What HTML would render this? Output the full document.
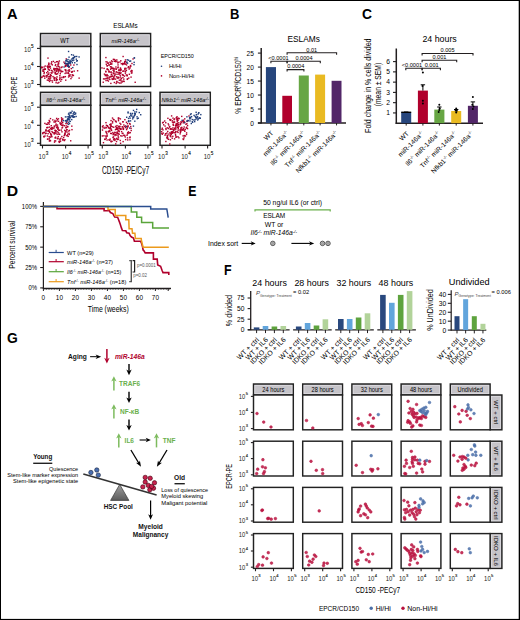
<!DOCTYPE html>
<html><head><meta charset="utf-8"><style>
html,body{margin:0;padding:0;background:#fff;width:520px;height:620px;overflow:hidden;}
svg{display:block;font-family:"Liberation Sans",sans-serif;}
</style></head><body>
<svg width="520" height="620" viewBox="0 0 520 620">
<rect x="0" y="0" width="520" height="620" fill="#fff"/>
<text x="7.00" y="18.80" font-size="14.5" font-weight="bold" fill="#000" textLength="10.60" lengthAdjust="spacingAndGlyphs" >A</text>
<text x="125.45" y="28.10" font-size="7.1" text-anchor="middle" textLength="24.50" lengthAdjust="spacingAndGlyphs" >ESLAMs</text>
<rect x="40.50" y="33.50" width="50.30" height="13.00" fill="#c6c4c9" stroke="#222" stroke-width="1.45"/>
<rect x="41.85" y="34.85" width="47.60" height="10.30" fill="none" stroke="#e0dfe3" stroke-width="0.7"/>
<rect x="40.50" y="46.50" width="50.30" height="40.00" fill="#fff" stroke="#222" stroke-width="1.45"/>
<text x="64.85" y="43.00" font-size="6.4" text-anchor="middle" textLength="9.10" lengthAdjust="spacingAndGlyphs" >WT</text>
<rect x="100.30" y="33.50" width="50.30" height="13.00" fill="#c6c4c9" stroke="#222" stroke-width="1.45"/>
<rect x="101.65" y="34.85" width="47.60" height="10.30" fill="none" stroke="#e0dfe3" stroke-width="0.7"/>
<rect x="100.30" y="46.50" width="50.30" height="40.00" fill="#fff" stroke="#222" stroke-width="1.45"/>
<text x="125.45" y="43.00" font-size="5.6" text-anchor="middle" font-style="italic">miR-146a<tspan font-size="3.7" dy="-2.1">-/-</tspan></text>
<rect x="40.50" y="92.30" width="50.30" height="13.00" fill="#c6c4c9" stroke="#222" stroke-width="1.45"/>
<rect x="41.85" y="93.65" width="47.60" height="10.30" fill="none" stroke="#e0dfe3" stroke-width="0.7"/>
<rect x="40.50" y="105.30" width="50.30" height="40.00" fill="#fff" stroke="#222" stroke-width="1.45"/>
<text x="65.65" y="101.80" font-size="5.6" text-anchor="middle" font-style="italic">Il6<tspan font-size="3.7" dy="-2.1">-/-</tspan><tspan dy="2.1"> miR-146a</tspan><tspan font-size="3.7" dy="-2.1">-/-</tspan></text>
<rect x="100.30" y="92.30" width="50.30" height="13.00" fill="#c6c4c9" stroke="#222" stroke-width="1.45"/>
<rect x="101.65" y="93.65" width="47.60" height="10.30" fill="none" stroke="#e0dfe3" stroke-width="0.7"/>
<rect x="100.30" y="105.30" width="50.30" height="40.00" fill="#fff" stroke="#222" stroke-width="1.45"/>
<text x="125.45" y="101.80" font-size="5.6" text-anchor="middle" font-style="italic">Tnf<tspan font-size="3.7" dy="-2.1">-/-</tspan><tspan dy="2.1"> miR-146a</tspan><tspan font-size="3.7" dy="-2.1">-/-</tspan></text>
<rect x="160.00" y="92.30" width="50.30" height="13.00" fill="#c6c4c9" stroke="#222" stroke-width="1.45"/>
<rect x="161.35" y="93.65" width="47.60" height="10.30" fill="none" stroke="#e0dfe3" stroke-width="0.7"/>
<rect x="160.00" y="105.30" width="50.30" height="40.00" fill="#fff" stroke="#222" stroke-width="1.45"/>
<text x="185.15" y="101.80" font-size="5.6" text-anchor="middle" font-style="italic">Nfkb1<tspan font-size="3.7" dy="-2.1">-/-</tspan><tspan dy="2.1"> miR-146a</tspan><tspan font-size="3.7" dy="-2.1">-/-</tspan></text>
<line x1="37.00" y1="48.40" x2="40.50" y2="48.40" stroke="#231f20" stroke-width="1.1" />
<text x="24.07" y="51.70" font-size="6.9" textLength="6.69" lengthAdjust="spacingAndGlyphs" fill="#231f20">10</text>
<text x="31.07" y="47.56" font-size="4.55" fill="#231f20" stroke="#231f20" stroke-width="0.15">5</text>
<line x1="37.00" y1="66.50" x2="40.50" y2="66.50" stroke="#231f20" stroke-width="1.1" />
<text x="24.07" y="69.80" font-size="6.9" textLength="6.69" lengthAdjust="spacingAndGlyphs" fill="#231f20">10</text>
<text x="31.07" y="65.66" font-size="4.55" fill="#231f20" stroke="#231f20" stroke-width="0.15">4</text>
<line x1="37.00" y1="84.50" x2="40.50" y2="84.50" stroke="#231f20" stroke-width="1.1" />
<text x="24.07" y="87.80" font-size="6.9" textLength="6.69" lengthAdjust="spacingAndGlyphs" fill="#231f20">10</text>
<text x="31.07" y="83.66" font-size="4.55" fill="#231f20" stroke="#231f20" stroke-width="0.15">3</text>
<line x1="37.00" y1="107.20" x2="40.50" y2="107.20" stroke="#231f20" stroke-width="1.1" />
<text x="24.07" y="110.50" font-size="6.9" textLength="6.69" lengthAdjust="spacingAndGlyphs" fill="#231f20">10</text>
<text x="31.07" y="106.36" font-size="4.55" fill="#231f20" stroke="#231f20" stroke-width="0.15">5</text>
<line x1="37.00" y1="125.30" x2="40.50" y2="125.30" stroke="#231f20" stroke-width="1.1" />
<text x="24.07" y="128.60" font-size="6.9" textLength="6.69" lengthAdjust="spacingAndGlyphs" fill="#231f20">10</text>
<text x="31.07" y="124.46" font-size="4.55" fill="#231f20" stroke="#231f20" stroke-width="0.15">4</text>
<line x1="37.00" y1="143.30" x2="40.50" y2="143.30" stroke="#231f20" stroke-width="1.1" />
<text x="24.07" y="146.60" font-size="6.9" textLength="6.69" lengthAdjust="spacingAndGlyphs" fill="#231f20">10</text>
<text x="31.07" y="142.46" font-size="4.55" fill="#231f20" stroke="#231f20" stroke-width="0.15">3</text>
<line x1="42.50" y1="145.30" x2="42.50" y2="148.50" stroke="#231f20" stroke-width="1.1" />
<text x="38.57" y="158.90" font-size="7.0" textLength="6.79" lengthAdjust="spacingAndGlyphs" fill="#231f20">10</text>
<text x="45.66" y="154.70" font-size="4.62" fill="#231f20" stroke="#231f20" stroke-width="0.15">3</text>
<line x1="65.60" y1="145.30" x2="65.60" y2="148.50" stroke="#231f20" stroke-width="1.1" />
<text x="61.67" y="158.90" font-size="7.0" textLength="6.79" lengthAdjust="spacingAndGlyphs" fill="#231f20">10</text>
<text x="68.76" y="154.70" font-size="4.62" fill="#231f20" stroke="#231f20" stroke-width="0.15">4</text>
<line x1="88.10" y1="145.30" x2="88.10" y2="148.50" stroke="#231f20" stroke-width="1.1" />
<text x="84.17" y="158.90" font-size="7.0" textLength="6.79" lengthAdjust="spacingAndGlyphs" fill="#231f20">10</text>
<text x="91.26" y="154.70" font-size="4.62" fill="#231f20" stroke="#231f20" stroke-width="0.15">5</text>
<line x1="102.30" y1="145.30" x2="102.30" y2="148.50" stroke="#231f20" stroke-width="1.1" />
<text x="98.37" y="158.90" font-size="7.0" textLength="6.79" lengthAdjust="spacingAndGlyphs" fill="#231f20">10</text>
<text x="105.46" y="154.70" font-size="4.62" fill="#231f20" stroke="#231f20" stroke-width="0.15">3</text>
<line x1="125.40" y1="145.30" x2="125.40" y2="148.50" stroke="#231f20" stroke-width="1.1" />
<text x="121.47" y="158.90" font-size="7.0" textLength="6.79" lengthAdjust="spacingAndGlyphs" fill="#231f20">10</text>
<text x="128.56" y="154.70" font-size="4.62" fill="#231f20" stroke="#231f20" stroke-width="0.15">4</text>
<line x1="147.90" y1="145.30" x2="147.90" y2="148.50" stroke="#231f20" stroke-width="1.1" />
<text x="143.97" y="158.90" font-size="7.0" textLength="6.79" lengthAdjust="spacingAndGlyphs" fill="#231f20">10</text>
<text x="151.06" y="154.70" font-size="4.62" fill="#231f20" stroke="#231f20" stroke-width="0.15">5</text>
<line x1="162.00" y1="145.30" x2="162.00" y2="148.50" stroke="#231f20" stroke-width="1.1" />
<text x="158.07" y="158.90" font-size="7.0" textLength="6.79" lengthAdjust="spacingAndGlyphs" fill="#231f20">10</text>
<text x="165.16" y="154.70" font-size="4.62" fill="#231f20" stroke="#231f20" stroke-width="0.15">3</text>
<line x1="185.10" y1="145.30" x2="185.10" y2="148.50" stroke="#231f20" stroke-width="1.1" />
<text x="181.17" y="158.90" font-size="7.0" textLength="6.79" lengthAdjust="spacingAndGlyphs" fill="#231f20">10</text>
<text x="188.26" y="154.70" font-size="4.62" fill="#231f20" stroke="#231f20" stroke-width="0.15">4</text>
<line x1="207.60" y1="145.30" x2="207.60" y2="148.50" stroke="#231f20" stroke-width="1.1" />
<text x="203.67" y="158.90" font-size="7.0" textLength="6.79" lengthAdjust="spacingAndGlyphs" fill="#231f20">10</text>
<text x="210.76" y="154.70" font-size="4.62" fill="#231f20" stroke="#231f20" stroke-width="0.15">5</text>
<text x="125.55" y="173.50" font-size="10.0" text-anchor="middle" textLength="47.30" lengthAdjust="spacingAndGlyphs" >CD150 -PE/Cy7</text>
<text x="16.70" y="89.40" font-size="9.2" text-anchor="middle" textLength="25.40" lengthAdjust="spacingAndGlyphs" transform="rotate(-90 16.70 89.40)" >EPCR-PE</text>
<text x="160.70" y="57.80" font-size="5.8" textLength="33.10" lengthAdjust="spacingAndGlyphs" >EPCR/CD150</text>
<circle cx="161.5" cy="66.3" r="0.8" fill="#203f7c"/>
<circle cx="161.5" cy="75.9" r="0.8" fill="#b0002c"/>
<text x="168.90" y="68.00" font-size="5.8" textLength="12.60" lengthAdjust="spacingAndGlyphs" >Hi/Hi</text>
<text x="168.90" y="77.60" font-size="5.8" textLength="25.30" lengthAdjust="spacingAndGlyphs" >Non-Hi/Hi</text>
<g>
<rect x="44.13" y="75.76" width="1.4" height="1.4" fill="#b0002c"/>
<rect x="57.55" y="68.60" width="1.4" height="1.4" fill="#b0002c"/>
<rect x="56.56" y="60.93" width="1.4" height="1.4" fill="#b0002c"/>
<rect x="53.67" y="79.57" width="1.4" height="1.4" fill="#b0002c"/>
<rect x="46.65" y="75.12" width="1.4" height="1.4" fill="#b0002c"/>
<rect x="48.92" y="69.43" width="1.4" height="1.4" fill="#b0002c"/>
<rect x="72.02" y="74.46" width="1.4" height="1.4" fill="#b0002c"/>
<rect x="49.62" y="79.45" width="1.4" height="1.4" fill="#b0002c"/>
<rect x="59.14" y="74.97" width="1.4" height="1.4" fill="#b0002c"/>
<rect x="57.96" y="61.47" width="1.4" height="1.4" fill="#b0002c"/>
<rect x="46.05" y="76.38" width="1.4" height="1.4" fill="#b0002c"/>
<rect x="49.82" y="74.03" width="1.4" height="1.4" fill="#b0002c"/>
<rect x="51.76" y="81.42" width="1.4" height="1.4" fill="#b0002c"/>
<rect x="56.70" y="79.09" width="1.4" height="1.4" fill="#b0002c"/>
<rect x="65.80" y="65.09" width="1.4" height="1.4" fill="#b0002c"/>
<rect x="53.45" y="77.94" width="1.4" height="1.4" fill="#b0002c"/>
<rect x="55.92" y="60.99" width="1.4" height="1.4" fill="#b0002c"/>
<rect x="57.29" y="64.50" width="1.4" height="1.4" fill="#b0002c"/>
<rect x="51.31" y="79.91" width="1.4" height="1.4" fill="#b0002c"/>
<rect x="48.27" y="69.10" width="1.4" height="1.4" fill="#b0002c"/>
<rect x="65.15" y="69.34" width="1.4" height="1.4" fill="#b0002c"/>
<rect x="68.28" y="74.63" width="1.4" height="1.4" fill="#b0002c"/>
<rect x="71.70" y="70.83" width="1.4" height="1.4" fill="#b0002c"/>
<rect x="52.32" y="75.90" width="1.4" height="1.4" fill="#b0002c"/>
<rect x="54.96" y="64.05" width="1.4" height="1.4" fill="#b0002c"/>
<rect x="43.38" y="66.31" width="1.4" height="1.4" fill="#b0002c"/>
<rect x="54.53" y="73.02" width="1.4" height="1.4" fill="#b0002c"/>
<rect x="63.29" y="61.43" width="1.4" height="1.4" fill="#b0002c"/>
<rect x="53.35" y="68.58" width="1.4" height="1.4" fill="#b0002c"/>
<rect x="60.88" y="70.81" width="1.4" height="1.4" fill="#b0002c"/>
<rect x="46.96" y="65.85" width="1.4" height="1.4" fill="#b0002c"/>
<rect x="50.81" y="69.67" width="1.4" height="1.4" fill="#b0002c"/>
<rect x="53.47" y="68.82" width="1.4" height="1.4" fill="#b0002c"/>
<rect x="68.46" y="68.90" width="1.4" height="1.4" fill="#b0002c"/>
<rect x="47.09" y="66.45" width="1.4" height="1.4" fill="#b0002c"/>
<rect x="70.23" y="77.91" width="1.4" height="1.4" fill="#b0002c"/>
<rect x="58.75" y="66.38" width="1.4" height="1.4" fill="#b0002c"/>
<rect x="42.48" y="75.42" width="1.4" height="1.4" fill="#b0002c"/>
<rect x="44.53" y="68.44" width="1.4" height="1.4" fill="#b0002c"/>
<rect x="42.41" y="69.06" width="1.4" height="1.4" fill="#b0002c"/>
<rect x="69.35" y="74.04" width="1.4" height="1.4" fill="#b0002c"/>
<rect x="47.66" y="68.51" width="1.4" height="1.4" fill="#b0002c"/>
<rect x="73.49" y="70.42" width="1.4" height="1.4" fill="#b0002c"/>
<rect x="59.61" y="73.02" width="1.4" height="1.4" fill="#b0002c"/>
<rect x="48.10" y="79.80" width="1.4" height="1.4" fill="#b0002c"/>
<rect x="57.29" y="63.47" width="1.4" height="1.4" fill="#b0002c"/>
<rect x="66.33" y="72.62" width="1.4" height="1.4" fill="#b0002c"/>
<rect x="64.67" y="64.98" width="1.4" height="1.4" fill="#b0002c"/>
<rect x="51.65" y="64.14" width="1.4" height="1.4" fill="#b0002c"/>
<rect x="42.18" y="70.30" width="1.4" height="1.4" fill="#b0002c"/>
<rect x="46.65" y="79.44" width="1.4" height="1.4" fill="#b0002c"/>
<rect x="65.34" y="63.40" width="1.4" height="1.4" fill="#b0002c"/>
<rect x="55.92" y="67.81" width="1.4" height="1.4" fill="#b0002c"/>
<rect x="55.06" y="72.91" width="1.4" height="1.4" fill="#b0002c"/>
<rect x="48.61" y="66.40" width="1.4" height="1.4" fill="#b0002c"/>
<rect x="65.00" y="69.86" width="1.4" height="1.4" fill="#b0002c"/>
<rect x="76.91" y="70.06" width="1.4" height="1.4" fill="#b0002c"/>
<rect x="46.56" y="65.71" width="1.4" height="1.4" fill="#b0002c"/>
<rect x="45.99" y="75.06" width="1.4" height="1.4" fill="#b0002c"/>
<rect x="61.40" y="66.24" width="1.4" height="1.4" fill="#b0002c"/>
<rect x="57.37" y="69.52" width="1.4" height="1.4" fill="#b0002c"/>
<rect x="68.53" y="66.14" width="1.4" height="1.4" fill="#b0002c"/>
<rect x="51.14" y="72.46" width="1.4" height="1.4" fill="#b0002c"/>
<rect x="48.91" y="80.78" width="1.4" height="1.4" fill="#b0002c"/>
<rect x="49.63" y="75.47" width="1.4" height="1.4" fill="#b0002c"/>
<rect x="55.50" y="68.46" width="1.4" height="1.4" fill="#b0002c"/>
<rect x="66.98" y="63.13" width="1.4" height="1.4" fill="#b0002c"/>
<rect x="68.35" y="70.38" width="1.4" height="1.4" fill="#b0002c"/>
<rect x="58.00" y="63.07" width="1.4" height="1.4" fill="#b0002c"/>
<rect x="72.72" y="74.76" width="1.4" height="1.4" fill="#b0002c"/>
<rect x="64.39" y="69.11" width="1.4" height="1.4" fill="#b0002c"/>
<rect x="58.93" y="68.29" width="1.4" height="1.4" fill="#b0002c"/>
<rect x="49.08" y="65.95" width="1.4" height="1.4" fill="#b0002c"/>
<rect x="55.79" y="77.64" width="1.4" height="1.4" fill="#b0002c"/>
<rect x="70.59" y="67.88" width="1.4" height="1.4" fill="#b0002c"/>
<rect x="70.86" y="71.35" width="1.4" height="1.4" fill="#b0002c"/>
<rect x="54.70" y="71.69" width="1.4" height="1.4" fill="#b0002c"/>
<rect x="66.73" y="63.75" width="1.4" height="1.4" fill="#b0002c"/>
<rect x="54.66" y="64.81" width="1.4" height="1.4" fill="#b0002c"/>
<rect x="56.94" y="73.08" width="1.4" height="1.4" fill="#b0002c"/>
<rect x="64.66" y="75.95" width="1.4" height="1.4" fill="#b0002c"/>
<rect x="48.52" y="78.46" width="1.4" height="1.4" fill="#b0002c"/>
<rect x="43.32" y="68.66" width="1.4" height="1.4" fill="#b0002c"/>
<rect x="45.59" y="74.85" width="1.4" height="1.4" fill="#b0002c"/>
<rect x="43.59" y="71.57" width="1.4" height="1.4" fill="#b0002c"/>
<rect x="47.04" y="70.79" width="1.4" height="1.4" fill="#b0002c"/>
<rect x="50.97" y="61.12" width="1.4" height="1.4" fill="#b0002c"/>
<rect x="55.66" y="78.97" width="1.4" height="1.4" fill="#b0002c"/>
<rect x="58.72" y="69.15" width="1.4" height="1.4" fill="#b0002c"/>
<rect x="54.28" y="61.83" width="1.4" height="1.4" fill="#b0002c"/>
<rect x="41.42" y="76.28" width="1.4" height="1.4" fill="#b0002c"/>
<rect x="60.14" y="69.72" width="1.4" height="1.4" fill="#b0002c"/>
<rect x="53.84" y="69.26" width="1.4" height="1.4" fill="#b0002c"/>
<rect x="62.02" y="70.81" width="1.4" height="1.4" fill="#b0002c"/>
<rect x="48.60" y="75.92" width="1.4" height="1.4" fill="#b0002c"/>
<rect x="58.74" y="68.83" width="1.4" height="1.4" fill="#b0002c"/>
<rect x="56.84" y="68.00" width="1.4" height="1.4" fill="#b0002c"/>
<rect x="49.97" y="77.23" width="1.4" height="1.4" fill="#b0002c"/>
<rect x="58.18" y="70.34" width="1.4" height="1.4" fill="#b0002c"/>
<rect x="50.43" y="74.91" width="1.4" height="1.4" fill="#b0002c"/>
<rect x="78.43" y="77.43" width="1.4" height="1.4" fill="#b0002c"/>
<rect x="60.14" y="71.20" width="1.4" height="1.4" fill="#b0002c"/>
<rect x="48.30" y="63.37" width="1.4" height="1.4" fill="#b0002c"/>
<rect x="47.89" y="63.85" width="1.4" height="1.4" fill="#b0002c"/>
<rect x="44.66" y="68.47" width="1.4" height="1.4" fill="#b0002c"/>
<rect x="40.88" y="76.74" width="1.4" height="1.4" fill="#b0002c"/>
<rect x="60.99" y="78.73" width="1.4" height="1.4" fill="#b0002c"/>
<rect x="68.95" y="70.29" width="1.4" height="1.4" fill="#b0002c"/>
<rect x="58.15" y="81.76" width="1.4" height="1.4" fill="#b0002c"/>
<rect x="43.37" y="72.87" width="1.4" height="1.4" fill="#b0002c"/>
<rect x="49.75" y="67.44" width="1.4" height="1.4" fill="#b0002c"/>
<rect x="53.87" y="78.26" width="1.4" height="1.4" fill="#b0002c"/>
<rect x="64.43" y="72.73" width="1.4" height="1.4" fill="#b0002c"/>
<rect x="55.42" y="82.04" width="1.4" height="1.4" fill="#b0002c"/>
<rect x="67.42" y="69.83" width="1.4" height="1.4" fill="#b0002c"/>
<rect x="60.51" y="66.84" width="1.4" height="1.4" fill="#b0002c"/>
<rect x="47.30" y="57.40" width="1.4" height="1.4" fill="#b0002c"/>
<rect x="67.88" y="76.27" width="1.4" height="1.4" fill="#b0002c"/>
<rect x="49.96" y="74.93" width="1.4" height="1.4" fill="#b0002c"/>
<rect x="64.70" y="65.78" width="1.4" height="1.4" fill="#b0002c"/>
<rect x="69.22" y="75.37" width="1.4" height="1.4" fill="#b0002c"/>
<rect x="47.31" y="67.24" width="1.4" height="1.4" fill="#b0002c"/>
<rect x="61.25" y="76.71" width="1.4" height="1.4" fill="#b0002c"/>
<rect x="57.94" y="65.74" width="1.4" height="1.4" fill="#b0002c"/>
<rect x="53.45" y="76.79" width="1.4" height="1.4" fill="#b0002c"/>
<rect x="52.17" y="71.34" width="1.4" height="1.4" fill="#b0002c"/>
<rect x="59.28" y="78.02" width="1.4" height="1.4" fill="#b0002c"/>
<rect x="48.08" y="62.44" width="1.4" height="1.4" fill="#b0002c"/>
<rect x="49.48" y="65.75" width="1.4" height="1.4" fill="#b0002c"/>
<rect x="42.70" y="70.56" width="1.4" height="1.4" fill="#b0002c"/>
<rect x="52.68" y="60.69" width="1.4" height="1.4" fill="#b0002c"/>
<rect x="44.08" y="77.48" width="1.4" height="1.4" fill="#b0002c"/>
<rect x="71.47" y="74.17" width="1.4" height="1.4" fill="#b0002c"/>
<rect x="46.89" y="65.59" width="1.4" height="1.4" fill="#b0002c"/>
<rect x="62.78" y="76.81" width="1.4" height="1.4" fill="#b0002c"/>
<rect x="63.93" y="62.84" width="1.4" height="1.4" fill="#b0002c"/>
<rect x="41.15" y="66.35" width="1.4" height="1.4" fill="#b0002c"/>
<rect x="54.21" y="68.08" width="1.4" height="1.4" fill="#b0002c"/>
<rect x="43.51" y="68.96" width="1.4" height="1.4" fill="#b0002c"/>
<rect x="68.01" y="72.78" width="1.4" height="1.4" fill="#b0002c"/>
<rect x="47.50" y="66.08" width="1.4" height="1.4" fill="#b0002c"/>
<rect x="71.13" y="71.51" width="1.4" height="1.4" fill="#b0002c"/>
<rect x="46.03" y="72.02" width="1.4" height="1.4" fill="#b0002c"/>
<rect x="68.71" y="75.07" width="1.4" height="1.4" fill="#b0002c"/>
<rect x="41.47" y="66.79" width="1.4" height="1.4" fill="#b0002c"/>
<rect x="60.08" y="80.49" width="1.4" height="1.4" fill="#b0002c"/>
<rect x="48.16" y="72.28" width="1.4" height="1.4" fill="#b0002c"/>
<rect x="50.57" y="63.26" width="1.4" height="1.4" fill="#b0002c"/>
<rect x="54.22" y="70.11" width="1.4" height="1.4" fill="#b0002c"/>
<rect x="47.72" y="77.80" width="1.4" height="1.4" fill="#b0002c"/>
<rect x="58.66" y="60.27" width="1.4" height="1.4" fill="#b0002c"/>
<rect x="48.24" y="76.11" width="1.4" height="1.4" fill="#b0002c"/>
<rect x="53.20" y="67.76" width="1.4" height="1.4" fill="#b0002c"/>
<rect x="47.23" y="73.49" width="1.4" height="1.4" fill="#b0002c"/>
<rect x="70.02" y="64.27" width="1.4" height="1.4" fill="#b0002c"/>
<rect x="57.74" y="71.34" width="1.4" height="1.4" fill="#b0002c"/>
<rect x="65.56" y="58.20" width="1.4" height="1.4" fill="#b0002c"/>
<rect x="48.24" y="65.26" width="1.4" height="1.4" fill="#b0002c"/>
<rect x="58.98" y="78.87" width="1.4" height="1.4" fill="#b0002c"/>
<rect x="57.14" y="82.41" width="1.4" height="1.4" fill="#b0002c"/>
<rect x="67.46" y="71.63" width="1.4" height="1.4" fill="#b0002c"/>
<rect x="54.56" y="67.97" width="1.4" height="1.4" fill="#b0002c"/>
<rect x="54.45" y="71.97" width="1.4" height="1.4" fill="#b0002c"/>
<rect x="56.01" y="70.65" width="1.4" height="1.4" fill="#b0002c"/>
<rect x="43.78" y="68.56" width="1.4" height="1.4" fill="#b0002c"/>
<rect x="65.04" y="79.47" width="1.4" height="1.4" fill="#b0002c"/>
<rect x="71.16" y="76.30" width="1.4" height="1.4" fill="#b0002c"/>
<rect x="54.32" y="77.10" width="1.4" height="1.4" fill="#b0002c"/>
<rect x="51.44" y="70.27" width="1.4" height="1.4" fill="#b0002c"/>
<rect x="67.97" y="66.37" width="1.4" height="1.4" fill="#b0002c"/>
<rect x="56.33" y="76.19" width="1.4" height="1.4" fill="#b0002c"/>
<rect x="59.26" y="76.73" width="1.4" height="1.4" fill="#b0002c"/>
<rect x="67.64" y="64.62" width="1.4" height="1.4" fill="#b0002c"/>
<rect x="73.18" y="64.35" width="1.4" height="1.4" fill="#b0002c"/>
<rect x="55.80" y="70.07" width="1.4" height="1.4" fill="#b0002c"/>
<rect x="43.08" y="75.09" width="1.4" height="1.4" fill="#b0002c"/>
<rect x="55.71" y="73.55" width="1.4" height="1.4" fill="#b0002c"/>
<rect x="62.84" y="76.11" width="1.4" height="1.4" fill="#b0002c"/>
<rect x="49.25" y="77.65" width="1.4" height="1.4" fill="#b0002c"/>
<rect x="55.53" y="79.98" width="1.4" height="1.4" fill="#b0002c"/>
<rect x="58.30" y="69.25" width="1.4" height="1.4" fill="#b0002c"/>
<rect x="44.51" y="65.34" width="1.4" height="1.4" fill="#b0002c"/>
<rect x="50.45" y="72.07" width="1.4" height="1.4" fill="#b0002c"/>
<rect x="65.37" y="71.36" width="1.4" height="1.4" fill="#b0002c"/>
<rect x="50.79" y="62.38" width="1.4" height="1.4" fill="#b0002c"/>
<rect x="47.88" y="73.72" width="1.4" height="1.4" fill="#b0002c"/>
<rect x="56.28" y="66.03" width="1.4" height="1.4" fill="#b0002c"/>
<rect x="57.14" y="68.88" width="1.4" height="1.4" fill="#b0002c"/>
<rect x="41.03" y="67.09" width="1.4" height="1.4" fill="#b0002c"/>
<rect x="63.21" y="76.27" width="1.4" height="1.4" fill="#b0002c"/>
<rect x="71.03" y="58.38" width="1.4" height="1.4" fill="#203f7c"/>
<rect x="65.29" y="60.05" width="1.4" height="1.4" fill="#203f7c"/>
<rect x="75.62" y="58.48" width="1.4" height="1.4" fill="#203f7c"/>
<rect x="73.09" y="59.41" width="1.4" height="1.4" fill="#203f7c"/>
<rect x="72.72" y="54.48" width="1.4" height="1.4" fill="#203f7c"/>
<rect x="69.32" y="61.67" width="1.4" height="1.4" fill="#203f7c"/>
<rect x="69.66" y="62.40" width="1.4" height="1.4" fill="#203f7c"/>
<rect x="68.33" y="56.46" width="1.4" height="1.4" fill="#203f7c"/>
<rect x="64.66" y="62.36" width="1.4" height="1.4" fill="#203f7c"/>
<rect x="73.81" y="56.02" width="1.4" height="1.4" fill="#203f7c"/>
<rect x="67.33" y="58.84" width="1.4" height="1.4" fill="#203f7c"/>
<rect x="65.34" y="62.88" width="1.4" height="1.4" fill="#203f7c"/>
<rect x="70.41" y="60.75" width="1.4" height="1.4" fill="#203f7c"/>
<rect x="66.03" y="59.66" width="1.4" height="1.4" fill="#203f7c"/>
<rect x="70.91" y="54.03" width="1.4" height="1.4" fill="#203f7c"/>
<rect x="68.67" y="65.96" width="1.4" height="1.4" fill="#203f7c"/>
<rect x="72.52" y="57.37" width="1.4" height="1.4" fill="#203f7c"/>
<rect x="72.57" y="57.21" width="1.4" height="1.4" fill="#203f7c"/>
<rect x="69.27" y="62.40" width="1.4" height="1.4" fill="#203f7c"/>
<rect x="65.43" y="63.23" width="1.4" height="1.4" fill="#203f7c"/>
<rect x="69.45" y="61.01" width="1.4" height="1.4" fill="#203f7c"/>
<rect x="68.03" y="62.79" width="1.4" height="1.4" fill="#203f7c"/>
<rect x="74.04" y="62.05" width="1.4" height="1.4" fill="#203f7c"/>
<rect x="72.09" y="66.91" width="1.4" height="1.4" fill="#203f7c"/>
<rect x="74.41" y="55.85" width="1.4" height="1.4" fill="#203f7c"/>
<rect x="73.46" y="56.85" width="1.4" height="1.4" fill="#203f7c"/>
<rect x="66.85" y="60.93" width="1.4" height="1.4" fill="#203f7c"/>
<rect x="67.98" y="62.60" width="1.4" height="1.4" fill="#203f7c"/>
<rect x="71.60" y="62.03" width="1.4" height="1.4" fill="#203f7c"/>
<rect x="67.60" y="65.49" width="1.4" height="1.4" fill="#203f7c"/>
<rect x="67.87" y="50.78" width="1.4" height="1.4" fill="#203f7c"/>
<rect x="68.14" y="62.19" width="1.4" height="1.4" fill="#203f7c"/>
<rect x="69.28" y="59.58" width="1.4" height="1.4" fill="#203f7c"/>
<rect x="66.64" y="62.84" width="1.4" height="1.4" fill="#203f7c"/>
<rect x="65.79" y="59.35" width="1.4" height="1.4" fill="#203f7c"/>
<rect x="76.29" y="63.83" width="1.4" height="1.4" fill="#203f7c"/>
<rect x="67.01" y="64.71" width="1.4" height="1.4" fill="#203f7c"/>
<rect x="68.20" y="60.94" width="1.4" height="1.4" fill="#203f7c"/>
<rect x="63.36" y="66.32" width="1.4" height="1.4" fill="#203f7c"/>
<rect x="67.13" y="65.58" width="1.4" height="1.4" fill="#203f7c"/>
<rect x="67.88" y="64.39" width="1.4" height="1.4" fill="#203f7c"/>
<rect x="70.28" y="60.26" width="1.4" height="1.4" fill="#203f7c"/>
<rect x="76.00" y="55.79" width="1.4" height="1.4" fill="#203f7c"/>
<rect x="72.08" y="58.09" width="1.4" height="1.4" fill="#203f7c"/>
<rect x="76.60" y="59.98" width="1.4" height="1.4" fill="#203f7c"/>
<rect x="72.76" y="57.28" width="1.4" height="1.4" fill="#203f7c"/>
<rect x="75.95" y="60.34" width="1.4" height="1.4" fill="#203f7c"/>
<rect x="72.04" y="59.97" width="1.4" height="1.4" fill="#203f7c"/>
<rect x="78.38" y="56.24" width="1.4" height="1.4" fill="#203f7c"/>
<rect x="65.33" y="60.40" width="1.4" height="1.4" fill="#203f7c"/>
</g>
<g>
<rect x="120.09" y="68.97" width="1.4" height="1.4" fill="#b0002c"/>
<rect x="114.79" y="59.72" width="1.4" height="1.4" fill="#b0002c"/>
<rect x="110.58" y="67.68" width="1.4" height="1.4" fill="#b0002c"/>
<rect x="111.45" y="78.08" width="1.4" height="1.4" fill="#b0002c"/>
<rect x="106.27" y="77.55" width="1.4" height="1.4" fill="#b0002c"/>
<rect x="117.46" y="66.35" width="1.4" height="1.4" fill="#b0002c"/>
<rect x="132.36" y="58.24" width="1.4" height="1.4" fill="#b0002c"/>
<rect x="115.75" y="76.08" width="1.4" height="1.4" fill="#b0002c"/>
<rect x="107.43" y="69.04" width="1.4" height="1.4" fill="#b0002c"/>
<rect x="110.08" y="62.19" width="1.4" height="1.4" fill="#b0002c"/>
<rect x="113.85" y="68.26" width="1.4" height="1.4" fill="#b0002c"/>
<rect x="113.16" y="78.37" width="1.4" height="1.4" fill="#b0002c"/>
<rect x="123.30" y="62.93" width="1.4" height="1.4" fill="#b0002c"/>
<rect x="107.78" y="62.40" width="1.4" height="1.4" fill="#b0002c"/>
<rect x="109.92" y="68.52" width="1.4" height="1.4" fill="#b0002c"/>
<rect x="131.31" y="70.36" width="1.4" height="1.4" fill="#b0002c"/>
<rect x="125.52" y="74.27" width="1.4" height="1.4" fill="#b0002c"/>
<rect x="122.61" y="74.60" width="1.4" height="1.4" fill="#b0002c"/>
<rect x="124.76" y="59.25" width="1.4" height="1.4" fill="#b0002c"/>
<rect x="109.30" y="61.48" width="1.4" height="1.4" fill="#b0002c"/>
<rect x="130.70" y="72.30" width="1.4" height="1.4" fill="#b0002c"/>
<rect x="105.35" y="79.86" width="1.4" height="1.4" fill="#b0002c"/>
<rect x="108.24" y="78.09" width="1.4" height="1.4" fill="#b0002c"/>
<rect x="123.75" y="75.46" width="1.4" height="1.4" fill="#b0002c"/>
<rect x="117.25" y="76.37" width="1.4" height="1.4" fill="#b0002c"/>
<rect x="106.48" y="65.00" width="1.4" height="1.4" fill="#b0002c"/>
<rect x="112.87" y="67.62" width="1.4" height="1.4" fill="#b0002c"/>
<rect x="110.36" y="75.51" width="1.4" height="1.4" fill="#b0002c"/>
<rect x="109.88" y="63.57" width="1.4" height="1.4" fill="#b0002c"/>
<rect x="113.21" y="70.26" width="1.4" height="1.4" fill="#b0002c"/>
<rect x="112.50" y="72.19" width="1.4" height="1.4" fill="#b0002c"/>
<rect x="119.57" y="72.59" width="1.4" height="1.4" fill="#b0002c"/>
<rect x="110.64" y="73.63" width="1.4" height="1.4" fill="#b0002c"/>
<rect x="130.08" y="65.51" width="1.4" height="1.4" fill="#b0002c"/>
<rect x="110.95" y="75.86" width="1.4" height="1.4" fill="#b0002c"/>
<rect x="122.93" y="70.39" width="1.4" height="1.4" fill="#b0002c"/>
<rect x="122.98" y="63.05" width="1.4" height="1.4" fill="#b0002c"/>
<rect x="128.45" y="68.37" width="1.4" height="1.4" fill="#b0002c"/>
<rect x="102.89" y="78.21" width="1.4" height="1.4" fill="#b0002c"/>
<rect x="116.48" y="71.66" width="1.4" height="1.4" fill="#b0002c"/>
<rect x="105.37" y="61.05" width="1.4" height="1.4" fill="#b0002c"/>
<rect x="119.65" y="67.40" width="1.4" height="1.4" fill="#b0002c"/>
<rect x="119.52" y="74.53" width="1.4" height="1.4" fill="#b0002c"/>
<rect x="119.01" y="69.37" width="1.4" height="1.4" fill="#b0002c"/>
<rect x="122.41" y="55.81" width="1.4" height="1.4" fill="#b0002c"/>
<rect x="130.78" y="69.77" width="1.4" height="1.4" fill="#b0002c"/>
<rect x="129.22" y="67.44" width="1.4" height="1.4" fill="#b0002c"/>
<rect x="105.62" y="63.54" width="1.4" height="1.4" fill="#b0002c"/>
<rect x="124.80" y="63.44" width="1.4" height="1.4" fill="#b0002c"/>
<rect x="126.71" y="78.65" width="1.4" height="1.4" fill="#b0002c"/>
<rect x="106.92" y="68.63" width="1.4" height="1.4" fill="#b0002c"/>
<rect x="112.94" y="72.97" width="1.4" height="1.4" fill="#b0002c"/>
<rect x="122.88" y="80.52" width="1.4" height="1.4" fill="#b0002c"/>
<rect x="117.76" y="77.20" width="1.4" height="1.4" fill="#b0002c"/>
<rect x="118.93" y="71.93" width="1.4" height="1.4" fill="#b0002c"/>
<rect x="113.09" y="76.78" width="1.4" height="1.4" fill="#b0002c"/>
<rect x="105.98" y="75.15" width="1.4" height="1.4" fill="#b0002c"/>
<rect x="113.86" y="58.88" width="1.4" height="1.4" fill="#b0002c"/>
<rect x="110.32" y="71.31" width="1.4" height="1.4" fill="#b0002c"/>
<rect x="117.35" y="64.22" width="1.4" height="1.4" fill="#b0002c"/>
<rect x="114.96" y="60.94" width="1.4" height="1.4" fill="#b0002c"/>
<rect x="113.61" y="60.61" width="1.4" height="1.4" fill="#b0002c"/>
<rect x="116.12" y="59.23" width="1.4" height="1.4" fill="#b0002c"/>
<rect x="126.40" y="75.19" width="1.4" height="1.4" fill="#b0002c"/>
<rect x="113.30" y="70.76" width="1.4" height="1.4" fill="#b0002c"/>
<rect x="102.55" y="81.54" width="1.4" height="1.4" fill="#b0002c"/>
<rect x="123.11" y="78.44" width="1.4" height="1.4" fill="#b0002c"/>
<rect x="130.97" y="69.99" width="1.4" height="1.4" fill="#b0002c"/>
<rect x="119.69" y="68.83" width="1.4" height="1.4" fill="#b0002c"/>
<rect x="118.30" y="69.77" width="1.4" height="1.4" fill="#b0002c"/>
<rect x="123.87" y="61.89" width="1.4" height="1.4" fill="#b0002c"/>
<rect x="113.64" y="81.77" width="1.4" height="1.4" fill="#b0002c"/>
<rect x="115.87" y="81.37" width="1.4" height="1.4" fill="#b0002c"/>
<rect x="108.33" y="71.25" width="1.4" height="1.4" fill="#b0002c"/>
<rect x="121.46" y="80.53" width="1.4" height="1.4" fill="#b0002c"/>
<rect x="124.77" y="60.75" width="1.4" height="1.4" fill="#b0002c"/>
<rect x="111.16" y="66.71" width="1.4" height="1.4" fill="#b0002c"/>
<rect x="106.51" y="68.49" width="1.4" height="1.4" fill="#b0002c"/>
<rect x="134.49" y="81.58" width="1.4" height="1.4" fill="#b0002c"/>
<rect x="105.24" y="77.83" width="1.4" height="1.4" fill="#b0002c"/>
<rect x="131.25" y="72.13" width="1.4" height="1.4" fill="#b0002c"/>
<rect x="124.14" y="69.01" width="1.4" height="1.4" fill="#b0002c"/>
<rect x="125.87" y="64.20" width="1.4" height="1.4" fill="#b0002c"/>
<rect x="125.71" y="69.61" width="1.4" height="1.4" fill="#b0002c"/>
<rect x="115.63" y="71.14" width="1.4" height="1.4" fill="#b0002c"/>
<rect x="104.75" y="74.16" width="1.4" height="1.4" fill="#b0002c"/>
<rect x="116.20" y="80.74" width="1.4" height="1.4" fill="#b0002c"/>
<rect x="107.21" y="75.00" width="1.4" height="1.4" fill="#b0002c"/>
<rect x="103.40" y="67.70" width="1.4" height="1.4" fill="#b0002c"/>
<rect x="118.43" y="72.94" width="1.4" height="1.4" fill="#b0002c"/>
<rect x="119.70" y="70.01" width="1.4" height="1.4" fill="#b0002c"/>
<rect x="120.15" y="79.97" width="1.4" height="1.4" fill="#b0002c"/>
<rect x="111.00" y="73.70" width="1.4" height="1.4" fill="#b0002c"/>
<rect x="120.37" y="72.19" width="1.4" height="1.4" fill="#b0002c"/>
<rect x="120.39" y="69.20" width="1.4" height="1.4" fill="#b0002c"/>
<rect x="115.21" y="66.32" width="1.4" height="1.4" fill="#b0002c"/>
<rect x="124.69" y="72.46" width="1.4" height="1.4" fill="#b0002c"/>
<rect x="117.40" y="81.83" width="1.4" height="1.4" fill="#b0002c"/>
<rect x="106.33" y="73.90" width="1.4" height="1.4" fill="#b0002c"/>
<rect x="107.15" y="62.62" width="1.4" height="1.4" fill="#b0002c"/>
<rect x="109.80" y="66.01" width="1.4" height="1.4" fill="#b0002c"/>
<rect x="128.06" y="77.43" width="1.4" height="1.4" fill="#b0002c"/>
<rect x="130.26" y="70.68" width="1.4" height="1.4" fill="#b0002c"/>
<rect x="103.75" y="73.42" width="1.4" height="1.4" fill="#b0002c"/>
<rect x="116.33" y="73.57" width="1.4" height="1.4" fill="#b0002c"/>
<rect x="101.27" y="67.24" width="1.4" height="1.4" fill="#b0002c"/>
<rect x="110.90" y="60.10" width="1.4" height="1.4" fill="#b0002c"/>
<rect x="114.84" y="78.41" width="1.4" height="1.4" fill="#b0002c"/>
<rect x="124.89" y="71.02" width="1.4" height="1.4" fill="#b0002c"/>
<rect x="120.27" y="82.33" width="1.4" height="1.4" fill="#b0002c"/>
<rect x="108.25" y="64.46" width="1.4" height="1.4" fill="#b0002c"/>
<rect x="127.48" y="66.95" width="1.4" height="1.4" fill="#b0002c"/>
<rect x="127.78" y="66.01" width="1.4" height="1.4" fill="#b0002c"/>
<rect x="128.64" y="73.58" width="1.4" height="1.4" fill="#b0002c"/>
<rect x="105.21" y="56.87" width="1.4" height="1.4" fill="#b0002c"/>
<rect x="122.00" y="62.72" width="1.4" height="1.4" fill="#b0002c"/>
<rect x="104.68" y="74.94" width="1.4" height="1.4" fill="#b0002c"/>
<rect x="113.96" y="74.74" width="1.4" height="1.4" fill="#b0002c"/>
<rect x="130.36" y="76.40" width="1.4" height="1.4" fill="#b0002c"/>
<rect x="129.31" y="66.35" width="1.4" height="1.4" fill="#b0002c"/>
<rect x="121.87" y="73.93" width="1.4" height="1.4" fill="#b0002c"/>
<rect x="115.57" y="68.61" width="1.4" height="1.4" fill="#b0002c"/>
<rect x="106.76" y="79.53" width="1.4" height="1.4" fill="#b0002c"/>
<rect x="117.95" y="69.32" width="1.4" height="1.4" fill="#b0002c"/>
<rect x="131.28" y="62.80" width="1.4" height="1.4" fill="#b0002c"/>
<rect x="106.53" y="61.40" width="1.4" height="1.4" fill="#b0002c"/>
<rect x="126.75" y="78.21" width="1.4" height="1.4" fill="#b0002c"/>
<rect x="120.62" y="63.06" width="1.4" height="1.4" fill="#b0002c"/>
<rect x="123.91" y="63.05" width="1.4" height="1.4" fill="#b0002c"/>
<rect x="113.40" y="58.84" width="1.4" height="1.4" fill="#b0002c"/>
<rect x="108.95" y="76.50" width="1.4" height="1.4" fill="#b0002c"/>
<rect x="110.16" y="82.70" width="1.4" height="1.4" fill="#b0002c"/>
<rect x="121.99" y="63.87" width="1.4" height="1.4" fill="#b0002c"/>
<rect x="113.06" y="69.31" width="1.4" height="1.4" fill="#b0002c"/>
<rect x="109.11" y="78.75" width="1.4" height="1.4" fill="#b0002c"/>
<rect x="118.91" y="82.34" width="1.4" height="1.4" fill="#b0002c"/>
<rect x="125.87" y="62.10" width="1.4" height="1.4" fill="#b0002c"/>
<rect x="106.41" y="77.77" width="1.4" height="1.4" fill="#b0002c"/>
<rect x="124.51" y="70.64" width="1.4" height="1.4" fill="#b0002c"/>
<rect x="117.19" y="67.08" width="1.4" height="1.4" fill="#b0002c"/>
<rect x="107.68" y="80.40" width="1.4" height="1.4" fill="#b0002c"/>
<rect x="129.78" y="64.80" width="1.4" height="1.4" fill="#b0002c"/>
<rect x="122.08" y="70.51" width="1.4" height="1.4" fill="#b0002c"/>
<rect x="120.10" y="60.08" width="1.4" height="1.4" fill="#b0002c"/>
<rect x="111.50" y="61.01" width="1.4" height="1.4" fill="#b0002c"/>
<rect x="111.12" y="75.77" width="1.4" height="1.4" fill="#b0002c"/>
<rect x="106.54" y="65.21" width="1.4" height="1.4" fill="#b0002c"/>
<rect x="108.48" y="71.05" width="1.4" height="1.4" fill="#b0002c"/>
<rect x="116.66" y="77.39" width="1.4" height="1.4" fill="#b0002c"/>
<rect x="116.15" y="60.77" width="1.4" height="1.4" fill="#b0002c"/>
<rect x="111.93" y="75.30" width="1.4" height="1.4" fill="#b0002c"/>
<rect x="126.61" y="74.45" width="1.4" height="1.4" fill="#b0002c"/>
<rect x="119.70" y="76.28" width="1.4" height="1.4" fill="#b0002c"/>
<rect x="112.38" y="69.45" width="1.4" height="1.4" fill="#b0002c"/>
<rect x="119.95" y="67.72" width="1.4" height="1.4" fill="#b0002c"/>
<rect x="109.55" y="76.16" width="1.4" height="1.4" fill="#b0002c"/>
<rect x="118.26" y="73.58" width="1.4" height="1.4" fill="#b0002c"/>
<rect x="110.34" y="71.58" width="1.4" height="1.4" fill="#b0002c"/>
<rect x="110.38" y="63.20" width="1.4" height="1.4" fill="#b0002c"/>
<rect x="115.34" y="68.07" width="1.4" height="1.4" fill="#b0002c"/>
<rect x="121.73" y="74.08" width="1.4" height="1.4" fill="#b0002c"/>
<rect x="119.19" y="61.31" width="1.4" height="1.4" fill="#b0002c"/>
<rect x="106.23" y="74.66" width="1.4" height="1.4" fill="#b0002c"/>
<rect x="106.55" y="68.36" width="1.4" height="1.4" fill="#b0002c"/>
<rect x="112.62" y="78.25" width="1.4" height="1.4" fill="#b0002c"/>
<rect x="105.19" y="71.20" width="1.4" height="1.4" fill="#b0002c"/>
<rect x="122.21" y="76.88" width="1.4" height="1.4" fill="#b0002c"/>
<rect x="123.39" y="80.77" width="1.4" height="1.4" fill="#b0002c"/>
<rect x="118.13" y="76.98" width="1.4" height="1.4" fill="#b0002c"/>
<rect x="107.25" y="76.73" width="1.4" height="1.4" fill="#b0002c"/>
<rect x="117.55" y="61.54" width="1.4" height="1.4" fill="#b0002c"/>
<rect x="111.20" y="63.23" width="1.4" height="1.4" fill="#b0002c"/>
<rect x="111.73" y="78.74" width="1.4" height="1.4" fill="#b0002c"/>
<rect x="113.27" y="78.01" width="1.4" height="1.4" fill="#b0002c"/>
<rect x="111.90" y="67.65" width="1.4" height="1.4" fill="#b0002c"/>
<rect x="114.39" y="73.92" width="1.4" height="1.4" fill="#b0002c"/>
<rect x="121.32" y="81.41" width="1.4" height="1.4" fill="#b0002c"/>
<rect x="120.67" y="77.61" width="1.4" height="1.4" fill="#b0002c"/>
<rect x="115.48" y="82.76" width="1.4" height="1.4" fill="#b0002c"/>
<rect x="117.17" y="62.21" width="1.4" height="1.4" fill="#b0002c"/>
<rect x="124.25" y="67.82" width="1.4" height="1.4" fill="#b0002c"/>
<rect x="118.15" y="71.74" width="1.4" height="1.4" fill="#b0002c"/>
<rect x="105.12" y="70.57" width="1.4" height="1.4" fill="#b0002c"/>
<rect x="108.16" y="70.27" width="1.4" height="1.4" fill="#b0002c"/>
<rect x="118.63" y="79.50" width="1.4" height="1.4" fill="#b0002c"/>
<rect x="124.08" y="60.97" width="1.4" height="1.4" fill="#b0002c"/>
<rect x="114.22" y="72.48" width="1.4" height="1.4" fill="#b0002c"/>
<rect x="112.64" y="58.68" width="1.4" height="1.4" fill="#b0002c"/>
<rect x="113.30" y="75.89" width="1.4" height="1.4" fill="#b0002c"/>
<rect x="108.40" y="64.16" width="1.4" height="1.4" fill="#b0002c"/>
<rect x="124.33" y="67.76" width="1.4" height="1.4" fill="#b0002c"/>
<rect x="125.30" y="67.70" width="1.4" height="1.4" fill="#b0002c"/>
<rect x="104.12" y="78.23" width="1.4" height="1.4" fill="#b0002c"/>
<rect x="110.19" y="65.99" width="1.4" height="1.4" fill="#b0002c"/>
<rect x="120.17" y="78.65" width="1.4" height="1.4" fill="#b0002c"/>
<rect x="126.85" y="62.51" width="1.4" height="1.4" fill="#203f7c"/>
<rect x="133.31" y="63.93" width="1.4" height="1.4" fill="#203f7c"/>
<rect x="133.72" y="57.18" width="1.4" height="1.4" fill="#203f7c"/>
<rect x="126.19" y="61.34" width="1.4" height="1.4" fill="#203f7c"/>
<rect x="126.54" y="59.06" width="1.4" height="1.4" fill="#203f7c"/>
<rect x="129.04" y="60.52" width="1.4" height="1.4" fill="#203f7c"/>
<rect x="127.76" y="59.48" width="1.4" height="1.4" fill="#203f7c"/>
<rect x="129.93" y="60.33" width="1.4" height="1.4" fill="#203f7c"/>
<rect x="133.66" y="57.20" width="1.4" height="1.4" fill="#203f7c"/>
<rect x="133.47" y="61.65" width="1.4" height="1.4" fill="#203f7c"/>
</g>
<g>
<rect x="60.25" y="123.31" width="1.4" height="1.4" fill="#b0002c"/>
<rect x="45.60" y="123.55" width="1.4" height="1.4" fill="#b0002c"/>
<rect x="53.57" y="132.73" width="1.4" height="1.4" fill="#b0002c"/>
<rect x="56.87" y="126.24" width="1.4" height="1.4" fill="#b0002c"/>
<rect x="46.59" y="123.63" width="1.4" height="1.4" fill="#b0002c"/>
<rect x="65.21" y="122.86" width="1.4" height="1.4" fill="#b0002c"/>
<rect x="59.19" y="138.36" width="1.4" height="1.4" fill="#b0002c"/>
<rect x="55.43" y="123.39" width="1.4" height="1.4" fill="#b0002c"/>
<rect x="50.79" y="128.43" width="1.4" height="1.4" fill="#b0002c"/>
<rect x="45.50" y="130.08" width="1.4" height="1.4" fill="#b0002c"/>
<rect x="54.86" y="120.89" width="1.4" height="1.4" fill="#b0002c"/>
<rect x="47.33" y="130.26" width="1.4" height="1.4" fill="#b0002c"/>
<rect x="68.82" y="129.70" width="1.4" height="1.4" fill="#b0002c"/>
<rect x="46.51" y="126.81" width="1.4" height="1.4" fill="#b0002c"/>
<rect x="50.79" y="134.44" width="1.4" height="1.4" fill="#b0002c"/>
<rect x="64.42" y="133.31" width="1.4" height="1.4" fill="#b0002c"/>
<rect x="64.98" y="130.86" width="1.4" height="1.4" fill="#b0002c"/>
<rect x="61.34" y="127.32" width="1.4" height="1.4" fill="#b0002c"/>
<rect x="47.99" y="129.68" width="1.4" height="1.4" fill="#b0002c"/>
<rect x="66.38" y="131.35" width="1.4" height="1.4" fill="#b0002c"/>
<rect x="48.65" y="140.23" width="1.4" height="1.4" fill="#b0002c"/>
<rect x="55.07" y="130.47" width="1.4" height="1.4" fill="#b0002c"/>
<rect x="57.58" y="135.93" width="1.4" height="1.4" fill="#b0002c"/>
<rect x="57.34" y="137.96" width="1.4" height="1.4" fill="#b0002c"/>
<rect x="65.16" y="126.96" width="1.4" height="1.4" fill="#b0002c"/>
<rect x="54.70" y="136.90" width="1.4" height="1.4" fill="#b0002c"/>
<rect x="49.00" y="121.33" width="1.4" height="1.4" fill="#b0002c"/>
<rect x="50.58" y="124.98" width="1.4" height="1.4" fill="#b0002c"/>
<rect x="47.91" y="122.28" width="1.4" height="1.4" fill="#b0002c"/>
<rect x="62.16" y="139.22" width="1.4" height="1.4" fill="#b0002c"/>
<rect x="61.27" y="131.11" width="1.4" height="1.4" fill="#b0002c"/>
<rect x="58.90" y="133.64" width="1.4" height="1.4" fill="#b0002c"/>
<rect x="63.69" y="125.03" width="1.4" height="1.4" fill="#b0002c"/>
<rect x="48.46" y="123.51" width="1.4" height="1.4" fill="#b0002c"/>
<rect x="53.82" y="126.13" width="1.4" height="1.4" fill="#b0002c"/>
<rect x="44.67" y="132.95" width="1.4" height="1.4" fill="#b0002c"/>
<rect x="63.64" y="139.88" width="1.4" height="1.4" fill="#b0002c"/>
<rect x="47.21" y="138.36" width="1.4" height="1.4" fill="#b0002c"/>
<rect x="50.94" y="128.25" width="1.4" height="1.4" fill="#b0002c"/>
<rect x="53.57" y="125.33" width="1.4" height="1.4" fill="#b0002c"/>
<rect x="59.85" y="140.54" width="1.4" height="1.4" fill="#b0002c"/>
<rect x="57.73" y="118.12" width="1.4" height="1.4" fill="#b0002c"/>
<rect x="64.66" y="131.30" width="1.4" height="1.4" fill="#b0002c"/>
<rect x="54.72" y="130.18" width="1.4" height="1.4" fill="#b0002c"/>
<rect x="58.43" y="140.70" width="1.4" height="1.4" fill="#b0002c"/>
<rect x="48.87" y="131.06" width="1.4" height="1.4" fill="#b0002c"/>
<rect x="59.93" y="122.38" width="1.4" height="1.4" fill="#b0002c"/>
<rect x="61.05" y="120.05" width="1.4" height="1.4" fill="#b0002c"/>
<rect x="67.47" y="135.65" width="1.4" height="1.4" fill="#b0002c"/>
<rect x="48.44" y="136.00" width="1.4" height="1.4" fill="#b0002c"/>
<rect x="61.90" y="138.48" width="1.4" height="1.4" fill="#b0002c"/>
<rect x="64.06" y="133.70" width="1.4" height="1.4" fill="#b0002c"/>
<rect x="60.10" y="137.60" width="1.4" height="1.4" fill="#b0002c"/>
<rect x="50.40" y="135.81" width="1.4" height="1.4" fill="#b0002c"/>
<rect x="66.11" y="129.00" width="1.4" height="1.4" fill="#b0002c"/>
<rect x="52.02" y="131.85" width="1.4" height="1.4" fill="#b0002c"/>
<rect x="60.85" y="120.64" width="1.4" height="1.4" fill="#b0002c"/>
<rect x="49.41" y="136.61" width="1.4" height="1.4" fill="#b0002c"/>
<rect x="49.96" y="132.97" width="1.4" height="1.4" fill="#b0002c"/>
<rect x="67.01" y="125.74" width="1.4" height="1.4" fill="#b0002c"/>
<rect x="55.17" y="131.87" width="1.4" height="1.4" fill="#b0002c"/>
<rect x="52.11" y="119.21" width="1.4" height="1.4" fill="#b0002c"/>
<rect x="58.82" y="141.68" width="1.4" height="1.4" fill="#b0002c"/>
<rect x="51.10" y="126.95" width="1.4" height="1.4" fill="#b0002c"/>
<rect x="66.88" y="126.21" width="1.4" height="1.4" fill="#b0002c"/>
<rect x="44.19" y="122.70" width="1.4" height="1.4" fill="#b0002c"/>
<rect x="55.72" y="130.14" width="1.4" height="1.4" fill="#b0002c"/>
<rect x="53.59" y="132.08" width="1.4" height="1.4" fill="#b0002c"/>
<rect x="57.32" y="128.59" width="1.4" height="1.4" fill="#b0002c"/>
<rect x="60.97" y="118.43" width="1.4" height="1.4" fill="#b0002c"/>
<rect x="53.82" y="141.45" width="1.4" height="1.4" fill="#b0002c"/>
<rect x="49.79" y="117.90" width="1.4" height="1.4" fill="#b0002c"/>
<rect x="43.95" y="131.67" width="1.4" height="1.4" fill="#b0002c"/>
<rect x="59.27" y="139.15" width="1.4" height="1.4" fill="#b0002c"/>
<rect x="56.73" y="137.91" width="1.4" height="1.4" fill="#b0002c"/>
<rect x="51.28" y="130.88" width="1.4" height="1.4" fill="#b0002c"/>
<rect x="62.97" y="136.82" width="1.4" height="1.4" fill="#b0002c"/>
<rect x="66.30" y="135.02" width="1.4" height="1.4" fill="#b0002c"/>
<rect x="56.76" y="137.60" width="1.4" height="1.4" fill="#b0002c"/>
<rect x="62.00" y="124.72" width="1.4" height="1.4" fill="#b0002c"/>
<rect x="52.07" y="127.90" width="1.4" height="1.4" fill="#b0002c"/>
<rect x="46.68" y="135.26" width="1.4" height="1.4" fill="#b0002c"/>
<rect x="57.64" y="127.26" width="1.4" height="1.4" fill="#b0002c"/>
<rect x="57.02" y="131.20" width="1.4" height="1.4" fill="#b0002c"/>
<rect x="53.54" y="131.92" width="1.4" height="1.4" fill="#b0002c"/>
<rect x="56.72" y="126.36" width="1.4" height="1.4" fill="#b0002c"/>
<rect x="51.18" y="136.01" width="1.4" height="1.4" fill="#b0002c"/>
<rect x="66.26" y="128.99" width="1.4" height="1.4" fill="#b0002c"/>
<rect x="54.94" y="140.23" width="1.4" height="1.4" fill="#b0002c"/>
<rect x="47.26" y="122.14" width="1.4" height="1.4" fill="#b0002c"/>
<rect x="42.98" y="131.81" width="1.4" height="1.4" fill="#b0002c"/>
<rect x="64.24" y="132.60" width="1.4" height="1.4" fill="#b0002c"/>
<rect x="48.87" y="131.73" width="1.4" height="1.4" fill="#b0002c"/>
<rect x="65.54" y="126.96" width="1.4" height="1.4" fill="#b0002c"/>
<rect x="54.32" y="121.30" width="1.4" height="1.4" fill="#b0002c"/>
<rect x="60.61" y="129.37" width="1.4" height="1.4" fill="#b0002c"/>
<rect x="48.83" y="126.38" width="1.4" height="1.4" fill="#b0002c"/>
<rect x="66.50" y="122.88" width="1.4" height="1.4" fill="#b0002c"/>
<rect x="63.98" y="134.71" width="1.4" height="1.4" fill="#b0002c"/>
<rect x="58.09" y="129.51" width="1.4" height="1.4" fill="#b0002c"/>
<rect x="60.85" y="124.51" width="1.4" height="1.4" fill="#b0002c"/>
<rect x="55.96" y="126.97" width="1.4" height="1.4" fill="#b0002c"/>
<rect x="48.86" y="120.65" width="1.4" height="1.4" fill="#b0002c"/>
<rect x="58.26" y="133.55" width="1.4" height="1.4" fill="#b0002c"/>
<rect x="62.00" y="121.85" width="1.4" height="1.4" fill="#b0002c"/>
<rect x="54.29" y="119.72" width="1.4" height="1.4" fill="#b0002c"/>
<rect x="61.04" y="122.51" width="1.4" height="1.4" fill="#b0002c"/>
<rect x="49.03" y="139.52" width="1.4" height="1.4" fill="#b0002c"/>
<rect x="53.18" y="127.52" width="1.4" height="1.4" fill="#b0002c"/>
<rect x="43.14" y="135.74" width="1.4" height="1.4" fill="#b0002c"/>
<rect x="64.25" y="138.99" width="1.4" height="1.4" fill="#b0002c"/>
<rect x="53.28" y="121.25" width="1.4" height="1.4" fill="#b0002c"/>
<rect x="65.50" y="125.21" width="1.4" height="1.4" fill="#b0002c"/>
<rect x="55.54" y="125.23" width="1.4" height="1.4" fill="#b0002c"/>
<rect x="70.01" y="140.10" width="1.4" height="1.4" fill="#b0002c"/>
<rect x="67.08" y="133.54" width="1.4" height="1.4" fill="#b0002c"/>
<rect x="55.16" y="124.45" width="1.4" height="1.4" fill="#b0002c"/>
<rect x="47.28" y="126.76" width="1.4" height="1.4" fill="#b0002c"/>
<rect x="71.28" y="128.95" width="1.4" height="1.4" fill="#b0002c"/>
<rect x="49.79" y="140.04" width="1.4" height="1.4" fill="#b0002c"/>
<rect x="62.27" y="124.32" width="1.4" height="1.4" fill="#b0002c"/>
<rect x="68.07" y="130.35" width="1.4" height="1.4" fill="#b0002c"/>
<rect x="65.29" y="130.05" width="1.4" height="1.4" fill="#b0002c"/>
<rect x="53.95" y="140.25" width="1.4" height="1.4" fill="#b0002c"/>
<rect x="57.84" y="120.60" width="1.4" height="1.4" fill="#b0002c"/>
<rect x="63.52" y="134.79" width="1.4" height="1.4" fill="#b0002c"/>
<rect x="58.90" y="129.55" width="1.4" height="1.4" fill="#b0002c"/>
<rect x="47.40" y="133.00" width="1.4" height="1.4" fill="#b0002c"/>
<rect x="59.19" y="122.31" width="1.4" height="1.4" fill="#b0002c"/>
<rect x="43.40" y="136.20" width="1.4" height="1.4" fill="#b0002c"/>
<rect x="62.13" y="118.33" width="1.4" height="1.4" fill="#b0002c"/>
<rect x="49.14" y="139.99" width="1.4" height="1.4" fill="#b0002c"/>
<rect x="54.60" y="129.90" width="1.4" height="1.4" fill="#b0002c"/>
<rect x="42.16" y="132.18" width="1.4" height="1.4" fill="#b0002c"/>
<rect x="46.83" y="138.54" width="1.4" height="1.4" fill="#b0002c"/>
<rect x="46.19" y="126.98" width="1.4" height="1.4" fill="#b0002c"/>
<rect x="64.03" y="129.65" width="1.4" height="1.4" fill="#b0002c"/>
<rect x="56.25" y="120.24" width="1.4" height="1.4" fill="#b0002c"/>
<rect x="61.33" y="118.59" width="1.4" height="1.4" fill="#b0002c"/>
<rect x="61.83" y="126.55" width="1.4" height="1.4" fill="#b0002c"/>
<rect x="68.60" y="133.80" width="1.4" height="1.4" fill="#b0002c"/>
<rect x="47.64" y="130.39" width="1.4" height="1.4" fill="#b0002c"/>
<rect x="54.45" y="129.57" width="1.4" height="1.4" fill="#b0002c"/>
<rect x="56.51" y="133.52" width="1.4" height="1.4" fill="#b0002c"/>
<rect x="48.67" y="138.10" width="1.4" height="1.4" fill="#b0002c"/>
<rect x="44.28" y="135.32" width="1.4" height="1.4" fill="#b0002c"/>
<rect x="42.03" y="132.91" width="1.4" height="1.4" fill="#b0002c"/>
<rect x="45.32" y="128.92" width="1.4" height="1.4" fill="#b0002c"/>
<rect x="66.35" y="134.80" width="1.4" height="1.4" fill="#b0002c"/>
<rect x="45.03" y="130.11" width="1.4" height="1.4" fill="#b0002c"/>
<rect x="55.16" y="132.83" width="1.4" height="1.4" fill="#b0002c"/>
<rect x="45.43" y="132.57" width="1.4" height="1.4" fill="#b0002c"/>
<rect x="61.14" y="135.81" width="1.4" height="1.4" fill="#b0002c"/>
<rect x="62.32" y="139.13" width="1.4" height="1.4" fill="#b0002c"/>
<rect x="50.36" y="134.07" width="1.4" height="1.4" fill="#b0002c"/>
<rect x="49.06" y="129.13" width="1.4" height="1.4" fill="#b0002c"/>
<rect x="56.84" y="124.38" width="1.4" height="1.4" fill="#b0002c"/>
<rect x="51.09" y="128.39" width="1.4" height="1.4" fill="#b0002c"/>
<rect x="60.83" y="117.11" width="1.4" height="1.4" fill="#b0002c"/>
<rect x="57.10" y="128.12" width="1.4" height="1.4" fill="#b0002c"/>
<rect x="71.12" y="125.46" width="1.4" height="1.4" fill="#b0002c"/>
<rect x="53.58" y="133.24" width="1.4" height="1.4" fill="#b0002c"/>
<rect x="56.68" y="118.92" width="1.4" height="1.4" fill="#b0002c"/>
<rect x="55.94" y="117.73" width="1.4" height="1.4" fill="#b0002c"/>
<rect x="68.28" y="132.60" width="1.4" height="1.4" fill="#b0002c"/>
<rect x="66.36" y="121.06" width="1.4" height="1.4" fill="#b0002c"/>
<rect x="59.84" y="123.73" width="1.4" height="1.4" fill="#b0002c"/>
<rect x="54.55" y="137.27" width="1.4" height="1.4" fill="#b0002c"/>
<rect x="52.06" y="126.82" width="1.4" height="1.4" fill="#b0002c"/>
<rect x="50.24" y="133.76" width="1.4" height="1.4" fill="#b0002c"/>
<rect x="58.49" y="141.16" width="1.4" height="1.4" fill="#b0002c"/>
<rect x="54.92" y="136.51" width="1.4" height="1.4" fill="#b0002c"/>
<rect x="57.88" y="132.18" width="1.4" height="1.4" fill="#b0002c"/>
<rect x="49.91" y="127.71" width="1.4" height="1.4" fill="#b0002c"/>
<rect x="48.47" y="119.75" width="1.4" height="1.4" fill="#b0002c"/>
<rect x="72.50" y="112.92" width="1.4" height="1.4" fill="#203f7c"/>
<rect x="69.12" y="115.98" width="1.4" height="1.4" fill="#203f7c"/>
<rect x="66.63" y="119.48" width="1.4" height="1.4" fill="#203f7c"/>
<rect x="67.76" y="118.66" width="1.4" height="1.4" fill="#203f7c"/>
<rect x="66.79" y="118.62" width="1.4" height="1.4" fill="#203f7c"/>
<rect x="71.38" y="110.49" width="1.4" height="1.4" fill="#203f7c"/>
<rect x="74.86" y="112.34" width="1.4" height="1.4" fill="#203f7c"/>
<rect x="67.85" y="118.25" width="1.4" height="1.4" fill="#203f7c"/>
<rect x="68.84" y="122.97" width="1.4" height="1.4" fill="#203f7c"/>
<rect x="69.54" y="111.76" width="1.4" height="1.4" fill="#203f7c"/>
<rect x="69.54" y="120.66" width="1.4" height="1.4" fill="#203f7c"/>
<rect x="73.31" y="111.74" width="1.4" height="1.4" fill="#203f7c"/>
<rect x="68.44" y="120.23" width="1.4" height="1.4" fill="#203f7c"/>
<rect x="73.57" y="111.49" width="1.4" height="1.4" fill="#203f7c"/>
<rect x="69.95" y="112.24" width="1.4" height="1.4" fill="#203f7c"/>
<rect x="65.10" y="119.87" width="1.4" height="1.4" fill="#203f7c"/>
<rect x="71.65" y="116.02" width="1.4" height="1.4" fill="#203f7c"/>
<rect x="75.41" y="115.76" width="1.4" height="1.4" fill="#203f7c"/>
<rect x="62.61" y="119.95" width="1.4" height="1.4" fill="#203f7c"/>
<rect x="65.73" y="121.52" width="1.4" height="1.4" fill="#203f7c"/>
<rect x="68.01" y="116.13" width="1.4" height="1.4" fill="#203f7c"/>
<rect x="65.66" y="120.15" width="1.4" height="1.4" fill="#203f7c"/>
<rect x="68.92" y="118.49" width="1.4" height="1.4" fill="#203f7c"/>
<rect x="68.06" y="121.84" width="1.4" height="1.4" fill="#203f7c"/>
<rect x="67.05" y="118.38" width="1.4" height="1.4" fill="#203f7c"/>
<rect x="67.83" y="113.42" width="1.4" height="1.4" fill="#203f7c"/>
<rect x="69.18" y="117.01" width="1.4" height="1.4" fill="#203f7c"/>
<rect x="67.71" y="123.57" width="1.4" height="1.4" fill="#203f7c"/>
<rect x="72.26" y="116.11" width="1.4" height="1.4" fill="#203f7c"/>
<rect x="64.60" y="120.04" width="1.4" height="1.4" fill="#203f7c"/>
<rect x="74.84" y="113.20" width="1.4" height="1.4" fill="#203f7c"/>
<rect x="73.92" y="116.07" width="1.4" height="1.4" fill="#203f7c"/>
<rect x="69.12" y="114.82" width="1.4" height="1.4" fill="#203f7c"/>
<rect x="71.49" y="114.94" width="1.4" height="1.4" fill="#203f7c"/>
<rect x="68.67" y="114.40" width="1.4" height="1.4" fill="#203f7c"/>
<rect x="68.72" y="116.51" width="1.4" height="1.4" fill="#203f7c"/>
<rect x="64.78" y="116.21" width="1.4" height="1.4" fill="#203f7c"/>
<rect x="67.08" y="118.65" width="1.4" height="1.4" fill="#203f7c"/>
<rect x="73.05" y="116.32" width="1.4" height="1.4" fill="#203f7c"/>
<rect x="71.04" y="115.29" width="1.4" height="1.4" fill="#203f7c"/>
<rect x="70.46" y="112.10" width="1.4" height="1.4" fill="#203f7c"/>
<rect x="68.25" y="112.55" width="1.4" height="1.4" fill="#203f7c"/>
<rect x="72.69" y="114.38" width="1.4" height="1.4" fill="#203f7c"/>
<rect x="67.65" y="118.33" width="1.4" height="1.4" fill="#203f7c"/>
<rect x="71.02" y="118.91" width="1.4" height="1.4" fill="#203f7c"/>
<rect x="68.07" y="116.26" width="1.4" height="1.4" fill="#203f7c"/>
<rect x="69.72" y="116.79" width="1.4" height="1.4" fill="#203f7c"/>
<rect x="73.92" y="113.55" width="1.4" height="1.4" fill="#203f7c"/>
<rect x="72.86" y="116.52" width="1.4" height="1.4" fill="#203f7c"/>
<rect x="66.48" y="116.15" width="1.4" height="1.4" fill="#203f7c"/>
</g>
<g>
<rect x="116.23" y="131.71" width="1.4" height="1.4" fill="#b0002c"/>
<rect x="120.92" y="130.94" width="1.4" height="1.4" fill="#b0002c"/>
<rect x="109.41" y="127.67" width="1.4" height="1.4" fill="#b0002c"/>
<rect x="105.49" y="137.61" width="1.4" height="1.4" fill="#b0002c"/>
<rect x="117.01" y="138.81" width="1.4" height="1.4" fill="#b0002c"/>
<rect x="117.24" y="128.15" width="1.4" height="1.4" fill="#b0002c"/>
<rect x="124.82" y="125.26" width="1.4" height="1.4" fill="#b0002c"/>
<rect x="113.53" y="133.46" width="1.4" height="1.4" fill="#b0002c"/>
<rect x="118.89" y="126.20" width="1.4" height="1.4" fill="#b0002c"/>
<rect x="112.70" y="118.68" width="1.4" height="1.4" fill="#b0002c"/>
<rect x="120.09" y="123.52" width="1.4" height="1.4" fill="#b0002c"/>
<rect x="110.47" y="141.09" width="1.4" height="1.4" fill="#b0002c"/>
<rect x="112.93" y="138.51" width="1.4" height="1.4" fill="#b0002c"/>
<rect x="112.83" y="136.22" width="1.4" height="1.4" fill="#b0002c"/>
<rect x="110.29" y="140.47" width="1.4" height="1.4" fill="#b0002c"/>
<rect x="117.79" y="125.71" width="1.4" height="1.4" fill="#b0002c"/>
<rect x="111.84" y="122.20" width="1.4" height="1.4" fill="#b0002c"/>
<rect x="113.86" y="138.22" width="1.4" height="1.4" fill="#b0002c"/>
<rect x="117.36" y="127.23" width="1.4" height="1.4" fill="#b0002c"/>
<rect x="126.56" y="125.94" width="1.4" height="1.4" fill="#b0002c"/>
<rect x="106.57" y="124.99" width="1.4" height="1.4" fill="#b0002c"/>
<rect x="101.65" y="135.26" width="1.4" height="1.4" fill="#b0002c"/>
<rect x="105.46" y="136.20" width="1.4" height="1.4" fill="#b0002c"/>
<rect x="109.04" y="139.46" width="1.4" height="1.4" fill="#b0002c"/>
<rect x="114.51" y="139.26" width="1.4" height="1.4" fill="#b0002c"/>
<rect x="120.08" y="135.08" width="1.4" height="1.4" fill="#b0002c"/>
<rect x="102.77" y="141.95" width="1.4" height="1.4" fill="#b0002c"/>
<rect x="130.50" y="129.83" width="1.4" height="1.4" fill="#b0002c"/>
<rect x="114.81" y="120.61" width="1.4" height="1.4" fill="#b0002c"/>
<rect x="112.49" y="133.95" width="1.4" height="1.4" fill="#b0002c"/>
<rect x="119.85" y="142.57" width="1.4" height="1.4" fill="#b0002c"/>
<rect x="116.71" y="131.41" width="1.4" height="1.4" fill="#b0002c"/>
<rect x="124.86" y="126.90" width="1.4" height="1.4" fill="#b0002c"/>
<rect x="110.41" y="128.31" width="1.4" height="1.4" fill="#b0002c"/>
<rect x="127.36" y="125.11" width="1.4" height="1.4" fill="#b0002c"/>
<rect x="123.77" y="135.10" width="1.4" height="1.4" fill="#b0002c"/>
<rect x="116.31" y="124.93" width="1.4" height="1.4" fill="#b0002c"/>
<rect x="110.36" y="123.32" width="1.4" height="1.4" fill="#b0002c"/>
<rect x="123.13" y="124.26" width="1.4" height="1.4" fill="#b0002c"/>
<rect x="129.18" y="137.03" width="1.4" height="1.4" fill="#b0002c"/>
<rect x="118.87" y="127.63" width="1.4" height="1.4" fill="#b0002c"/>
<rect x="121.45" y="126.16" width="1.4" height="1.4" fill="#b0002c"/>
<rect x="121.31" y="135.36" width="1.4" height="1.4" fill="#b0002c"/>
<rect x="127.22" y="125.93" width="1.4" height="1.4" fill="#b0002c"/>
<rect x="117.85" y="133.07" width="1.4" height="1.4" fill="#b0002c"/>
<rect x="115.12" y="120.46" width="1.4" height="1.4" fill="#b0002c"/>
<rect x="106.79" y="125.50" width="1.4" height="1.4" fill="#b0002c"/>
<rect x="101.79" y="125.91" width="1.4" height="1.4" fill="#b0002c"/>
<rect x="122.43" y="140.92" width="1.4" height="1.4" fill="#b0002c"/>
<rect x="115.10" y="125.63" width="1.4" height="1.4" fill="#b0002c"/>
<rect x="122.11" y="126.07" width="1.4" height="1.4" fill="#b0002c"/>
<rect x="126.83" y="137.16" width="1.4" height="1.4" fill="#b0002c"/>
<rect x="119.68" y="118.20" width="1.4" height="1.4" fill="#b0002c"/>
<rect x="104.05" y="138.52" width="1.4" height="1.4" fill="#b0002c"/>
<rect x="129.36" y="136.35" width="1.4" height="1.4" fill="#b0002c"/>
<rect x="122.43" y="127.23" width="1.4" height="1.4" fill="#b0002c"/>
<rect x="119.19" y="125.68" width="1.4" height="1.4" fill="#b0002c"/>
<rect x="130.36" y="127.70" width="1.4" height="1.4" fill="#b0002c"/>
<rect x="111.89" y="120.86" width="1.4" height="1.4" fill="#b0002c"/>
<rect x="110.59" y="125.56" width="1.4" height="1.4" fill="#b0002c"/>
<rect x="122.55" y="128.14" width="1.4" height="1.4" fill="#b0002c"/>
<rect x="119.83" y="128.72" width="1.4" height="1.4" fill="#b0002c"/>
<rect x="127.54" y="132.48" width="1.4" height="1.4" fill="#b0002c"/>
<rect x="115.64" y="138.22" width="1.4" height="1.4" fill="#b0002c"/>
<rect x="110.20" y="124.56" width="1.4" height="1.4" fill="#b0002c"/>
<rect x="102.42" y="127.13" width="1.4" height="1.4" fill="#b0002c"/>
<rect x="106.89" y="125.69" width="1.4" height="1.4" fill="#b0002c"/>
<rect x="122.82" y="134.53" width="1.4" height="1.4" fill="#b0002c"/>
<rect x="108.16" y="131.05" width="1.4" height="1.4" fill="#b0002c"/>
<rect x="130.03" y="125.80" width="1.4" height="1.4" fill="#b0002c"/>
<rect x="118.29" y="125.82" width="1.4" height="1.4" fill="#b0002c"/>
<rect x="104.20" y="127.63" width="1.4" height="1.4" fill="#b0002c"/>
<rect x="121.55" y="132.69" width="1.4" height="1.4" fill="#b0002c"/>
<rect x="117.73" y="118.43" width="1.4" height="1.4" fill="#b0002c"/>
<rect x="109.66" y="126.89" width="1.4" height="1.4" fill="#b0002c"/>
<rect x="102.45" y="125.09" width="1.4" height="1.4" fill="#b0002c"/>
<rect x="122.65" y="128.66" width="1.4" height="1.4" fill="#b0002c"/>
<rect x="110.77" y="129.70" width="1.4" height="1.4" fill="#b0002c"/>
<rect x="124.19" y="118.97" width="1.4" height="1.4" fill="#b0002c"/>
<rect x="125.88" y="128.89" width="1.4" height="1.4" fill="#b0002c"/>
<rect x="115.95" y="128.58" width="1.4" height="1.4" fill="#b0002c"/>
<rect x="117.66" y="117.25" width="1.4" height="1.4" fill="#b0002c"/>
<rect x="109.81" y="123.60" width="1.4" height="1.4" fill="#b0002c"/>
<rect x="113.02" y="126.52" width="1.4" height="1.4" fill="#b0002c"/>
<rect x="124.94" y="138.91" width="1.4" height="1.4" fill="#b0002c"/>
<rect x="106.40" y="134.37" width="1.4" height="1.4" fill="#b0002c"/>
<rect x="120.38" y="128.43" width="1.4" height="1.4" fill="#b0002c"/>
<rect x="122.28" y="120.98" width="1.4" height="1.4" fill="#b0002c"/>
<rect x="106.36" y="139.31" width="1.4" height="1.4" fill="#b0002c"/>
<rect x="112.16" y="131.83" width="1.4" height="1.4" fill="#b0002c"/>
<rect x="126.74" y="122.97" width="1.4" height="1.4" fill="#b0002c"/>
<rect x="118.41" y="133.60" width="1.4" height="1.4" fill="#b0002c"/>
<rect x="111.81" y="117.36" width="1.4" height="1.4" fill="#b0002c"/>
<rect x="107.48" y="130.93" width="1.4" height="1.4" fill="#b0002c"/>
<rect x="109.99" y="132.71" width="1.4" height="1.4" fill="#b0002c"/>
<rect x="122.22" y="121.16" width="1.4" height="1.4" fill="#b0002c"/>
<rect x="101.81" y="129.31" width="1.4" height="1.4" fill="#b0002c"/>
<rect x="127.04" y="139.24" width="1.4" height="1.4" fill="#b0002c"/>
<rect x="110.84" y="132.85" width="1.4" height="1.4" fill="#b0002c"/>
<rect x="108.49" y="130.02" width="1.4" height="1.4" fill="#b0002c"/>
<rect x="114.37" y="134.77" width="1.4" height="1.4" fill="#b0002c"/>
<rect x="120.00" y="128.00" width="1.4" height="1.4" fill="#b0002c"/>
<rect x="114.51" y="132.05" width="1.4" height="1.4" fill="#b0002c"/>
<rect x="110.75" y="129.49" width="1.4" height="1.4" fill="#b0002c"/>
<rect x="128.92" y="122.93" width="1.4" height="1.4" fill="#b0002c"/>
<rect x="126.43" y="127.79" width="1.4" height="1.4" fill="#b0002c"/>
<rect x="126.78" y="133.34" width="1.4" height="1.4" fill="#b0002c"/>
<rect x="113.46" y="138.25" width="1.4" height="1.4" fill="#b0002c"/>
<rect x="105.55" y="131.85" width="1.4" height="1.4" fill="#b0002c"/>
<rect x="111.37" y="140.68" width="1.4" height="1.4" fill="#b0002c"/>
<rect x="106.50" y="135.43" width="1.4" height="1.4" fill="#b0002c"/>
<rect x="103.23" y="135.09" width="1.4" height="1.4" fill="#b0002c"/>
<rect x="118.84" y="127.98" width="1.4" height="1.4" fill="#b0002c"/>
<rect x="109.38" y="128.09" width="1.4" height="1.4" fill="#b0002c"/>
<rect x="117.82" y="119.99" width="1.4" height="1.4" fill="#b0002c"/>
<rect x="116.23" y="133.11" width="1.4" height="1.4" fill="#b0002c"/>
<rect x="116.22" y="137.60" width="1.4" height="1.4" fill="#b0002c"/>
<rect x="117.74" y="138.36" width="1.4" height="1.4" fill="#b0002c"/>
<rect x="116.72" y="132.62" width="1.4" height="1.4" fill="#b0002c"/>
<rect x="113.40" y="119.15" width="1.4" height="1.4" fill="#b0002c"/>
<rect x="127.75" y="131.16" width="1.4" height="1.4" fill="#b0002c"/>
<rect x="116.46" y="127.19" width="1.4" height="1.4" fill="#b0002c"/>
<rect x="115.68" y="127.45" width="1.4" height="1.4" fill="#b0002c"/>
<rect x="112.72" y="132.87" width="1.4" height="1.4" fill="#b0002c"/>
<rect x="104.35" y="126.61" width="1.4" height="1.4" fill="#b0002c"/>
<rect x="108.01" y="127.27" width="1.4" height="1.4" fill="#b0002c"/>
<rect x="119.27" y="122.59" width="1.4" height="1.4" fill="#b0002c"/>
<rect x="122.83" y="128.07" width="1.4" height="1.4" fill="#b0002c"/>
<rect x="105.29" y="121.96" width="1.4" height="1.4" fill="#b0002c"/>
<rect x="129.48" y="123.44" width="1.4" height="1.4" fill="#b0002c"/>
<rect x="124.03" y="125.78" width="1.4" height="1.4" fill="#b0002c"/>
<rect x="110.37" y="119.89" width="1.4" height="1.4" fill="#b0002c"/>
<rect x="112.30" y="136.74" width="1.4" height="1.4" fill="#b0002c"/>
<rect x="115.91" y="128.47" width="1.4" height="1.4" fill="#b0002c"/>
<rect x="123.97" y="134.63" width="1.4" height="1.4" fill="#b0002c"/>
<rect x="129.26" y="139.10" width="1.4" height="1.4" fill="#b0002c"/>
<rect x="116.16" y="134.43" width="1.4" height="1.4" fill="#b0002c"/>
<rect x="126.95" y="132.00" width="1.4" height="1.4" fill="#b0002c"/>
<rect x="125.77" y="121.58" width="1.4" height="1.4" fill="#b0002c"/>
<rect x="113.45" y="139.71" width="1.4" height="1.4" fill="#b0002c"/>
<rect x="117.51" y="135.26" width="1.4" height="1.4" fill="#b0002c"/>
<rect x="117.49" y="129.92" width="1.4" height="1.4" fill="#b0002c"/>
<rect x="105.30" y="130.81" width="1.4" height="1.4" fill="#b0002c"/>
<rect x="116.93" y="128.67" width="1.4" height="1.4" fill="#b0002c"/>
<rect x="126.33" y="134.62" width="1.4" height="1.4" fill="#b0002c"/>
<rect x="115.54" y="121.30" width="1.4" height="1.4" fill="#b0002c"/>
<rect x="104.35" y="138.74" width="1.4" height="1.4" fill="#b0002c"/>
<rect x="122.26" y="132.63" width="1.4" height="1.4" fill="#b0002c"/>
<rect x="128.71" y="132.14" width="1.4" height="1.4" fill="#b0002c"/>
<rect x="105.90" y="127.06" width="1.4" height="1.4" fill="#b0002c"/>
<rect x="109.72" y="127.67" width="1.4" height="1.4" fill="#b0002c"/>
<rect x="115.02" y="143.21" width="1.4" height="1.4" fill="#b0002c"/>
<rect x="105.14" y="135.29" width="1.4" height="1.4" fill="#b0002c"/>
<rect x="109.16" y="130.60" width="1.4" height="1.4" fill="#b0002c"/>
<rect x="118.47" y="130.95" width="1.4" height="1.4" fill="#b0002c"/>
<rect x="118.27" y="130.14" width="1.4" height="1.4" fill="#b0002c"/>
<rect x="118.29" y="117.56" width="1.4" height="1.4" fill="#b0002c"/>
<rect x="109.17" y="123.97" width="1.4" height="1.4" fill="#b0002c"/>
<rect x="109.42" y="138.39" width="1.4" height="1.4" fill="#b0002c"/>
<rect x="126.81" y="126.28" width="1.4" height="1.4" fill="#b0002c"/>
<rect x="124.59" y="136.28" width="1.4" height="1.4" fill="#b0002c"/>
<rect x="111.70" y="126.10" width="1.4" height="1.4" fill="#b0002c"/>
<rect x="114.10" y="131.63" width="1.4" height="1.4" fill="#b0002c"/>
<rect x="115.72" y="126.82" width="1.4" height="1.4" fill="#b0002c"/>
<rect x="107.95" y="126.67" width="1.4" height="1.4" fill="#b0002c"/>
<rect x="114.82" y="128.92" width="1.4" height="1.4" fill="#b0002c"/>
<rect x="114.82" y="133.98" width="1.4" height="1.4" fill="#b0002c"/>
<rect x="110.05" y="125.50" width="1.4" height="1.4" fill="#b0002c"/>
<rect x="129.57" y="131.95" width="1.4" height="1.4" fill="#b0002c"/>
<rect x="106.18" y="132.85" width="1.4" height="1.4" fill="#b0002c"/>
<rect x="108.24" y="139.14" width="1.4" height="1.4" fill="#b0002c"/>
<rect x="115.81" y="140.87" width="1.4" height="1.4" fill="#b0002c"/>
<rect x="105.73" y="124.61" width="1.4" height="1.4" fill="#b0002c"/>
<rect x="117.80" y="136.47" width="1.4" height="1.4" fill="#b0002c"/>
<rect x="119.54" y="139.79" width="1.4" height="1.4" fill="#b0002c"/>
<rect x="134.12" y="120.50" width="1.4" height="1.4" fill="#203f7c"/>
<rect x="131.19" y="115.33" width="1.4" height="1.4" fill="#203f7c"/>
<rect x="134.50" y="112.89" width="1.4" height="1.4" fill="#203f7c"/>
<rect x="127.85" y="117.75" width="1.4" height="1.4" fill="#203f7c"/>
<rect x="127.39" y="111.37" width="1.4" height="1.4" fill="#203f7c"/>
<rect x="129.83" y="120.18" width="1.4" height="1.4" fill="#203f7c"/>
<rect x="128.06" y="120.05" width="1.4" height="1.4" fill="#203f7c"/>
<rect x="125.98" y="116.57" width="1.4" height="1.4" fill="#203f7c"/>
<rect x="134.10" y="112.84" width="1.4" height="1.4" fill="#203f7c"/>
<rect x="130.16" y="114.95" width="1.4" height="1.4" fill="#203f7c"/>
<rect x="140.02" y="114.02" width="1.4" height="1.4" fill="#203f7c"/>
<rect x="133.45" y="115.34" width="1.4" height="1.4" fill="#203f7c"/>
<rect x="131.81" y="112.93" width="1.4" height="1.4" fill="#203f7c"/>
<rect x="127.39" y="112.21" width="1.4" height="1.4" fill="#203f7c"/>
<rect x="137.57" y="117.50" width="1.4" height="1.4" fill="#203f7c"/>
<rect x="132.85" y="116.90" width="1.4" height="1.4" fill="#203f7c"/>
<rect x="129.76" y="112.71" width="1.4" height="1.4" fill="#203f7c"/>
<rect x="135.74" y="111.21" width="1.4" height="1.4" fill="#203f7c"/>
<rect x="132.79" y="109.72" width="1.4" height="1.4" fill="#203f7c"/>
<rect x="131.63" y="112.81" width="1.4" height="1.4" fill="#203f7c"/>
<rect x="133.99" y="114.60" width="1.4" height="1.4" fill="#203f7c"/>
<rect x="131.95" y="118.15" width="1.4" height="1.4" fill="#203f7c"/>
<rect x="125.63" y="125.80" width="1.4" height="1.4" fill="#203f7c"/>
<rect x="135.96" y="108.72" width="1.4" height="1.4" fill="#203f7c"/>
<rect x="132.33" y="116.59" width="1.4" height="1.4" fill="#203f7c"/>
<rect x="138.58" y="111.87" width="1.4" height="1.4" fill="#203f7c"/>
<rect x="127.69" y="120.69" width="1.4" height="1.4" fill="#203f7c"/>
<rect x="132.73" y="116.37" width="1.4" height="1.4" fill="#203f7c"/>
<rect x="132.75" y="125.40" width="1.4" height="1.4" fill="#203f7c"/>
<rect x="130.25" y="114.07" width="1.4" height="1.4" fill="#203f7c"/>
<rect x="129.39" y="117.48" width="1.4" height="1.4" fill="#203f7c"/>
<rect x="136.61" y="117.93" width="1.4" height="1.4" fill="#203f7c"/>
<rect x="134.38" y="113.72" width="1.4" height="1.4" fill="#203f7c"/>
<rect x="136.37" y="116.13" width="1.4" height="1.4" fill="#203f7c"/>
<rect x="134.12" y="111.24" width="1.4" height="1.4" fill="#203f7c"/>
<rect x="128.91" y="115.92" width="1.4" height="1.4" fill="#203f7c"/>
<rect x="128.06" y="120.88" width="1.4" height="1.4" fill="#203f7c"/>
<rect x="129.02" y="127.38" width="1.4" height="1.4" fill="#203f7c"/>
</g>
<g>
<rect x="176.29" y="118.64" width="1.4" height="1.4" fill="#b0002c"/>
<rect x="177.95" y="124.00" width="1.4" height="1.4" fill="#b0002c"/>
<rect x="176.75" y="123.09" width="1.4" height="1.4" fill="#b0002c"/>
<rect x="173.89" y="138.15" width="1.4" height="1.4" fill="#b0002c"/>
<rect x="179.52" y="130.14" width="1.4" height="1.4" fill="#b0002c"/>
<rect x="161.93" y="122.15" width="1.4" height="1.4" fill="#b0002c"/>
<rect x="185.25" y="123.60" width="1.4" height="1.4" fill="#b0002c"/>
<rect x="177.12" y="124.65" width="1.4" height="1.4" fill="#b0002c"/>
<rect x="180.01" y="127.36" width="1.4" height="1.4" fill="#b0002c"/>
<rect x="164.33" y="134.50" width="1.4" height="1.4" fill="#b0002c"/>
<rect x="164.84" y="133.07" width="1.4" height="1.4" fill="#b0002c"/>
<rect x="169.72" y="139.07" width="1.4" height="1.4" fill="#b0002c"/>
<rect x="188.29" y="115.29" width="1.4" height="1.4" fill="#b0002c"/>
<rect x="166.72" y="135.87" width="1.4" height="1.4" fill="#b0002c"/>
<rect x="182.13" y="129.20" width="1.4" height="1.4" fill="#b0002c"/>
<rect x="172.31" y="117.45" width="1.4" height="1.4" fill="#b0002c"/>
<rect x="173.94" y="118.19" width="1.4" height="1.4" fill="#b0002c"/>
<rect x="165.13" y="133.12" width="1.4" height="1.4" fill="#b0002c"/>
<rect x="181.10" y="127.50" width="1.4" height="1.4" fill="#b0002c"/>
<rect x="170.12" y="127.90" width="1.4" height="1.4" fill="#b0002c"/>
<rect x="171.53" y="131.48" width="1.4" height="1.4" fill="#b0002c"/>
<rect x="182.49" y="120.59" width="1.4" height="1.4" fill="#b0002c"/>
<rect x="165.08" y="122.01" width="1.4" height="1.4" fill="#b0002c"/>
<rect x="161.25" y="128.64" width="1.4" height="1.4" fill="#b0002c"/>
<rect x="175.92" y="124.09" width="1.4" height="1.4" fill="#b0002c"/>
<rect x="179.67" y="131.60" width="1.4" height="1.4" fill="#b0002c"/>
<rect x="164.37" y="125.35" width="1.4" height="1.4" fill="#b0002c"/>
<rect x="181.90" y="120.33" width="1.4" height="1.4" fill="#b0002c"/>
<rect x="169.11" y="125.90" width="1.4" height="1.4" fill="#b0002c"/>
<rect x="169.21" y="132.08" width="1.4" height="1.4" fill="#b0002c"/>
<rect x="186.47" y="120.75" width="1.4" height="1.4" fill="#b0002c"/>
<rect x="170.69" y="131.23" width="1.4" height="1.4" fill="#b0002c"/>
<rect x="182.41" y="138.22" width="1.4" height="1.4" fill="#b0002c"/>
<rect x="179.85" y="122.90" width="1.4" height="1.4" fill="#b0002c"/>
<rect x="168.66" y="126.40" width="1.4" height="1.4" fill="#b0002c"/>
<rect x="185.56" y="127.34" width="1.4" height="1.4" fill="#b0002c"/>
<rect x="165.21" y="127.69" width="1.4" height="1.4" fill="#b0002c"/>
<rect x="175.24" y="136.58" width="1.4" height="1.4" fill="#b0002c"/>
<rect x="166.53" y="135.01" width="1.4" height="1.4" fill="#b0002c"/>
<rect x="175.05" y="130.75" width="1.4" height="1.4" fill="#b0002c"/>
<rect x="170.11" y="135.96" width="1.4" height="1.4" fill="#b0002c"/>
<rect x="175.87" y="136.27" width="1.4" height="1.4" fill="#b0002c"/>
<rect x="185.97" y="126.55" width="1.4" height="1.4" fill="#b0002c"/>
<rect x="166.64" y="127.17" width="1.4" height="1.4" fill="#b0002c"/>
<rect x="175.12" y="128.39" width="1.4" height="1.4" fill="#b0002c"/>
<rect x="176.25" y="123.43" width="1.4" height="1.4" fill="#b0002c"/>
<rect x="183.49" y="126.32" width="1.4" height="1.4" fill="#b0002c"/>
<rect x="181.04" y="115.70" width="1.4" height="1.4" fill="#b0002c"/>
<rect x="180.72" y="129.16" width="1.4" height="1.4" fill="#b0002c"/>
<rect x="175.74" y="124.80" width="1.4" height="1.4" fill="#b0002c"/>
<rect x="167.20" y="117.63" width="1.4" height="1.4" fill="#b0002c"/>
<rect x="182.96" y="127.96" width="1.4" height="1.4" fill="#b0002c"/>
<rect x="180.11" y="130.85" width="1.4" height="1.4" fill="#b0002c"/>
<rect x="171.78" y="121.45" width="1.4" height="1.4" fill="#b0002c"/>
<rect x="177.73" y="117.51" width="1.4" height="1.4" fill="#b0002c"/>
<rect x="179.45" y="124.04" width="1.4" height="1.4" fill="#b0002c"/>
<rect x="174.81" y="133.81" width="1.4" height="1.4" fill="#b0002c"/>
<rect x="170.91" y="115.21" width="1.4" height="1.4" fill="#b0002c"/>
<rect x="176.31" y="116.02" width="1.4" height="1.4" fill="#b0002c"/>
<rect x="180.53" y="121.55" width="1.4" height="1.4" fill="#b0002c"/>
<rect x="166.93" y="136.97" width="1.4" height="1.4" fill="#b0002c"/>
<rect x="178.19" y="137.10" width="1.4" height="1.4" fill="#b0002c"/>
<rect x="172.11" y="135.63" width="1.4" height="1.4" fill="#b0002c"/>
<rect x="172.89" y="129.23" width="1.4" height="1.4" fill="#b0002c"/>
<rect x="170.51" y="133.59" width="1.4" height="1.4" fill="#b0002c"/>
<rect x="171.67" y="131.84" width="1.4" height="1.4" fill="#b0002c"/>
<rect x="170.28" y="132.95" width="1.4" height="1.4" fill="#b0002c"/>
<rect x="178.25" y="125.75" width="1.4" height="1.4" fill="#b0002c"/>
<rect x="172.74" y="121.97" width="1.4" height="1.4" fill="#b0002c"/>
<rect x="173.05" y="129.97" width="1.4" height="1.4" fill="#b0002c"/>
<rect x="168.27" y="133.36" width="1.4" height="1.4" fill="#b0002c"/>
<rect x="183.61" y="121.22" width="1.4" height="1.4" fill="#b0002c"/>
<rect x="176.95" y="126.69" width="1.4" height="1.4" fill="#b0002c"/>
<rect x="178.06" y="122.12" width="1.4" height="1.4" fill="#b0002c"/>
<rect x="179.95" y="123.23" width="1.4" height="1.4" fill="#b0002c"/>
<rect x="161.65" y="127.52" width="1.4" height="1.4" fill="#b0002c"/>
<rect x="173.89" y="121.45" width="1.4" height="1.4" fill="#b0002c"/>
<rect x="179.44" y="128.99" width="1.4" height="1.4" fill="#b0002c"/>
<rect x="174.72" y="124.65" width="1.4" height="1.4" fill="#b0002c"/>
<rect x="181.53" y="129.17" width="1.4" height="1.4" fill="#b0002c"/>
<rect x="179.47" y="133.14" width="1.4" height="1.4" fill="#b0002c"/>
<rect x="184.11" y="130.60" width="1.4" height="1.4" fill="#b0002c"/>
<rect x="183.35" y="137.21" width="1.4" height="1.4" fill="#b0002c"/>
<rect x="169.57" y="128.50" width="1.4" height="1.4" fill="#b0002c"/>
<rect x="167.51" y="123.17" width="1.4" height="1.4" fill="#b0002c"/>
<rect x="184.55" y="128.80" width="1.4" height="1.4" fill="#b0002c"/>
<rect x="172.37" y="128.87" width="1.4" height="1.4" fill="#b0002c"/>
<rect x="184.78" y="135.29" width="1.4" height="1.4" fill="#b0002c"/>
<rect x="174.10" y="132.03" width="1.4" height="1.4" fill="#b0002c"/>
<rect x="175.35" y="124.42" width="1.4" height="1.4" fill="#b0002c"/>
<rect x="165.32" y="128.79" width="1.4" height="1.4" fill="#b0002c"/>
<rect x="182.91" y="119.48" width="1.4" height="1.4" fill="#b0002c"/>
<rect x="172.23" y="127.19" width="1.4" height="1.4" fill="#b0002c"/>
<rect x="175.24" y="125.35" width="1.4" height="1.4" fill="#b0002c"/>
<rect x="171.88" y="132.42" width="1.4" height="1.4" fill="#b0002c"/>
<rect x="171.54" y="137.50" width="1.4" height="1.4" fill="#b0002c"/>
<rect x="168.03" y="124.30" width="1.4" height="1.4" fill="#b0002c"/>
<rect x="161.18" y="132.79" width="1.4" height="1.4" fill="#b0002c"/>
<rect x="172.41" y="131.57" width="1.4" height="1.4" fill="#b0002c"/>
<rect x="177.05" y="119.22" width="1.4" height="1.4" fill="#b0002c"/>
<rect x="162.97" y="124.09" width="1.4" height="1.4" fill="#b0002c"/>
<rect x="169.61" y="119.64" width="1.4" height="1.4" fill="#b0002c"/>
<rect x="166.05" y="137.12" width="1.4" height="1.4" fill="#b0002c"/>
<rect x="171.86" y="132.11" width="1.4" height="1.4" fill="#b0002c"/>
<rect x="185.89" y="132.18" width="1.4" height="1.4" fill="#b0002c"/>
<rect x="161.64" y="133.56" width="1.4" height="1.4" fill="#b0002c"/>
<rect x="183.90" y="121.90" width="1.4" height="1.4" fill="#b0002c"/>
<rect x="176.64" y="122.90" width="1.4" height="1.4" fill="#b0002c"/>
<rect x="182.80" y="138.83" width="1.4" height="1.4" fill="#b0002c"/>
<rect x="184.05" y="118.15" width="1.4" height="1.4" fill="#b0002c"/>
<rect x="181.03" y="126.71" width="1.4" height="1.4" fill="#b0002c"/>
<rect x="170.87" y="131.68" width="1.4" height="1.4" fill="#b0002c"/>
<rect x="175.61" y="117.00" width="1.4" height="1.4" fill="#b0002c"/>
<rect x="173.32" y="121.24" width="1.4" height="1.4" fill="#b0002c"/>
<rect x="183.91" y="135.13" width="1.4" height="1.4" fill="#b0002c"/>
<rect x="186.85" y="127.91" width="1.4" height="1.4" fill="#b0002c"/>
<rect x="169.96" y="134.62" width="1.4" height="1.4" fill="#b0002c"/>
<rect x="177.02" y="126.49" width="1.4" height="1.4" fill="#b0002c"/>
<rect x="180.33" y="121.12" width="1.4" height="1.4" fill="#b0002c"/>
<rect x="177.47" y="129.47" width="1.4" height="1.4" fill="#b0002c"/>
<rect x="160.95" y="131.03" width="1.4" height="1.4" fill="#b0002c"/>
<rect x="165.17" y="140.77" width="1.4" height="1.4" fill="#b0002c"/>
<rect x="180.12" y="129.28" width="1.4" height="1.4" fill="#b0002c"/>
<rect x="167.09" y="134.54" width="1.4" height="1.4" fill="#b0002c"/>
<rect x="182.52" y="122.09" width="1.4" height="1.4" fill="#b0002c"/>
<rect x="175.99" y="117.04" width="1.4" height="1.4" fill="#b0002c"/>
<rect x="176.46" y="119.47" width="1.4" height="1.4" fill="#b0002c"/>
<rect x="182.28" y="129.02" width="1.4" height="1.4" fill="#b0002c"/>
<rect x="178.49" y="117.88" width="1.4" height="1.4" fill="#b0002c"/>
<rect x="170.33" y="132.85" width="1.4" height="1.4" fill="#b0002c"/>
<rect x="176.44" y="130.99" width="1.4" height="1.4" fill="#b0002c"/>
<rect x="167.89" y="138.63" width="1.4" height="1.4" fill="#b0002c"/>
<rect x="170.47" y="128.42" width="1.4" height="1.4" fill="#b0002c"/>
<rect x="174.19" y="128.76" width="1.4" height="1.4" fill="#b0002c"/>
<rect x="173.38" y="118.96" width="1.4" height="1.4" fill="#b0002c"/>
<rect x="167.80" y="127.84" width="1.4" height="1.4" fill="#b0002c"/>
<rect x="171.55" y="120.09" width="1.4" height="1.4" fill="#b0002c"/>
<rect x="166.87" y="137.96" width="1.4" height="1.4" fill="#b0002c"/>
<rect x="175.22" y="127.06" width="1.4" height="1.4" fill="#b0002c"/>
<rect x="162.30" y="129.17" width="1.4" height="1.4" fill="#b0002c"/>
<rect x="172.46" y="123.67" width="1.4" height="1.4" fill="#b0002c"/>
<rect x="177.33" y="131.71" width="1.4" height="1.4" fill="#b0002c"/>
<rect x="171.25" y="128.42" width="1.4" height="1.4" fill="#b0002c"/>
<rect x="176.54" y="120.66" width="1.4" height="1.4" fill="#b0002c"/>
<rect x="176.57" y="118.01" width="1.4" height="1.4" fill="#b0002c"/>
<rect x="167.04" y="130.76" width="1.4" height="1.4" fill="#b0002c"/>
<rect x="183.42" y="129.61" width="1.4" height="1.4" fill="#b0002c"/>
<rect x="176.76" y="122.40" width="1.4" height="1.4" fill="#b0002c"/>
<rect x="186.88" y="124.89" width="1.4" height="1.4" fill="#b0002c"/>
<rect x="162.53" y="121.60" width="1.4" height="1.4" fill="#b0002c"/>
<rect x="172.62" y="124.63" width="1.4" height="1.4" fill="#b0002c"/>
<rect x="164.03" y="120.30" width="1.4" height="1.4" fill="#b0002c"/>
<rect x="173.72" y="127.76" width="1.4" height="1.4" fill="#b0002c"/>
<rect x="183.81" y="121.63" width="1.4" height="1.4" fill="#b0002c"/>
<rect x="177.30" y="136.03" width="1.4" height="1.4" fill="#b0002c"/>
<rect x="174.98" y="125.07" width="1.4" height="1.4" fill="#b0002c"/>
<rect x="171.94" y="130.95" width="1.4" height="1.4" fill="#b0002c"/>
<rect x="169.05" y="118.84" width="1.4" height="1.4" fill="#b0002c"/>
<rect x="185.86" y="133.74" width="1.4" height="1.4" fill="#b0002c"/>
<rect x="177.22" y="119.71" width="1.4" height="1.4" fill="#b0002c"/>
<rect x="183.59" y="134.89" width="1.4" height="1.4" fill="#b0002c"/>
<rect x="169.06" y="143.31" width="1.4" height="1.4" fill="#b0002c"/>
<rect x="177.48" y="126.61" width="1.4" height="1.4" fill="#b0002c"/>
<rect x="175.51" y="123.08" width="1.4" height="1.4" fill="#b0002c"/>
<rect x="174.81" y="131.93" width="1.4" height="1.4" fill="#b0002c"/>
<rect x="174.96" y="135.07" width="1.4" height="1.4" fill="#b0002c"/>
<rect x="170.07" y="118.90" width="1.4" height="1.4" fill="#b0002c"/>
<rect x="182.41" y="135.18" width="1.4" height="1.4" fill="#b0002c"/>
<rect x="186.17" y="123.04" width="1.4" height="1.4" fill="#b0002c"/>
<rect x="162.51" y="132.38" width="1.4" height="1.4" fill="#b0002c"/>
<rect x="169.42" y="135.18" width="1.4" height="1.4" fill="#b0002c"/>
<rect x="174.47" y="127.22" width="1.4" height="1.4" fill="#b0002c"/>
<rect x="177.57" y="127.96" width="1.4" height="1.4" fill="#b0002c"/>
<rect x="166.22" y="132.37" width="1.4" height="1.4" fill="#b0002c"/>
<rect x="171.89" y="131.66" width="1.4" height="1.4" fill="#b0002c"/>
<rect x="198.30" y="117.43" width="1.4" height="1.4" fill="#203f7c"/>
<rect x="186.22" y="116.11" width="1.4" height="1.4" fill="#203f7c"/>
<rect x="187.58" y="120.04" width="1.4" height="1.4" fill="#203f7c"/>
<rect x="196.98" y="119.29" width="1.4" height="1.4" fill="#203f7c"/>
<rect x="197.95" y="112.28" width="1.4" height="1.4" fill="#203f7c"/>
<rect x="200.11" y="113.92" width="1.4" height="1.4" fill="#203f7c"/>
<rect x="199.02" y="117.15" width="1.4" height="1.4" fill="#203f7c"/>
<rect x="189.28" y="120.21" width="1.4" height="1.4" fill="#203f7c"/>
<rect x="181.45" y="119.63" width="1.4" height="1.4" fill="#203f7c"/>
<rect x="198.08" y="111.99" width="1.4" height="1.4" fill="#203f7c"/>
<rect x="195.16" y="116.75" width="1.4" height="1.4" fill="#203f7c"/>
<rect x="186.16" y="120.34" width="1.4" height="1.4" fill="#203f7c"/>
<rect x="190.44" y="113.06" width="1.4" height="1.4" fill="#203f7c"/>
<rect x="195.76" y="113.98" width="1.4" height="1.4" fill="#203f7c"/>
<rect x="195.45" y="111.57" width="1.4" height="1.4" fill="#203f7c"/>
<rect x="183.82" y="121.90" width="1.4" height="1.4" fill="#203f7c"/>
<rect x="195.37" y="118.28" width="1.4" height="1.4" fill="#203f7c"/>
<rect x="193.15" y="119.34" width="1.4" height="1.4" fill="#203f7c"/>
<rect x="189.19" y="118.19" width="1.4" height="1.4" fill="#203f7c"/>
<rect x="199.55" y="117.60" width="1.4" height="1.4" fill="#203f7c"/>
<rect x="188.93" y="117.12" width="1.4" height="1.4" fill="#203f7c"/>
<rect x="197.56" y="113.25" width="1.4" height="1.4" fill="#203f7c"/>
<rect x="196.09" y="117.08" width="1.4" height="1.4" fill="#203f7c"/>
<rect x="187.13" y="119.70" width="1.4" height="1.4" fill="#203f7c"/>
<rect x="196.43" y="117.27" width="1.4" height="1.4" fill="#203f7c"/>
<rect x="190.86" y="115.96" width="1.4" height="1.4" fill="#203f7c"/>
<rect x="191.58" y="121.06" width="1.4" height="1.4" fill="#203f7c"/>
<rect x="197.67" y="118.27" width="1.4" height="1.4" fill="#203f7c"/>
<rect x="195.85" y="113.90" width="1.4" height="1.4" fill="#203f7c"/>
<rect x="194.00" y="120.93" width="1.4" height="1.4" fill="#203f7c"/>
<rect x="191.60" y="118.87" width="1.4" height="1.4" fill="#203f7c"/>
<rect x="194.42" y="115.73" width="1.4" height="1.4" fill="#203f7c"/>
<rect x="194.37" y="119.10" width="1.4" height="1.4" fill="#203f7c"/>
<rect x="189.57" y="116.66" width="1.4" height="1.4" fill="#203f7c"/>
<rect x="195.18" y="116.30" width="1.4" height="1.4" fill="#203f7c"/>
<rect x="189.94" y="117.24" width="1.4" height="1.4" fill="#203f7c"/>
<rect x="188.97" y="116.93" width="1.4" height="1.4" fill="#203f7c"/>
<rect x="192.01" y="121.54" width="1.4" height="1.4" fill="#203f7c"/>
<rect x="193.39" y="114.71" width="1.4" height="1.4" fill="#203f7c"/>
<rect x="196.90" y="115.97" width="1.4" height="1.4" fill="#203f7c"/>
<rect x="189.76" y="113.82" width="1.4" height="1.4" fill="#203f7c"/>
<rect x="190.61" y="122.84" width="1.4" height="1.4" fill="#203f7c"/>
</g>
<text x="230.00" y="19.00" font-size="14.5" font-weight="bold" fill="#000" textLength="9.40" lengthAdjust="spacingAndGlyphs" >B</text>
<text x="303.70" y="41.90" font-size="9.4" text-anchor="middle" textLength="32.40" lengthAdjust="spacingAndGlyphs" >ESLAMs</text>
<line x1="261.20" y1="48.00" x2="261.20" y2="123.60" stroke="#231f20" stroke-width="1.5" />
<line x1="257.90" y1="123.00" x2="346.00" y2="123.00" stroke="#231f20" stroke-width="1.3" />
<line x1="257.90" y1="123.00" x2="261.20" y2="123.00" stroke="#231f20" stroke-width="1.1" />
<text x="253.90" y="125.50" font-size="7.3" text-anchor="end" textLength="3.65" lengthAdjust="spacingAndGlyphs" >0</text>
<line x1="257.90" y1="109.02" x2="261.20" y2="109.02" stroke="#231f20" stroke-width="1.1" />
<text x="253.90" y="111.52" font-size="7.3" text-anchor="end" textLength="3.65" lengthAdjust="spacingAndGlyphs" >5</text>
<line x1="257.90" y1="95.04" x2="261.20" y2="95.04" stroke="#231f20" stroke-width="1.1" />
<text x="253.90" y="97.54" font-size="7.3" text-anchor="end" textLength="7.31" lengthAdjust="spacingAndGlyphs" >10</text>
<line x1="257.90" y1="81.06" x2="261.20" y2="81.06" stroke="#231f20" stroke-width="1.1" />
<text x="253.90" y="83.56" font-size="7.3" text-anchor="end" textLength="7.31" lengthAdjust="spacingAndGlyphs" >15</text>
<line x1="257.90" y1="67.08" x2="261.20" y2="67.08" stroke="#231f20" stroke-width="1.1" />
<text x="253.90" y="69.58" font-size="7.3" text-anchor="end" textLength="7.31" lengthAdjust="spacingAndGlyphs" >20</text>
<line x1="257.90" y1="53.10" x2="261.20" y2="53.10" stroke="#231f20" stroke-width="1.1" />
<text x="253.90" y="55.60" font-size="7.3" text-anchor="end" textLength="7.31" lengthAdjust="spacingAndGlyphs" >25</text>
<text x="241.3" y="85.5" font-size="8.8" text-anchor="middle" transform="rotate(-90 241.3 85.5)" textLength="56.5" lengthAdjust="spacingAndGlyphs">% EPCR<tspan font-size="5.4" dy="-3.4">hi</tspan><tspan dy="3.4">/CD150</tspan><tspan font-size="5.4" dy="-3.4">hi</tspan></text>
<rect x="265.90" y="67.10" width="10.10" height="55.90" fill="#27467d"/>
<line x1="270.95" y1="123.00" x2="270.95" y2="125.40" stroke="#231f20" stroke-width="1.0" />
<rect x="282.30" y="95.80" width="9.70" height="27.20" fill="#b0002c"/>
<line x1="287.15" y1="123.00" x2="287.15" y2="125.40" stroke="#231f20" stroke-width="1.0" />
<rect x="298.80" y="75.50" width="10.00" height="47.50" fill="#67a644"/>
<line x1="303.80" y1="123.00" x2="303.80" y2="125.40" stroke="#231f20" stroke-width="1.0" />
<rect x="315.10" y="74.60" width="10.00" height="48.40" fill="#e9ba22"/>
<line x1="320.10" y1="123.00" x2="320.10" y2="125.40" stroke="#231f20" stroke-width="1.0" />
<rect x="331.60" y="80.80" width="9.90" height="42.20" fill="#522668"/>
<line x1="336.55" y1="123.00" x2="336.55" y2="125.40" stroke="#231f20" stroke-width="1.0" />
<path d="M287.10 54.70V52.70H336.60V54.70" fill="none" stroke="#231f20" stroke-width="1.1"/>
<text x="311.80" y="51.60" font-size="5.6" text-anchor="middle" >0.01</text>
<path d="M270.90 63.20V61.20H287.10V63.20" fill="none" stroke="#231f20" stroke-width="1.1"/>
<text x="278.50" y="60.00" font-size="5.6" text-anchor="middle" >&lt;0.0001</text>
<path d="M287.10 63.20V61.20H320.30V63.20" fill="none" stroke="#231f20" stroke-width="1.1"/>
<text x="304.00" y="60.00" font-size="5.6" text-anchor="middle" >0.0004</text>
<path d="M287.10 71.60V69.60H303.90V71.60" fill="none" stroke="#231f20" stroke-width="1.1"/>
<text x="295.80" y="68.40" font-size="5.6" text-anchor="middle" >0.0004</text>
<text x="273.80" y="133.50" font-size="6.7" text-anchor="end" transform="rotate(-45 273.80 133.50)">WT</text>
<text x="289.00" y="133.50" font-size="6.7" text-anchor="end" transform="rotate(-45 289.00 133.50)">miR-146a<tspan font-size="4.29" dy="-2.41">-/-</tspan></text>
<text x="305.50" y="133.50" font-size="6.7" text-anchor="end" transform="rotate(-45 305.50 133.50)">Il6<tspan font-size="4.29" dy="-2.41">-/-</tspan><tspan dy="2.41"> miR-146a</tspan><tspan font-size="4.29" dy="-2.41">-/-</tspan></text>
<text x="321.90" y="133.50" font-size="6.7" text-anchor="end" transform="rotate(-45 321.90 133.50)">Tnf<tspan font-size="4.29" dy="-2.41">-/-</tspan><tspan dy="2.41"> miR-146a</tspan><tspan font-size="4.29" dy="-2.41">-/-</tspan></text>
<text x="338.30" y="133.50" font-size="6.7" text-anchor="end" transform="rotate(-45 338.30 133.50)">Nfkb1<tspan font-size="4.29" dy="-2.41">-/-</tspan><tspan dy="2.41"> miR-146a</tspan><tspan font-size="4.29" dy="-2.41">-/-</tspan></text>
<text x="361.90" y="19.00" font-size="14.5" font-weight="bold" fill="#000" textLength="10.00" lengthAdjust="spacingAndGlyphs" >C</text>
<text x="439.60" y="41.50" font-size="9.0" text-anchor="middle" textLength="34.40" lengthAdjust="spacingAndGlyphs" >24 hours</text>
<line x1="396.30" y1="48.50" x2="396.30" y2="123.90" stroke="#231f20" stroke-width="1.5" />
<line x1="395.60" y1="123.20" x2="483.00" y2="123.20" stroke="#231f20" stroke-width="1.5" />
<line x1="393.00" y1="112.93" x2="396.30" y2="112.93" stroke="#231f20" stroke-width="1.1" />
<text x="389.90" y="115.13" font-size="6.7" text-anchor="end" >1</text>
<line x1="393.00" y1="102.67" x2="396.30" y2="102.67" stroke="#231f20" stroke-width="1.1" />
<text x="389.90" y="104.87" font-size="6.7" text-anchor="end" >2</text>
<line x1="393.00" y1="92.40" x2="396.30" y2="92.40" stroke="#231f20" stroke-width="1.1" />
<text x="389.90" y="94.60" font-size="6.7" text-anchor="end" >3</text>
<line x1="393.00" y1="82.13" x2="396.30" y2="82.13" stroke="#231f20" stroke-width="1.1" />
<text x="389.90" y="84.33" font-size="6.7" text-anchor="end" >4</text>
<line x1="393.00" y1="71.87" x2="396.30" y2="71.87" stroke="#231f20" stroke-width="1.1" />
<text x="389.90" y="74.07" font-size="6.7" text-anchor="end" >5</text>
<line x1="393.00" y1="61.60" x2="396.30" y2="61.60" stroke="#231f20" stroke-width="1.1" />
<text x="389.90" y="63.80" font-size="6.7" text-anchor="end" >6</text>
<text x="370.80" y="85.70" font-size="8.7" text-anchor="middle" textLength="94.40" lengthAdjust="spacingAndGlyphs" transform="rotate(-90 370.80 85.70)" >Fold change in % cells divided</text>
<text x="380.70" y="84.50" font-size="8.7" text-anchor="middle" textLength="43.50" lengthAdjust="spacingAndGlyphs" transform="rotate(-90 380.70 84.50)" >(mean ± SEM)</text>
<rect x="401.20" y="112.30" width="10.00" height="10.90" fill="#27467d"/>
<line x1="406.20" y1="123.20" x2="406.20" y2="125.60" stroke="#231f20" stroke-width="1.0" />
<line x1="406.20" y1="112.30" x2="406.20" y2="112.00" stroke="#000" stroke-width="1.0" />
<line x1="404.00" y1="112.00" x2="408.40" y2="112.00" stroke="#000" stroke-width="1.0" />
<rect x="417.90" y="90.60" width="10.00" height="32.60" fill="#b0002c"/>
<line x1="422.90" y1="123.20" x2="422.90" y2="125.60" stroke="#231f20" stroke-width="1.0" />
<line x1="422.90" y1="90.60" x2="422.90" y2="84.80" stroke="#000" stroke-width="1.0" />
<line x1="420.70" y1="84.80" x2="425.10" y2="84.80" stroke="#000" stroke-width="1.0" />
<rect x="434.30" y="109.60" width="10.10" height="13.60" fill="#67a644"/>
<line x1="439.35" y1="123.20" x2="439.35" y2="125.60" stroke="#231f20" stroke-width="1.0" />
<line x1="439.35" y1="109.60" x2="439.35" y2="107.00" stroke="#000" stroke-width="1.0" />
<line x1="437.15" y1="107.00" x2="441.55" y2="107.00" stroke="#000" stroke-width="1.0" />
<rect x="451.20" y="111.00" width="10.00" height="12.20" fill="#e9ba22"/>
<line x1="456.20" y1="123.20" x2="456.20" y2="125.60" stroke="#231f20" stroke-width="1.0" />
<line x1="456.20" y1="111.00" x2="456.20" y2="109.50" stroke="#000" stroke-width="1.0" />
<line x1="454.00" y1="109.50" x2="458.40" y2="109.50" stroke="#000" stroke-width="1.0" />
<rect x="467.90" y="105.80" width="10.00" height="17.40" fill="#522668"/>
<line x1="472.90" y1="123.20" x2="472.90" y2="125.60" stroke="#231f20" stroke-width="1.0" />
<line x1="472.90" y1="105.80" x2="472.90" y2="101.90" stroke="#000" stroke-width="1.0" />
<line x1="470.70" y1="101.90" x2="475.10" y2="101.90" stroke="#000" stroke-width="1.0" />
<rect x="401.20" y="111.60" width="10.00" height="1.40" fill="#000"/>
<circle cx="422.90" cy="72.60" r="1.0" fill="#000"/>
<circle cx="422.90" cy="100.80" r="1.0" fill="#000"/>
<circle cx="422.90" cy="103.50" r="1.0" fill="#000"/>
<circle cx="422.50" cy="86.00" r="1.0" fill="#000"/>
<circle cx="439.30" cy="104.80" r="1.0" fill="#000"/>
<circle cx="439.30" cy="110.00" r="1.0" fill="#000"/>
<circle cx="438.70" cy="112.00" r="1.0" fill="#000"/>
<circle cx="439.80" cy="108.60" r="1.0" fill="#000"/>
<circle cx="456.20" cy="108.50" r="1.0" fill="#000"/>
<circle cx="455.60" cy="110.50" r="1.0" fill="#000"/>
<circle cx="456.80" cy="110.80" r="1.0" fill="#000"/>
<circle cx="456.20" cy="112.50" r="1.0" fill="#000"/>
<circle cx="472.90" cy="97.10" r="1.0" fill="#000"/>
<circle cx="472.30" cy="104.80" r="1.0" fill="#000"/>
<circle cx="473.50" cy="106.50" r="1.0" fill="#000"/>
<circle cx="472.90" cy="109.00" r="1.0" fill="#000"/>
<path d="M422.10 55.50V53.50H473.00V55.50" fill="none" stroke="#231f20" stroke-width="1.1"/>
<text x="447.60" y="52.20" font-size="5.6" text-anchor="middle" >0.005</text>
<path d="M422.10 62.30V60.30H456.70V62.30" fill="none" stroke="#231f20" stroke-width="1.1"/>
<text x="439.40" y="59.20" font-size="5.6" text-anchor="middle" >0.001</text>
<path d="M405.80 70.30V68.30H422.10V70.30" fill="none" stroke="#231f20" stroke-width="1.1"/>
<text x="412.00" y="67.20" font-size="5.6" text-anchor="middle" >&lt;0.0001</text>
<path d="M422.10 70.30V68.30H440.40V70.30" fill="none" stroke="#231f20" stroke-width="1.1"/>
<text x="431.70" y="67.20" font-size="5.6" text-anchor="middle" >0.001</text>
<text x="409.30" y="134.00" font-size="6.7" text-anchor="end" transform="rotate(-45 409.30 134.00)">WT</text>
<text x="424.10" y="134.00" font-size="6.7" text-anchor="end" transform="rotate(-45 424.10 134.00)">miR-146a<tspan font-size="4.29" dy="-2.41">-/-</tspan></text>
<text x="440.50" y="134.00" font-size="6.7" text-anchor="end" transform="rotate(-45 440.50 134.00)">Il6<tspan font-size="4.29" dy="-2.41">-/-</tspan><tspan dy="2.41"> miR-146a</tspan><tspan font-size="4.29" dy="-2.41">-/-</tspan></text>
<text x="457.10" y="134.00" font-size="6.7" text-anchor="end" transform="rotate(-45 457.10 134.00)">Tnf<tspan font-size="4.29" dy="-2.41">-/-</tspan><tspan dy="2.41"> miR-146a</tspan><tspan font-size="4.29" dy="-2.41">-/-</tspan></text>
<text x="473.70" y="134.00" font-size="6.7" text-anchor="end" transform="rotate(-45 473.70 134.00)">Nfkb1<tspan font-size="4.29" dy="-2.41">-/-</tspan><tspan dy="2.41"> miR-146a</tspan><tspan font-size="4.29" dy="-2.41">-/-</tspan></text>
<text x="6.80" y="195.90" font-size="14.5" font-weight="bold" fill="#000" textLength="11.40" lengthAdjust="spacingAndGlyphs" >D</text>
<line x1="43.40" y1="202.00" x2="43.40" y2="288.70" stroke="#231f20" stroke-width="1.2" />
<line x1="42.80" y1="288.30" x2="171.00" y2="288.30" stroke="#231f20" stroke-width="1.2" />
<line x1="40.20" y1="287.90" x2="43.40" y2="287.90" stroke="#231f20" stroke-width="1.1" />
<text x="37.00" y="290.30" font-size="6.8" text-anchor="end" textLength="8.55" lengthAdjust="spacingAndGlyphs" >0%</text>
<line x1="40.20" y1="267.52" x2="43.40" y2="267.52" stroke="#231f20" stroke-width="1.1" />
<text x="37.00" y="269.92" font-size="6.8" text-anchor="end" textLength="11.84" lengthAdjust="spacingAndGlyphs" >25%</text>
<line x1="40.20" y1="247.15" x2="43.40" y2="247.15" stroke="#231f20" stroke-width="1.1" />
<text x="37.00" y="249.55" font-size="6.8" text-anchor="end" textLength="11.84" lengthAdjust="spacingAndGlyphs" >50%</text>
<line x1="40.20" y1="226.78" x2="43.40" y2="226.78" stroke="#231f20" stroke-width="1.1" />
<text x="37.00" y="229.18" font-size="6.8" text-anchor="end" textLength="11.84" lengthAdjust="spacingAndGlyphs" >75%</text>
<line x1="40.20" y1="206.40" x2="43.40" y2="206.40" stroke="#231f20" stroke-width="1.1" />
<text x="37.00" y="208.80" font-size="6.8" text-anchor="end" textLength="15.13" lengthAdjust="spacingAndGlyphs" >100%</text>
<line x1="43.40" y1="288.30" x2="43.40" y2="291.00" stroke="#231f20" stroke-width="1.0" />
<line x1="45.00" y1="288.30" x2="45.00" y2="289.90" stroke="#231f20" stroke-width="0.7" />
<line x1="46.60" y1="288.30" x2="46.60" y2="289.90" stroke="#231f20" stroke-width="0.7" />
<line x1="48.20" y1="288.30" x2="48.20" y2="289.90" stroke="#231f20" stroke-width="0.7" />
<line x1="49.80" y1="288.30" x2="49.80" y2="289.90" stroke="#231f20" stroke-width="0.7" />
<line x1="51.40" y1="288.30" x2="51.40" y2="289.90" stroke="#231f20" stroke-width="0.7" />
<line x1="53.00" y1="288.30" x2="53.00" y2="289.90" stroke="#231f20" stroke-width="0.7" />
<line x1="54.60" y1="288.30" x2="54.60" y2="289.90" stroke="#231f20" stroke-width="0.7" />
<line x1="56.20" y1="288.30" x2="56.20" y2="289.90" stroke="#231f20" stroke-width="0.7" />
<line x1="57.80" y1="288.30" x2="57.80" y2="289.90" stroke="#231f20" stroke-width="0.7" />
<line x1="59.40" y1="288.30" x2="59.40" y2="291.00" stroke="#231f20" stroke-width="1.0" />
<line x1="61.00" y1="288.30" x2="61.00" y2="289.90" stroke="#231f20" stroke-width="0.7" />
<line x1="62.60" y1="288.30" x2="62.60" y2="289.90" stroke="#231f20" stroke-width="0.7" />
<line x1="64.20" y1="288.30" x2="64.20" y2="289.90" stroke="#231f20" stroke-width="0.7" />
<line x1="65.80" y1="288.30" x2="65.80" y2="289.90" stroke="#231f20" stroke-width="0.7" />
<line x1="67.40" y1="288.30" x2="67.40" y2="289.90" stroke="#231f20" stroke-width="0.7" />
<line x1="69.00" y1="288.30" x2="69.00" y2="289.90" stroke="#231f20" stroke-width="0.7" />
<line x1="70.60" y1="288.30" x2="70.60" y2="289.90" stroke="#231f20" stroke-width="0.7" />
<line x1="72.20" y1="288.30" x2="72.20" y2="289.90" stroke="#231f20" stroke-width="0.7" />
<line x1="73.80" y1="288.30" x2="73.80" y2="289.90" stroke="#231f20" stroke-width="0.7" />
<line x1="75.40" y1="288.30" x2="75.40" y2="291.00" stroke="#231f20" stroke-width="1.0" />
<line x1="77.00" y1="288.30" x2="77.00" y2="289.90" stroke="#231f20" stroke-width="0.7" />
<line x1="78.60" y1="288.30" x2="78.60" y2="289.90" stroke="#231f20" stroke-width="0.7" />
<line x1="80.20" y1="288.30" x2="80.20" y2="289.90" stroke="#231f20" stroke-width="0.7" />
<line x1="81.80" y1="288.30" x2="81.80" y2="289.90" stroke="#231f20" stroke-width="0.7" />
<line x1="83.40" y1="288.30" x2="83.40" y2="289.90" stroke="#231f20" stroke-width="0.7" />
<line x1="85.00" y1="288.30" x2="85.00" y2="289.90" stroke="#231f20" stroke-width="0.7" />
<line x1="86.60" y1="288.30" x2="86.60" y2="289.90" stroke="#231f20" stroke-width="0.7" />
<line x1="88.20" y1="288.30" x2="88.20" y2="289.90" stroke="#231f20" stroke-width="0.7" />
<line x1="89.80" y1="288.30" x2="89.80" y2="289.90" stroke="#231f20" stroke-width="0.7" />
<line x1="91.40" y1="288.30" x2="91.40" y2="291.00" stroke="#231f20" stroke-width="1.0" />
<line x1="93.00" y1="288.30" x2="93.00" y2="289.90" stroke="#231f20" stroke-width="0.7" />
<line x1="94.60" y1="288.30" x2="94.60" y2="289.90" stroke="#231f20" stroke-width="0.7" />
<line x1="96.20" y1="288.30" x2="96.20" y2="289.90" stroke="#231f20" stroke-width="0.7" />
<line x1="97.80" y1="288.30" x2="97.80" y2="289.90" stroke="#231f20" stroke-width="0.7" />
<line x1="99.40" y1="288.30" x2="99.40" y2="289.90" stroke="#231f20" stroke-width="0.7" />
<line x1="101.00" y1="288.30" x2="101.00" y2="289.90" stroke="#231f20" stroke-width="0.7" />
<line x1="102.60" y1="288.30" x2="102.60" y2="289.90" stroke="#231f20" stroke-width="0.7" />
<line x1="104.20" y1="288.30" x2="104.20" y2="289.90" stroke="#231f20" stroke-width="0.7" />
<line x1="105.80" y1="288.30" x2="105.80" y2="289.90" stroke="#231f20" stroke-width="0.7" />
<line x1="107.40" y1="288.30" x2="107.40" y2="291.00" stroke="#231f20" stroke-width="1.0" />
<line x1="109.00" y1="288.30" x2="109.00" y2="289.90" stroke="#231f20" stroke-width="0.7" />
<line x1="110.60" y1="288.30" x2="110.60" y2="289.90" stroke="#231f20" stroke-width="0.7" />
<line x1="112.20" y1="288.30" x2="112.20" y2="289.90" stroke="#231f20" stroke-width="0.7" />
<line x1="113.80" y1="288.30" x2="113.80" y2="289.90" stroke="#231f20" stroke-width="0.7" />
<line x1="115.40" y1="288.30" x2="115.40" y2="289.90" stroke="#231f20" stroke-width="0.7" />
<line x1="117.00" y1="288.30" x2="117.00" y2="289.90" stroke="#231f20" stroke-width="0.7" />
<line x1="118.60" y1="288.30" x2="118.60" y2="289.90" stroke="#231f20" stroke-width="0.7" />
<line x1="120.20" y1="288.30" x2="120.20" y2="289.90" stroke="#231f20" stroke-width="0.7" />
<line x1="121.80" y1="288.30" x2="121.80" y2="289.90" stroke="#231f20" stroke-width="0.7" />
<line x1="123.40" y1="288.30" x2="123.40" y2="291.00" stroke="#231f20" stroke-width="1.0" />
<line x1="125.00" y1="288.30" x2="125.00" y2="289.90" stroke="#231f20" stroke-width="0.7" />
<line x1="126.60" y1="288.30" x2="126.60" y2="289.90" stroke="#231f20" stroke-width="0.7" />
<line x1="128.20" y1="288.30" x2="128.20" y2="289.90" stroke="#231f20" stroke-width="0.7" />
<line x1="129.80" y1="288.30" x2="129.80" y2="289.90" stroke="#231f20" stroke-width="0.7" />
<line x1="131.40" y1="288.30" x2="131.40" y2="289.90" stroke="#231f20" stroke-width="0.7" />
<line x1="133.00" y1="288.30" x2="133.00" y2="289.90" stroke="#231f20" stroke-width="0.7" />
<line x1="134.60" y1="288.30" x2="134.60" y2="289.90" stroke="#231f20" stroke-width="0.7" />
<line x1="136.20" y1="288.30" x2="136.20" y2="289.90" stroke="#231f20" stroke-width="0.7" />
<line x1="137.80" y1="288.30" x2="137.80" y2="289.90" stroke="#231f20" stroke-width="0.7" />
<line x1="139.40" y1="288.30" x2="139.40" y2="291.00" stroke="#231f20" stroke-width="1.0" />
<line x1="141.00" y1="288.30" x2="141.00" y2="289.90" stroke="#231f20" stroke-width="0.7" />
<line x1="142.60" y1="288.30" x2="142.60" y2="289.90" stroke="#231f20" stroke-width="0.7" />
<line x1="144.20" y1="288.30" x2="144.20" y2="289.90" stroke="#231f20" stroke-width="0.7" />
<line x1="145.80" y1="288.30" x2="145.80" y2="289.90" stroke="#231f20" stroke-width="0.7" />
<line x1="147.40" y1="288.30" x2="147.40" y2="289.90" stroke="#231f20" stroke-width="0.7" />
<line x1="149.00" y1="288.30" x2="149.00" y2="289.90" stroke="#231f20" stroke-width="0.7" />
<line x1="150.60" y1="288.30" x2="150.60" y2="289.90" stroke="#231f20" stroke-width="0.7" />
<line x1="152.20" y1="288.30" x2="152.20" y2="289.90" stroke="#231f20" stroke-width="0.7" />
<line x1="153.80" y1="288.30" x2="153.80" y2="289.90" stroke="#231f20" stroke-width="0.7" />
<line x1="155.40" y1="288.30" x2="155.40" y2="291.00" stroke="#231f20" stroke-width="1.0" />
<line x1="157.00" y1="288.30" x2="157.00" y2="289.90" stroke="#231f20" stroke-width="0.7" />
<line x1="158.60" y1="288.30" x2="158.60" y2="289.90" stroke="#231f20" stroke-width="0.7" />
<line x1="160.20" y1="288.30" x2="160.20" y2="289.90" stroke="#231f20" stroke-width="0.7" />
<line x1="161.80" y1="288.30" x2="161.80" y2="289.90" stroke="#231f20" stroke-width="0.7" />
<line x1="163.40" y1="288.30" x2="163.40" y2="289.90" stroke="#231f20" stroke-width="0.7" />
<line x1="165.00" y1="288.30" x2="165.00" y2="289.90" stroke="#231f20" stroke-width="0.7" />
<line x1="166.60" y1="288.30" x2="166.60" y2="289.90" stroke="#231f20" stroke-width="0.7" />
<line x1="168.20" y1="288.30" x2="168.20" y2="289.90" stroke="#231f20" stroke-width="0.7" />
<line x1="169.80" y1="288.30" x2="169.80" y2="289.90" stroke="#231f20" stroke-width="0.7" />
<text x="43.40" y="300.10" font-size="6.4" text-anchor="middle" >0</text>
<text x="59.40" y="300.10" font-size="6.4" text-anchor="middle" >10</text>
<text x="75.40" y="300.10" font-size="6.4" text-anchor="middle" >20</text>
<text x="91.40" y="300.10" font-size="6.4" text-anchor="middle" >30</text>
<text x="107.40" y="300.10" font-size="6.4" text-anchor="middle" >40</text>
<text x="123.40" y="300.10" font-size="6.4" text-anchor="middle" >50</text>
<text x="139.40" y="300.10" font-size="6.4" text-anchor="middle" >60</text>
<text x="155.40" y="300.10" font-size="6.4" text-anchor="middle" >70</text>
<line x1="168.20" y1="288.30" x2="168.20" y2="291.00" stroke="#231f20" stroke-width="1.0" />
<text x="108.20" y="312.40" font-size="8.7" text-anchor="middle" textLength="41.00" lengthAdjust="spacingAndGlyphs" >Time (weeks)</text>
<text x="15.10" y="244.80" font-size="9.2" text-anchor="middle" textLength="47.90" lengthAdjust="spacingAndGlyphs" transform="rotate(-90 15.10 244.80)" >Percent survival</text>
<path d="M43.40 206.50L57.00 206.50L57.00 208.80L104.10 208.80L104.10 210.80L109.40 210.80L110.40 212.50L112.80 213.50L113.75 215.40L114.70 217.10L117.60 217.30L118.60 219.70L119.50 222.10L120.50 225.00L121.40 227.90L122.40 230.60L125.80 230.80L126.70 232.70L129.10 233.20L130.10 235.60L131.50 237.00L133.50 238.00L134.40 241.30L140.70 241.30L141.60 243.30L142.60 247.10L143.10 250.00L143.80 250.50L145.20 252.90L153.40 252.90L153.40 259.10L157.20 259.10L157.70 264.90L160.60 266.30L162.00 270.20L163.00 272.60L168.80 272.60L168.80 275.00" fill="none" stroke="#b0002c" stroke-width="1.6" stroke-linejoin="miter"/>
<path d="M43.40 206.50L108.00 206.50L108.00 209.60L115.20 209.60L115.20 215.40L125.80 215.40L125.80 219.70L128.80 219.70L129.10 228.80L132.00 228.80L132.50 233.20L134.90 233.20L135.40 238.50L141.20 238.50L141.60 241.30L143.10 247.20L168.80 247.20" fill="none" stroke="#ec9a1c" stroke-width="1.5" stroke-linejoin="miter"/>
<path d="M43.40 206.50L131.30 206.50L131.30 212.00L136.80 212.00L136.80 217.30L141.60 217.30L141.60 222.60L152.70 222.60L152.70 228.00L169.00 228.00" fill="none" stroke="#5aa53a" stroke-width="1.5" stroke-linejoin="miter"/>
<path d="M43.40 206.50L150.70 206.50L150.70 208.90L166.80 208.90L167.40 212.50L168.20 217.70" fill="none" stroke="#2a4d8f" stroke-width="1.5" stroke-linejoin="miter"/>
<line x1="48.70" y1="252.50" x2="63.80" y2="252.50" stroke="#2a4d8f" stroke-width="1.2" />
<line x1="56.10" y1="249.80" x2="56.10" y2="252.50" stroke="#2a4d8f" stroke-width="1.0" />
<text x="67.1" y="254.60" font-size="6.0" textLength="26.6" lengthAdjust="spacingAndGlyphs">WT (n=29)</text>
<line x1="48.70" y1="261.70" x2="63.80" y2="261.70" stroke="#b0002c" stroke-width="1.2" />
<line x1="56.10" y1="259.00" x2="56.10" y2="261.70" stroke="#b0002c" stroke-width="1.0" />
<text x="67.1" y="263.80" font-size="6.0" textLength="45.9" lengthAdjust="spacingAndGlyphs"><tspan font-style="italic">miR-146a</tspan><tspan font-size="3.8" dy="-2.2">-/-</tspan><tspan dy="2.2"> (n=37)</tspan></text>
<line x1="48.70" y1="271.70" x2="63.80" y2="271.70" stroke="#5aa53a" stroke-width="1.2" />
<line x1="56.10" y1="269.00" x2="56.10" y2="271.70" stroke="#5aa53a" stroke-width="1.0" />
<text x="67.1" y="273.80" font-size="6.0" textLength="54.3" lengthAdjust="spacingAndGlyphs"><tspan font-style="italic">Il6</tspan><tspan font-size="3.8" dy="-2.2">-/-</tspan><tspan dy="2.2" font-style="italic"> miR-146a</tspan><tspan font-size="3.8" dy="-2.2">-/-</tspan><tspan dy="2.2"> (n=15)</tspan></text>
<line x1="48.70" y1="281.70" x2="63.80" y2="281.70" stroke="#ec9a1c" stroke-width="1.2" />
<line x1="56.10" y1="279.00" x2="56.10" y2="281.70" stroke="#ec9a1c" stroke-width="1.0" />
<text x="67.1" y="283.80" font-size="6.0" textLength="59.2" lengthAdjust="spacingAndGlyphs"><tspan font-style="italic">Tnf</tspan><tspan font-size="3.8" dy="-2.2">-/-</tspan><tspan dy="2.2" font-style="italic"> miR-146a</tspan><tspan font-size="3.8" dy="-2.2">-/-</tspan><tspan dy="2.2"> (n=18)</tspan></text>
<path d="M129.2 260.6H131.3V281.6H129.2" fill="none" stroke="#555" stroke-width="1.4"/>
<path d="M132.6 260.6H134.6V272.0H132.6" fill="none" stroke="#222" stroke-width="1.2"/>
<text x="137.00" y="266.80" font-size="4.9" fill="#555" textLength="18.80" lengthAdjust="spacingAndGlyphs" >p=0.0001</text>
<text x="133.20" y="276.90" font-size="4.9" fill="#555" textLength="13.80" lengthAdjust="spacingAndGlyphs" >p=0.02</text>
<text x="188.20" y="195.60" font-size="14.5" font-weight="bold" fill="#000" textLength="8.20" lengthAdjust="spacingAndGlyphs" >E</text>
<text x="292.60" y="204.80" font-size="7.3" text-anchor="middle" textLength="58.80" lengthAdjust="spacingAndGlyphs" >50 ng/ul IL6 (or ctrl)</text>
<path d="M255.0 211.4V209.8H330.2V211.4" fill="none" stroke="#6ab04c" stroke-width="1.2"/>
<text x="274.20" y="217.60" font-size="6.4" text-anchor="middle" textLength="22.00" lengthAdjust="spacingAndGlyphs" >ESLAM</text>
<text x="274.10" y="227.10" font-size="6.4" text-anchor="middle" textLength="18.50" lengthAdjust="spacingAndGlyphs" >WT or</text>
<text x="250.5" y="235.0" font-size="6.4" font-style="italic" textLength="46.4" lengthAdjust="spacingAndGlyphs">Il6<tspan font-size="4.0" dy="-2.3">-/-</tspan><tspan dy="2.3"> miR-146a</tspan><tspan font-size="4.0" dy="-2.3">-/-</tspan></text>
<text x="208.10" y="245.50" font-size="6.4" textLength="30.10" lengthAdjust="spacingAndGlyphs" >Index sort</text>
<line x1="241.70" y1="243.40" x2="252.30" y2="243.40" stroke="#000" stroke-width="1.1"/>
<path d="M255.70 243.40L250.70 245.50L252.10 243.40L250.70 241.30Z" fill="#000"/>
<circle cx="272.80" cy="243.40" r="2.25" fill="#c8c8c8" stroke="#4a4a4a" stroke-width="0.9"/>
<circle cx="272.80" cy="243.40" r="1.0" fill="#b0b0b0" stroke="#7a7a7a" stroke-width="0.5"/>
<line x1="291.40" y1="243.40" x2="310.66" y2="243.40" stroke="#000" stroke-width="1.1"/>
<path d="M314.20 243.40L309.00 245.50L310.46 243.40L309.00 241.30Z" fill="#000"/>
<circle cx="322.50" cy="243.40" r="2.25" fill="#c8c8c8" stroke="#4a4a4a" stroke-width="0.9"/>
<circle cx="322.50" cy="243.40" r="1.0" fill="#b0b0b0" stroke="#7a7a7a" stroke-width="0.5"/>
<circle cx="328.00" cy="243.40" r="2.25" fill="#c8c8c8" stroke="#4a4a4a" stroke-width="0.9"/>
<circle cx="328.00" cy="243.40" r="1.0" fill="#b0b0b0" stroke="#7a7a7a" stroke-width="0.5"/>
<text x="224.00" y="275.00" font-size="14.5" font-weight="bold" fill="#000" textLength="7.60" lengthAdjust="spacingAndGlyphs" >F</text>
<line x1="250.70" y1="291.00" x2="250.70" y2="330.30" stroke="#231f20" stroke-width="1.3" />
<line x1="247.80" y1="329.80" x2="250.70" y2="329.80" stroke="#231f20" stroke-width="1.2" />
<line x1="247.60" y1="329.80" x2="250.70" y2="329.80" stroke="#231f20" stroke-width="1.1" />
<text x="244.40" y="332.20" font-size="6.7" text-anchor="end" >0</text>
<line x1="247.60" y1="319.20" x2="250.70" y2="319.20" stroke="#231f20" stroke-width="1.1" />
<text x="244.40" y="321.60" font-size="6.7" text-anchor="end" >25</text>
<line x1="247.60" y1="308.60" x2="250.70" y2="308.60" stroke="#231f20" stroke-width="1.1" />
<text x="244.40" y="311.00" font-size="6.7" text-anchor="end" >50</text>
<line x1="247.60" y1="298.00" x2="250.70" y2="298.00" stroke="#231f20" stroke-width="1.1" />
<text x="244.40" y="300.40" font-size="6.7" text-anchor="end" >75</text>
<text x="232.10" y="310.50" font-size="9.4" text-anchor="middle" textLength="31.30" lengthAdjust="spacingAndGlyphs" transform="rotate(-90 232.10 310.50)" >% divided</text>
<text x="269.60" y="285.60" font-size="8.6" text-anchor="middle" textLength="34.60" lengthAdjust="spacingAndGlyphs" >24 hours</text>
<line x1="251.00" y1="329.80" x2="289.60" y2="329.80" stroke="#231f20" stroke-width="1.3" />
<rect x="253.80" y="327.40" width="5.60" height="2.40" fill="#29487e"/>
<line x1="256.60" y1="329.80" x2="256.60" y2="333.10" stroke="#231f20" stroke-width="1.0" />
<rect x="262.70" y="326.00" width="5.60" height="3.80" fill="#62a5dc"/>
<line x1="265.50" y1="329.80" x2="265.50" y2="333.10" stroke="#231f20" stroke-width="1.0" />
<rect x="271.60" y="326.50" width="5.60" height="3.30" fill="#5ea33e"/>
<line x1="274.40" y1="329.80" x2="274.40" y2="333.10" stroke="#231f20" stroke-width="1.0" />
<rect x="280.50" y="326.00" width="5.60" height="3.80" fill="#b2d39a"/>
<line x1="283.30" y1="329.80" x2="283.30" y2="333.10" stroke="#231f20" stroke-width="1.0" />
<text x="259.50" y="340.30" font-size="7.0" text-anchor="end" transform="rotate(-45 259.50 340.30)">WT + ctrl</text>
<text x="268.40" y="340.30" font-size="7.0" text-anchor="end" transform="rotate(-45 268.40 340.30)">WT + IL6</text>
<text x="277.30" y="340.30" font-size="7.0" text-anchor="end" transform="rotate(-45 277.30 340.30)">IDKO + ctrl</text>
<text x="286.20" y="340.30" font-size="7.0" text-anchor="end" transform="rotate(-45 286.20 340.30)">IDKO + IL6</text>
<text x="311.70" y="285.60" font-size="8.6" text-anchor="middle" textLength="34.60" lengthAdjust="spacingAndGlyphs" >28 hours</text>
<line x1="293.10" y1="329.80" x2="331.70" y2="329.80" stroke="#231f20" stroke-width="1.3" />
<rect x="295.90" y="326.50" width="5.60" height="3.30" fill="#29487e"/>
<line x1="298.70" y1="329.80" x2="298.70" y2="333.10" stroke="#231f20" stroke-width="1.0" />
<rect x="304.80" y="323.00" width="5.60" height="6.80" fill="#62a5dc"/>
<line x1="307.60" y1="329.80" x2="307.60" y2="333.10" stroke="#231f20" stroke-width="1.0" />
<rect x="313.70" y="325.50" width="5.60" height="4.30" fill="#5ea33e"/>
<line x1="316.50" y1="329.80" x2="316.50" y2="333.10" stroke="#231f20" stroke-width="1.0" />
<rect x="322.60" y="319.30" width="5.60" height="10.50" fill="#b2d39a"/>
<line x1="325.40" y1="329.80" x2="325.40" y2="333.10" stroke="#231f20" stroke-width="1.0" />
<text x="301.60" y="340.30" font-size="7.0" text-anchor="end" transform="rotate(-45 301.60 340.30)">WT + ctrl</text>
<text x="310.50" y="340.30" font-size="7.0" text-anchor="end" transform="rotate(-45 310.50 340.30)">WT + IL6</text>
<text x="319.40" y="340.30" font-size="7.0" text-anchor="end" transform="rotate(-45 319.40 340.30)">IDKO + ctrl</text>
<text x="328.30" y="340.30" font-size="7.0" text-anchor="end" transform="rotate(-45 328.30 340.30)">IDKO + IL6</text>
<text x="353.80" y="285.60" font-size="8.6" text-anchor="middle" textLength="34.60" lengthAdjust="spacingAndGlyphs" >32 hours</text>
<line x1="335.20" y1="329.80" x2="373.80" y2="329.80" stroke="#231f20" stroke-width="1.3" />
<rect x="338.00" y="319.00" width="5.60" height="10.80" fill="#29487e"/>
<line x1="340.80" y1="329.80" x2="340.80" y2="333.10" stroke="#231f20" stroke-width="1.0" />
<rect x="346.90" y="319.00" width="5.60" height="10.80" fill="#62a5dc"/>
<line x1="349.70" y1="329.80" x2="349.70" y2="333.10" stroke="#231f20" stroke-width="1.0" />
<rect x="355.80" y="317.50" width="5.60" height="12.30" fill="#5ea33e"/>
<line x1="358.60" y1="329.80" x2="358.60" y2="333.10" stroke="#231f20" stroke-width="1.0" />
<rect x="364.70" y="313.30" width="5.60" height="16.50" fill="#b2d39a"/>
<line x1="367.50" y1="329.80" x2="367.50" y2="333.10" stroke="#231f20" stroke-width="1.0" />
<text x="343.70" y="340.30" font-size="7.0" text-anchor="end" transform="rotate(-45 343.70 340.30)">WT + ctrl</text>
<text x="352.60" y="340.30" font-size="7.0" text-anchor="end" transform="rotate(-45 352.60 340.30)">WT + IL6</text>
<text x="361.50" y="340.30" font-size="7.0" text-anchor="end" transform="rotate(-45 361.50 340.30)">IDKO + ctrl</text>
<text x="370.40" y="340.30" font-size="7.0" text-anchor="end" transform="rotate(-45 370.40 340.30)">IDKO + IL6</text>
<text x="395.90" y="285.60" font-size="8.6" text-anchor="middle" textLength="34.60" lengthAdjust="spacingAndGlyphs" >48 hours</text>
<line x1="377.30" y1="329.80" x2="415.90" y2="329.80" stroke="#231f20" stroke-width="1.3" />
<rect x="380.10" y="294.90" width="5.60" height="34.90" fill="#29487e"/>
<line x1="382.90" y1="329.80" x2="382.90" y2="333.10" stroke="#231f20" stroke-width="1.0" />
<rect x="389.00" y="302.80" width="5.60" height="27.00" fill="#62a5dc"/>
<line x1="391.80" y1="329.80" x2="391.80" y2="333.10" stroke="#231f20" stroke-width="1.0" />
<rect x="397.90" y="294.90" width="5.60" height="34.90" fill="#5ea33e"/>
<line x1="400.70" y1="329.80" x2="400.70" y2="333.10" stroke="#231f20" stroke-width="1.0" />
<rect x="406.80" y="291.10" width="5.60" height="38.70" fill="#b2d39a"/>
<line x1="409.60" y1="329.80" x2="409.60" y2="333.10" stroke="#231f20" stroke-width="1.0" />
<text x="385.80" y="340.30" font-size="7.0" text-anchor="end" transform="rotate(-45 385.80 340.30)">WT + ctrl</text>
<text x="394.70" y="340.30" font-size="7.0" text-anchor="end" transform="rotate(-45 394.70 340.30)">WT + IL6</text>
<text x="403.60" y="340.30" font-size="7.0" text-anchor="end" transform="rotate(-45 403.60 340.30)">IDKO + ctrl</text>
<text x="412.50" y="340.30" font-size="7.0" text-anchor="end" transform="rotate(-45 412.50 340.30)">IDKO + IL6</text>
<text x="256.00" y="295.20" font-size="6.0" font-style="italic" fill="#444">P</text>
<text x="260.00" y="296.80" font-size="3.1" fill="#444" textLength="31.70" lengthAdjust="spacingAndGlyphs">Genotype: Treatment</text>
<text x="293.00" y="294.10" font-size="5.6" textLength="16.10" lengthAdjust="spacingAndGlyphs" >= 0.02</text>
<line x1="451.20" y1="290.20" x2="451.20" y2="330.60" stroke="#231f20" stroke-width="1.2" />
<line x1="450.70" y1="330.10" x2="486.30" y2="330.10" stroke="#231f20" stroke-width="1.2" />
<line x1="447.80" y1="330.10" x2="451.20" y2="330.10" stroke="#231f20" stroke-width="1.1" />
<text x="446.20" y="332.50" font-size="6.7" text-anchor="end" >0</text>
<line x1="447.80" y1="321.18" x2="451.20" y2="321.18" stroke="#231f20" stroke-width="1.1" />
<text x="446.20" y="323.57" font-size="6.7" text-anchor="end" >10</text>
<line x1="447.80" y1="312.25" x2="451.20" y2="312.25" stroke="#231f20" stroke-width="1.1" />
<text x="446.20" y="314.65" font-size="6.7" text-anchor="end" >20</text>
<line x1="447.80" y1="303.32" x2="451.20" y2="303.32" stroke="#231f20" stroke-width="1.1" />
<text x="446.20" y="305.72" font-size="6.7" text-anchor="end" >30</text>
<line x1="447.80" y1="294.40" x2="451.20" y2="294.40" stroke="#231f20" stroke-width="1.1" />
<text x="446.20" y="296.80" font-size="6.7" text-anchor="end" >40</text>
<text x="469.20" y="285.30" font-size="8.6" text-anchor="middle" textLength="40.80" lengthAdjust="spacingAndGlyphs" >Undivided</text>
<text x="432.80" y="310.00" font-size="8.9" text-anchor="middle" textLength="41.50" lengthAdjust="spacingAndGlyphs" transform="rotate(-90 432.80 310.00)" >% UnDivided</text>
<rect x="454.50" y="316.20" width="5.00" height="13.90" fill="#29487e"/>
<line x1="457.00" y1="330.10" x2="457.00" y2="333.40" stroke="#231f20" stroke-width="1.0" />
<rect x="463.15" y="299.20" width="5.00" height="30.90" fill="#62a5dc"/>
<line x1="465.65" y1="330.10" x2="465.65" y2="333.40" stroke="#231f20" stroke-width="1.0" />
<rect x="471.80" y="316.20" width="5.00" height="13.90" fill="#5ea33e"/>
<line x1="474.30" y1="330.10" x2="474.30" y2="333.40" stroke="#231f20" stroke-width="1.0" />
<rect x="480.45" y="323.80" width="5.00" height="6.30" fill="#b2d39a"/>
<line x1="482.95" y1="330.10" x2="482.95" y2="333.40" stroke="#231f20" stroke-width="1.0" />
<text x="459.90" y="340.60" font-size="7.0" text-anchor="end" transform="rotate(-45 459.90 340.60)">WT + ctrl</text>
<text x="468.55" y="340.60" font-size="7.0" text-anchor="end" transform="rotate(-45 468.55 340.60)">WT + IL6</text>
<text x="477.20" y="340.60" font-size="7.0" text-anchor="end" transform="rotate(-45 477.20 340.60)">IDKO + ctrl</text>
<text x="485.85" y="340.60" font-size="7.0" text-anchor="end" transform="rotate(-45 485.85 340.60)">IDKO + IL6</text>
<text x="454.60" y="295.60" font-size="6.0" font-style="italic" fill="#444">P</text>
<text x="458.60" y="297.20" font-size="3.1" fill="#444" textLength="32.40" lengthAdjust="spacingAndGlyphs">Genotype: Treatment</text>
<text x="491.60" y="294.40" font-size="5.6" textLength="19.40" lengthAdjust="spacingAndGlyphs" >= 0.006</text>
<rect x="253.50" y="384.00" width="39.80" height="11.00" fill="#c6c4c9" stroke="#222" stroke-width="1.45"/>
<rect x="254.85" y="385.35" width="37.10" height="8.30" fill="none" stroke="#e0dfe3" stroke-width="0.7"/>
<text x="273.40" y="392.10" font-size="6.6" text-anchor="middle" textLength="22.09" lengthAdjust="spacingAndGlyphs" >24 hours</text>
<rect x="302.70" y="384.00" width="39.80" height="11.00" fill="#c6c4c9" stroke="#222" stroke-width="1.45"/>
<rect x="304.05" y="385.35" width="37.10" height="8.30" fill="none" stroke="#e0dfe3" stroke-width="0.7"/>
<text x="322.60" y="392.10" font-size="6.6" text-anchor="middle" textLength="22.09" lengthAdjust="spacingAndGlyphs" >28 hours</text>
<rect x="351.90" y="384.00" width="39.80" height="11.00" fill="#c6c4c9" stroke="#222" stroke-width="1.45"/>
<rect x="353.25" y="385.35" width="37.10" height="8.30" fill="none" stroke="#e0dfe3" stroke-width="0.7"/>
<text x="371.80" y="392.10" font-size="6.6" text-anchor="middle" textLength="22.09" lengthAdjust="spacingAndGlyphs" >32 hours</text>
<rect x="401.10" y="384.00" width="39.80" height="11.00" fill="#c6c4c9" stroke="#222" stroke-width="1.45"/>
<rect x="402.45" y="385.35" width="37.10" height="8.30" fill="none" stroke="#e0dfe3" stroke-width="0.7"/>
<text x="421.00" y="392.10" font-size="6.6" text-anchor="middle" textLength="22.09" lengthAdjust="spacingAndGlyphs" >48 hours</text>
<rect x="450.30" y="384.00" width="39.80" height="11.00" fill="#c6c4c9" stroke="#222" stroke-width="1.45"/>
<rect x="451.65" y="385.35" width="37.10" height="8.30" fill="none" stroke="#e0dfe3" stroke-width="0.7"/>
<text x="470.20" y="392.10" font-size="6.6" text-anchor="middle" textLength="25.24" lengthAdjust="spacingAndGlyphs" >Undivided</text>
<rect x="490.10" y="395.00" width="11.80" height="34.80" fill="#c6c4c9" stroke="#222" stroke-width="1.45"/>
<rect x="491.45" y="396.35" width="9.10" height="32.10" fill="none" stroke="#e0dfe3" stroke-width="0.7"/>
<text x="493.90" y="412.40" font-size="6.0" text-anchor="middle" transform="rotate(90 493.90 412.40)">WT + ctrl</text>
<rect x="253.50" y="395.00" width="39.80" height="34.80" fill="#fff" stroke="#222" stroke-width="1.45"/>
<rect x="302.70" y="395.00" width="39.80" height="34.80" fill="#fff" stroke="#222" stroke-width="1.45"/>
<rect x="351.90" y="395.00" width="39.80" height="34.80" fill="#fff" stroke="#222" stroke-width="1.45"/>
<rect x="401.10" y="395.00" width="39.80" height="34.80" fill="#fff" stroke="#222" stroke-width="1.45"/>
<rect x="450.30" y="395.00" width="39.80" height="34.80" fill="#fff" stroke="#222" stroke-width="1.45"/>
<line x1="250.90" y1="396.40" x2="253.50" y2="396.40" stroke="#231f20" stroke-width="1.1" />
<text x="238.87" y="398.80" font-size="6.7" textLength="6.50" lengthAdjust="spacingAndGlyphs" fill="#231f20">10</text>
<text x="245.66" y="395.05" font-size="4.02" fill="#231f20" stroke="#231f20" stroke-width="0.15">5</text>
<line x1="250.90" y1="412.40" x2="253.50" y2="412.40" stroke="#231f20" stroke-width="1.1" />
<text x="238.87" y="414.80" font-size="6.7" textLength="6.50" lengthAdjust="spacingAndGlyphs" fill="#231f20">10</text>
<text x="245.66" y="411.05" font-size="4.02" fill="#231f20" stroke="#231f20" stroke-width="0.15">4</text>
<line x1="250.90" y1="428.60" x2="253.50" y2="428.60" stroke="#231f20" stroke-width="1.1" />
<text x="238.87" y="431.00" font-size="6.7" textLength="6.50" lengthAdjust="spacingAndGlyphs" fill="#231f20">10</text>
<text x="245.66" y="427.25" font-size="4.02" fill="#231f20" stroke="#231f20" stroke-width="0.15">3</text>
<rect x="490.10" y="441.20" width="11.80" height="34.80" fill="#c6c4c9" stroke="#222" stroke-width="1.45"/>
<rect x="491.45" y="442.55" width="9.10" height="32.10" fill="none" stroke="#e0dfe3" stroke-width="0.7"/>
<text x="493.90" y="458.60" font-size="6.0" text-anchor="middle" transform="rotate(90 493.90 458.60)">WT + IL6</text>
<rect x="253.50" y="441.20" width="39.80" height="34.80" fill="#fff" stroke="#222" stroke-width="1.45"/>
<rect x="302.70" y="441.20" width="39.80" height="34.80" fill="#fff" stroke="#222" stroke-width="1.45"/>
<rect x="351.90" y="441.20" width="39.80" height="34.80" fill="#fff" stroke="#222" stroke-width="1.45"/>
<rect x="401.10" y="441.20" width="39.80" height="34.80" fill="#fff" stroke="#222" stroke-width="1.45"/>
<rect x="450.30" y="441.20" width="39.80" height="34.80" fill="#fff" stroke="#222" stroke-width="1.45"/>
<line x1="250.90" y1="442.60" x2="253.50" y2="442.60" stroke="#231f20" stroke-width="1.1" />
<text x="238.87" y="445.00" font-size="6.7" textLength="6.50" lengthAdjust="spacingAndGlyphs" fill="#231f20">10</text>
<text x="245.66" y="441.25" font-size="4.02" fill="#231f20" stroke="#231f20" stroke-width="0.15">5</text>
<line x1="250.90" y1="458.60" x2="253.50" y2="458.60" stroke="#231f20" stroke-width="1.1" />
<text x="238.87" y="461.00" font-size="6.7" textLength="6.50" lengthAdjust="spacingAndGlyphs" fill="#231f20">10</text>
<text x="245.66" y="457.25" font-size="4.02" fill="#231f20" stroke="#231f20" stroke-width="0.15">4</text>
<line x1="250.90" y1="474.80" x2="253.50" y2="474.80" stroke="#231f20" stroke-width="1.1" />
<text x="238.87" y="477.20" font-size="6.7" textLength="6.50" lengthAdjust="spacingAndGlyphs" fill="#231f20">10</text>
<text x="245.66" y="473.45" font-size="4.02" fill="#231f20" stroke="#231f20" stroke-width="0.15">3</text>
<rect x="490.10" y="487.40" width="11.80" height="34.80" fill="#c6c4c9" stroke="#222" stroke-width="1.45"/>
<rect x="491.45" y="488.75" width="9.10" height="32.10" fill="none" stroke="#e0dfe3" stroke-width="0.7"/>
<text x="493.90" y="504.80" font-size="6.0" text-anchor="middle" transform="rotate(90 493.90 504.80)">IDKO + ctrl</text>
<rect x="253.50" y="487.40" width="39.80" height="34.80" fill="#fff" stroke="#222" stroke-width="1.45"/>
<rect x="302.70" y="487.40" width="39.80" height="34.80" fill="#fff" stroke="#222" stroke-width="1.45"/>
<rect x="351.90" y="487.40" width="39.80" height="34.80" fill="#fff" stroke="#222" stroke-width="1.45"/>
<rect x="401.10" y="487.40" width="39.80" height="34.80" fill="#fff" stroke="#222" stroke-width="1.45"/>
<rect x="450.30" y="487.40" width="39.80" height="34.80" fill="#fff" stroke="#222" stroke-width="1.45"/>
<line x1="250.90" y1="488.80" x2="253.50" y2="488.80" stroke="#231f20" stroke-width="1.1" />
<text x="238.87" y="491.20" font-size="6.7" textLength="6.50" lengthAdjust="spacingAndGlyphs" fill="#231f20">10</text>
<text x="245.66" y="487.45" font-size="4.02" fill="#231f20" stroke="#231f20" stroke-width="0.15">5</text>
<line x1="250.90" y1="504.80" x2="253.50" y2="504.80" stroke="#231f20" stroke-width="1.1" />
<text x="238.87" y="507.20" font-size="6.7" textLength="6.50" lengthAdjust="spacingAndGlyphs" fill="#231f20">10</text>
<text x="245.66" y="503.45" font-size="4.02" fill="#231f20" stroke="#231f20" stroke-width="0.15">4</text>
<line x1="250.90" y1="521.00" x2="253.50" y2="521.00" stroke="#231f20" stroke-width="1.1" />
<text x="238.87" y="523.40" font-size="6.7" textLength="6.50" lengthAdjust="spacingAndGlyphs" fill="#231f20">10</text>
<text x="245.66" y="519.65" font-size="4.02" fill="#231f20" stroke="#231f20" stroke-width="0.15">3</text>
<rect x="490.10" y="533.60" width="11.80" height="34.80" fill="#c6c4c9" stroke="#222" stroke-width="1.45"/>
<rect x="491.45" y="534.95" width="9.10" height="32.10" fill="none" stroke="#e0dfe3" stroke-width="0.7"/>
<text x="493.90" y="551.00" font-size="6.0" text-anchor="middle" transform="rotate(90 493.90 551.00)">IDKO + IL6</text>
<rect x="253.50" y="533.60" width="39.80" height="34.80" fill="#fff" stroke="#222" stroke-width="1.45"/>
<rect x="302.70" y="533.60" width="39.80" height="34.80" fill="#fff" stroke="#222" stroke-width="1.45"/>
<rect x="351.90" y="533.60" width="39.80" height="34.80" fill="#fff" stroke="#222" stroke-width="1.45"/>
<rect x="401.10" y="533.60" width="39.80" height="34.80" fill="#fff" stroke="#222" stroke-width="1.45"/>
<rect x="450.30" y="533.60" width="39.80" height="34.80" fill="#fff" stroke="#222" stroke-width="1.45"/>
<line x1="250.90" y1="535.00" x2="253.50" y2="535.00" stroke="#231f20" stroke-width="1.1" />
<text x="238.87" y="537.40" font-size="6.7" textLength="6.50" lengthAdjust="spacingAndGlyphs" fill="#231f20">10</text>
<text x="245.66" y="533.65" font-size="4.02" fill="#231f20" stroke="#231f20" stroke-width="0.15">5</text>
<line x1="250.90" y1="551.00" x2="253.50" y2="551.00" stroke="#231f20" stroke-width="1.1" />
<text x="238.87" y="553.40" font-size="6.7" textLength="6.50" lengthAdjust="spacingAndGlyphs" fill="#231f20">10</text>
<text x="245.66" y="549.65" font-size="4.02" fill="#231f20" stroke="#231f20" stroke-width="0.15">4</text>
<line x1="250.90" y1="567.20" x2="253.50" y2="567.20" stroke="#231f20" stroke-width="1.1" />
<text x="238.87" y="569.60" font-size="6.7" textLength="6.50" lengthAdjust="spacingAndGlyphs" fill="#231f20">10</text>
<text x="245.66" y="565.85" font-size="4.02" fill="#231f20" stroke="#231f20" stroke-width="0.15">3</text>
<line x1="255.50" y1="568.40" x2="255.50" y2="571.20" stroke="#231f20" stroke-width="1.1" />
<text x="251.42" y="580.60" font-size="6.8" textLength="6.60" lengthAdjust="spacingAndGlyphs" fill="#231f20">10</text>
<text x="258.31" y="576.79" font-size="4.08" fill="#231f20" stroke="#231f20" stroke-width="0.15">3</text>
<line x1="273.50" y1="568.40" x2="273.50" y2="571.20" stroke="#231f20" stroke-width="1.1" />
<text x="269.42" y="580.60" font-size="6.8" textLength="6.60" lengthAdjust="spacingAndGlyphs" fill="#231f20">10</text>
<text x="276.31" y="576.79" font-size="4.08" fill="#231f20" stroke="#231f20" stroke-width="0.15">4</text>
<line x1="291.40" y1="568.40" x2="291.40" y2="571.20" stroke="#231f20" stroke-width="1.1" />
<text x="287.32" y="580.60" font-size="6.8" textLength="6.60" lengthAdjust="spacingAndGlyphs" fill="#231f20">10</text>
<text x="294.21" y="576.79" font-size="4.08" fill="#231f20" stroke="#231f20" stroke-width="0.15">5</text>
<line x1="304.70" y1="568.40" x2="304.70" y2="571.20" stroke="#231f20" stroke-width="1.1" />
<text x="300.62" y="580.60" font-size="6.8" textLength="6.60" lengthAdjust="spacingAndGlyphs" fill="#231f20">10</text>
<text x="307.51" y="576.79" font-size="4.08" fill="#231f20" stroke="#231f20" stroke-width="0.15">3</text>
<line x1="322.70" y1="568.40" x2="322.70" y2="571.20" stroke="#231f20" stroke-width="1.1" />
<text x="318.62" y="580.60" font-size="6.8" textLength="6.60" lengthAdjust="spacingAndGlyphs" fill="#231f20">10</text>
<text x="325.51" y="576.79" font-size="4.08" fill="#231f20" stroke="#231f20" stroke-width="0.15">4</text>
<line x1="340.60" y1="568.40" x2="340.60" y2="571.20" stroke="#231f20" stroke-width="1.1" />
<text x="336.52" y="580.60" font-size="6.8" textLength="6.60" lengthAdjust="spacingAndGlyphs" fill="#231f20">10</text>
<text x="343.41" y="576.79" font-size="4.08" fill="#231f20" stroke="#231f20" stroke-width="0.15">5</text>
<line x1="353.90" y1="568.40" x2="353.90" y2="571.20" stroke="#231f20" stroke-width="1.1" />
<text x="349.82" y="580.60" font-size="6.8" textLength="6.60" lengthAdjust="spacingAndGlyphs" fill="#231f20">10</text>
<text x="356.71" y="576.79" font-size="4.08" fill="#231f20" stroke="#231f20" stroke-width="0.15">3</text>
<line x1="371.90" y1="568.40" x2="371.90" y2="571.20" stroke="#231f20" stroke-width="1.1" />
<text x="367.82" y="580.60" font-size="6.8" textLength="6.60" lengthAdjust="spacingAndGlyphs" fill="#231f20">10</text>
<text x="374.71" y="576.79" font-size="4.08" fill="#231f20" stroke="#231f20" stroke-width="0.15">4</text>
<line x1="389.80" y1="568.40" x2="389.80" y2="571.20" stroke="#231f20" stroke-width="1.1" />
<text x="385.72" y="580.60" font-size="6.8" textLength="6.60" lengthAdjust="spacingAndGlyphs" fill="#231f20">10</text>
<text x="392.61" y="576.79" font-size="4.08" fill="#231f20" stroke="#231f20" stroke-width="0.15">5</text>
<line x1="403.10" y1="568.40" x2="403.10" y2="571.20" stroke="#231f20" stroke-width="1.1" />
<text x="399.02" y="580.60" font-size="6.8" textLength="6.60" lengthAdjust="spacingAndGlyphs" fill="#231f20">10</text>
<text x="405.91" y="576.79" font-size="4.08" fill="#231f20" stroke="#231f20" stroke-width="0.15">3</text>
<line x1="421.10" y1="568.40" x2="421.10" y2="571.20" stroke="#231f20" stroke-width="1.1" />
<text x="417.02" y="580.60" font-size="6.8" textLength="6.60" lengthAdjust="spacingAndGlyphs" fill="#231f20">10</text>
<text x="423.91" y="576.79" font-size="4.08" fill="#231f20" stroke="#231f20" stroke-width="0.15">4</text>
<line x1="439.00" y1="568.40" x2="439.00" y2="571.20" stroke="#231f20" stroke-width="1.1" />
<text x="434.92" y="580.60" font-size="6.8" textLength="6.60" lengthAdjust="spacingAndGlyphs" fill="#231f20">10</text>
<text x="441.81" y="576.79" font-size="4.08" fill="#231f20" stroke="#231f20" stroke-width="0.15">5</text>
<line x1="452.30" y1="568.40" x2="452.30" y2="571.20" stroke="#231f20" stroke-width="1.1" />
<text x="448.22" y="580.60" font-size="6.8" textLength="6.60" lengthAdjust="spacingAndGlyphs" fill="#231f20">10</text>
<text x="455.11" y="576.79" font-size="4.08" fill="#231f20" stroke="#231f20" stroke-width="0.15">3</text>
<line x1="470.30" y1="568.40" x2="470.30" y2="571.20" stroke="#231f20" stroke-width="1.1" />
<text x="466.22" y="580.60" font-size="6.8" textLength="6.60" lengthAdjust="spacingAndGlyphs" fill="#231f20">10</text>
<text x="473.11" y="576.79" font-size="4.08" fill="#231f20" stroke="#231f20" stroke-width="0.15">4</text>
<line x1="488.20" y1="568.40" x2="488.20" y2="571.20" stroke="#231f20" stroke-width="1.1" />
<text x="484.12" y="580.60" font-size="6.8" textLength="6.60" lengthAdjust="spacingAndGlyphs" fill="#231f20">10</text>
<text x="491.01" y="576.79" font-size="4.08" fill="#231f20" stroke="#231f20" stroke-width="0.15">5</text>
<text x="232.10" y="476.40" font-size="9.4" text-anchor="middle" textLength="24.80" lengthAdjust="spacingAndGlyphs" transform="rotate(-90 232.10 476.40)" >EPCR-PE</text>
<text x="377.75" y="593.40" font-size="9.6" text-anchor="middle" textLength="44.70" lengthAdjust="spacingAndGlyphs" >CD150 -PECy7</text>
<text x="318.90" y="610.50" font-size="6.6" textLength="40.20" lengthAdjust="spacingAndGlyphs" >EPCR/CD150</text>
<circle cx="371.2" cy="608.3" r="1.7" fill="#4a6fa8"/>
<text x="375.80" y="610.50" font-size="6.6" textLength="15.10" lengthAdjust="spacingAndGlyphs" >Hi/Hi</text>
<circle cx="403.0" cy="608.3" r="1.7" fill="#b8123f"/>
<text x="407.20" y="610.50" font-size="6.6" textLength="30.40" lengthAdjust="spacingAndGlyphs" >Non-Hi/Hi</text>
<circle cx="257.00" cy="413.50" r="1.35" fill="#b8123f" fill-opacity="0.85" stroke="#b8123f" stroke-width="0.5"/>
<circle cx="263.70" cy="422.10" r="1.35" fill="#b8123f" fill-opacity="0.85" stroke="#b8123f" stroke-width="0.5"/>
<circle cx="271.00" cy="427.00" r="1.35" fill="#b8123f" fill-opacity="0.85" stroke="#b8123f" stroke-width="0.5"/>
<circle cx="306.50" cy="420.50" r="1.35" fill="#b8123f" fill-opacity="0.85" stroke="#b8123f" stroke-width="0.5"/>
<circle cx="312.80" cy="428.00" r="1.35" fill="#b8123f" fill-opacity="0.85" stroke="#b8123f" stroke-width="0.5"/>
<circle cx="358.20" cy="418.60" r="1.35" fill="#b8123f" fill-opacity="0.85" stroke="#b8123f" stroke-width="0.5"/>
<circle cx="359.10" cy="424.40" r="1.35" fill="#b8123f" fill-opacity="0.85" stroke="#b8123f" stroke-width="0.5"/>
<circle cx="361.30" cy="423.70" r="1.35" fill="#b8123f" fill-opacity="0.85" stroke="#b8123f" stroke-width="0.5"/>
<circle cx="362.40" cy="425.50" r="1.35" fill="#b8123f" fill-opacity="0.85" stroke="#b8123f" stroke-width="0.5"/>
<circle cx="368.30" cy="422.60" r="1.35" fill="#b8123f" fill-opacity="0.85" stroke="#b8123f" stroke-width="0.5"/>
<circle cx="370.10" cy="414.90" r="1.35" fill="#b8123f" fill-opacity="0.85" stroke="#b8123f" stroke-width="0.5"/>
<circle cx="373.40" cy="418.20" r="1.35" fill="#b8123f" fill-opacity="0.85" stroke="#b8123f" stroke-width="0.5"/>
<circle cx="371.60" cy="426.20" r="1.35" fill="#b8123f" fill-opacity="0.85" stroke="#b8123f" stroke-width="0.5"/>
<circle cx="373.00" cy="426.40" r="1.35" fill="#b8123f" fill-opacity="0.85" stroke="#b8123f" stroke-width="0.5"/>
<circle cx="378.30" cy="414.60" r="1.35" fill="#4a6fa8" fill-opacity="0.85" stroke="#4a6fa8" stroke-width="0.5"/>
<circle cx="454.80" cy="406.70" r="1.35" fill="#b8123f" fill-opacity="0.85" stroke="#b8123f" stroke-width="0.5"/>
<circle cx="462.10" cy="410.40" r="1.35" fill="#b8123f" fill-opacity="0.85" stroke="#b8123f" stroke-width="0.5"/>
<circle cx="458.80" cy="414.00" r="1.35" fill="#b8123f" fill-opacity="0.85" stroke="#b8123f" stroke-width="0.5"/>
<circle cx="466.10" cy="411.30" r="1.35" fill="#b8123f" fill-opacity="0.85" stroke="#b8123f" stroke-width="0.5"/>
<circle cx="467.20" cy="415.30" r="1.35" fill="#b8123f" fill-opacity="0.85" stroke="#b8123f" stroke-width="0.5"/>
<circle cx="470.30" cy="418.60" r="1.35" fill="#b8123f" fill-opacity="0.85" stroke="#b8123f" stroke-width="0.5"/>
<circle cx="460.30" cy="421.90" r="1.35" fill="#b8123f" fill-opacity="0.85" stroke="#b8123f" stroke-width="0.5"/>
<circle cx="468.00" cy="404.90" r="1.35" fill="#4a6fa8" fill-opacity="0.85" stroke="#4a6fa8" stroke-width="0.5"/>
<circle cx="468.50" cy="407.60" r="1.35" fill="#4a6fa8" fill-opacity="0.85" stroke="#4a6fa8" stroke-width="0.5"/>
<circle cx="470.90" cy="409.80" r="1.35" fill="#4a6fa8" fill-opacity="0.85" stroke="#4a6fa8" stroke-width="0.5"/>
<circle cx="474.00" cy="413.50" r="1.35" fill="#4a6fa8" fill-opacity="0.85" stroke="#4a6fa8" stroke-width="0.5"/>
<circle cx="467.50" cy="409.00" r="1.35" fill="#4a6fa8" fill-opacity="0.85" stroke="#4a6fa8" stroke-width="0.5"/>
<circle cx="262.90" cy="459.70" r="1.35" fill="#b8123f" fill-opacity="0.85" stroke="#b8123f" stroke-width="0.5"/>
<circle cx="257.70" cy="469.20" r="1.35" fill="#b8123f" fill-opacity="0.85" stroke="#b8123f" stroke-width="0.5"/>
<circle cx="256.70" cy="473.60" r="1.35" fill="#b8123f" fill-opacity="0.85" stroke="#b8123f" stroke-width="0.5"/>
<circle cx="262.50" cy="466.80" r="1.35" fill="#b8123f" fill-opacity="0.85" stroke="#b8123f" stroke-width="0.5"/>
<circle cx="265.40" cy="467.80" r="1.35" fill="#b8123f" fill-opacity="0.85" stroke="#b8123f" stroke-width="0.5"/>
<circle cx="264.40" cy="471.70" r="1.35" fill="#b8123f" fill-opacity="0.85" stroke="#b8123f" stroke-width="0.5"/>
<circle cx="263.50" cy="473.60" r="1.35" fill="#b8123f" fill-opacity="0.85" stroke="#b8123f" stroke-width="0.5"/>
<circle cx="311.00" cy="461.30" r="1.35" fill="#b8123f" fill-opacity="0.85" stroke="#b8123f" stroke-width="0.5"/>
<circle cx="316.30" cy="470.30" r="1.35" fill="#b8123f" fill-opacity="0.85" stroke="#b8123f" stroke-width="0.5"/>
<circle cx="322.50" cy="469.70" r="1.35" fill="#b8123f" fill-opacity="0.85" stroke="#b8123f" stroke-width="0.5"/>
<circle cx="322.70" cy="473.60" r="1.35" fill="#b8123f" fill-opacity="0.85" stroke="#b8123f" stroke-width="0.5"/>
<circle cx="371.20" cy="455.70" r="1.35" fill="#4a6fa8" fill-opacity="0.85" stroke="#4a6fa8" stroke-width="0.5"/>
<circle cx="356.20" cy="465.30" r="1.35" fill="#b8123f" fill-opacity="0.85" stroke="#b8123f" stroke-width="0.5"/>
<circle cx="362.50" cy="472.60" r="1.35" fill="#b8123f" fill-opacity="0.85" stroke="#b8123f" stroke-width="0.5"/>
<circle cx="370.80" cy="469.30" r="1.35" fill="#b8123f" fill-opacity="0.85" stroke="#b8123f" stroke-width="0.5"/>
<circle cx="372.10" cy="471.10" r="1.35" fill="#b8123f" fill-opacity="0.85" stroke="#b8123f" stroke-width="0.5"/>
<circle cx="372.70" cy="469.70" r="1.35" fill="#b8123f" fill-opacity="0.85" stroke="#b8123f" stroke-width="0.5"/>
<circle cx="377.90" cy="468.80" r="1.35" fill="#b8123f" fill-opacity="0.85" stroke="#b8123f" stroke-width="0.5"/>
<circle cx="474.40" cy="444.90" r="1.35" fill="#4a6fa8" fill-opacity="0.85" stroke="#4a6fa8" stroke-width="0.5"/>
<circle cx="474.80" cy="446.10" r="1.35" fill="#4a6fa8" fill-opacity="0.85" stroke="#4a6fa8" stroke-width="0.5"/>
<circle cx="471.30" cy="449.50" r="1.35" fill="#4a6fa8" fill-opacity="0.85" stroke="#4a6fa8" stroke-width="0.5"/>
<circle cx="475.60" cy="452.10" r="1.35" fill="#4a6fa8" fill-opacity="0.85" stroke="#4a6fa8" stroke-width="0.5"/>
<circle cx="472.70" cy="454.70" r="1.35" fill="#4a6fa8" fill-opacity="0.85" stroke="#4a6fa8" stroke-width="0.5"/>
<circle cx="475.90" cy="455.30" r="1.35" fill="#4a6fa8" fill-opacity="0.85" stroke="#4a6fa8" stroke-width="0.5"/>
<circle cx="480.80" cy="455.30" r="1.35" fill="#4a6fa8" fill-opacity="0.85" stroke="#4a6fa8" stroke-width="0.5"/>
<circle cx="467.80" cy="455.30" r="1.35" fill="#4a6fa8" fill-opacity="0.85" stroke="#4a6fa8" stroke-width="0.5"/>
<circle cx="468.10" cy="459.90" r="1.35" fill="#4a6fa8" fill-opacity="0.85" stroke="#4a6fa8" stroke-width="0.5"/>
<circle cx="453.70" cy="455.30" r="1.35" fill="#b8123f" fill-opacity="0.85" stroke="#b8123f" stroke-width="0.5"/>
<circle cx="460.00" cy="457.00" r="1.35" fill="#b8123f" fill-opacity="0.85" stroke="#b8123f" stroke-width="0.5"/>
<circle cx="462.30" cy="456.50" r="1.35" fill="#b8123f" fill-opacity="0.85" stroke="#b8123f" stroke-width="0.5"/>
<circle cx="464.00" cy="457.00" r="1.35" fill="#b8123f" fill-opacity="0.85" stroke="#b8123f" stroke-width="0.5"/>
<circle cx="465.80" cy="458.20" r="1.35" fill="#b8123f" fill-opacity="0.85" stroke="#b8123f" stroke-width="0.5"/>
<circle cx="462.10" cy="459.30" r="1.35" fill="#b8123f" fill-opacity="0.85" stroke="#b8123f" stroke-width="0.5"/>
<circle cx="457.90" cy="461.10" r="1.35" fill="#b8123f" fill-opacity="0.85" stroke="#b8123f" stroke-width="0.5"/>
<circle cx="464.00" cy="464.50" r="1.35" fill="#b8123f" fill-opacity="0.85" stroke="#b8123f" stroke-width="0.5"/>
<circle cx="465.20" cy="466.30" r="1.35" fill="#b8123f" fill-opacity="0.85" stroke="#b8123f" stroke-width="0.5"/>
<circle cx="465.80" cy="467.40" r="1.35" fill="#b8123f" fill-opacity="0.85" stroke="#b8123f" stroke-width="0.5"/>
<circle cx="462.90" cy="468.00" r="1.35" fill="#b8123f" fill-opacity="0.85" stroke="#b8123f" stroke-width="0.5"/>
<circle cx="464.00" cy="469.20" r="1.35" fill="#b8123f" fill-opacity="0.85" stroke="#b8123f" stroke-width="0.5"/>
<circle cx="462.30" cy="470.30" r="1.35" fill="#b8123f" fill-opacity="0.85" stroke="#b8123f" stroke-width="0.5"/>
<circle cx="471.30" cy="465.10" r="1.35" fill="#b8123f" fill-opacity="0.85" stroke="#b8123f" stroke-width="0.5"/>
<circle cx="474.80" cy="465.70" r="1.35" fill="#b8123f" fill-opacity="0.85" stroke="#b8123f" stroke-width="0.5"/>
<circle cx="476.20" cy="463.20" r="1.35" fill="#b8123f" fill-opacity="0.85" stroke="#b8123f" stroke-width="0.5"/>
<circle cx="261.90" cy="510.50" r="1.35" fill="#b8123f" fill-opacity="0.85" stroke="#b8123f" stroke-width="0.5"/>
<circle cx="262.40" cy="510.00" r="1.35" fill="#b8123f" fill-opacity="0.85" stroke="#b8123f" stroke-width="0.5"/>
<circle cx="267.70" cy="518.60" r="1.35" fill="#b8123f" fill-opacity="0.85" stroke="#b8123f" stroke-width="0.5"/>
<circle cx="268.60" cy="518.30" r="1.35" fill="#b8123f" fill-opacity="0.85" stroke="#b8123f" stroke-width="0.5"/>
<circle cx="271.20" cy="519.20" r="1.35" fill="#b8123f" fill-opacity="0.85" stroke="#b8123f" stroke-width="0.5"/>
<circle cx="275.40" cy="518.60" r="1.35" fill="#b8123f" fill-opacity="0.85" stroke="#b8123f" stroke-width="0.5"/>
<circle cx="319.20" cy="510.90" r="1.35" fill="#b8123f" fill-opacity="0.85" stroke="#b8123f" stroke-width="0.5"/>
<circle cx="360.60" cy="506.10" r="1.35" fill="#b8123f" fill-opacity="0.85" stroke="#b8123f" stroke-width="0.5"/>
<circle cx="359.20" cy="509.00" r="1.35" fill="#b8123f" fill-opacity="0.85" stroke="#b8123f" stroke-width="0.5"/>
<circle cx="358.10" cy="511.90" r="1.35" fill="#b8123f" fill-opacity="0.85" stroke="#b8123f" stroke-width="0.5"/>
<circle cx="358.70" cy="510.00" r="1.35" fill="#b8123f" fill-opacity="0.85" stroke="#b8123f" stroke-width="0.5"/>
<circle cx="365.40" cy="504.20" r="1.35" fill="#b8123f" fill-opacity="0.85" stroke="#b8123f" stroke-width="0.5"/>
<circle cx="366.30" cy="506.10" r="1.35" fill="#b8123f" fill-opacity="0.85" stroke="#b8123f" stroke-width="0.5"/>
<circle cx="367.30" cy="508.00" r="1.35" fill="#b8123f" fill-opacity="0.85" stroke="#b8123f" stroke-width="0.5"/>
<circle cx="369.20" cy="510.00" r="1.35" fill="#b8123f" fill-opacity="0.85" stroke="#b8123f" stroke-width="0.5"/>
<circle cx="370.80" cy="511.90" r="1.35" fill="#b8123f" fill-opacity="0.85" stroke="#b8123f" stroke-width="0.5"/>
<circle cx="360.60" cy="515.70" r="1.35" fill="#b8123f" fill-opacity="0.85" stroke="#b8123f" stroke-width="0.5"/>
<circle cx="363.80" cy="513.80" r="1.35" fill="#b8123f" fill-opacity="0.85" stroke="#b8123f" stroke-width="0.5"/>
<circle cx="365.40" cy="514.80" r="1.35" fill="#b8123f" fill-opacity="0.85" stroke="#b8123f" stroke-width="0.5"/>
<circle cx="367.70" cy="517.70" r="1.35" fill="#b8123f" fill-opacity="0.85" stroke="#b8123f" stroke-width="0.5"/>
<circle cx="458.80" cy="497.30" r="1.35" fill="#b8123f" fill-opacity="0.85" stroke="#b8123f" stroke-width="0.5"/>
<circle cx="457.70" cy="503.60" r="1.35" fill="#b8123f" fill-opacity="0.85" stroke="#b8123f" stroke-width="0.5"/>
<circle cx="456.50" cy="505.90" r="1.35" fill="#b8123f" fill-opacity="0.85" stroke="#b8123f" stroke-width="0.5"/>
<circle cx="460.00" cy="504.80" r="1.35" fill="#b8123f" fill-opacity="0.85" stroke="#b8123f" stroke-width="0.5"/>
<circle cx="466.90" cy="504.20" r="1.35" fill="#b8123f" fill-opacity="0.85" stroke="#b8123f" stroke-width="0.5"/>
<circle cx="468.70" cy="498.40" r="1.35" fill="#4a6fa8" fill-opacity="0.85" stroke="#4a6fa8" stroke-width="0.5"/>
<circle cx="472.10" cy="497.80" r="1.35" fill="#4a6fa8" fill-opacity="0.85" stroke="#4a6fa8" stroke-width="0.5"/>
<circle cx="473.30" cy="496.10" r="1.35" fill="#4a6fa8" fill-opacity="0.85" stroke="#4a6fa8" stroke-width="0.5"/>
<circle cx="477.30" cy="497.80" r="1.35" fill="#4a6fa8" fill-opacity="0.85" stroke="#4a6fa8" stroke-width="0.5"/>
<circle cx="470.40" cy="505.90" r="1.35" fill="#4a6fa8" fill-opacity="0.85" stroke="#4a6fa8" stroke-width="0.5"/>
<circle cx="268.30" cy="552.70" r="1.35" fill="#b8123f" fill-opacity="0.85" stroke="#b8123f" stroke-width="0.5"/>
<circle cx="263.10" cy="556.90" r="1.35" fill="#b8123f" fill-opacity="0.85" stroke="#b8123f" stroke-width="0.5"/>
<circle cx="266.90" cy="558.50" r="1.35" fill="#b8123f" fill-opacity="0.85" stroke="#b8123f" stroke-width="0.5"/>
<circle cx="271.50" cy="563.10" r="1.35" fill="#b8123f" fill-opacity="0.85" stroke="#b8123f" stroke-width="0.5"/>
<circle cx="262.50" cy="565.20" r="1.35" fill="#b8123f" fill-opacity="0.85" stroke="#b8123f" stroke-width="0.5"/>
<circle cx="258.70" cy="564.60" r="1.35" fill="#b8123f" fill-opacity="0.85" stroke="#b8123f" stroke-width="0.5"/>
<circle cx="257.30" cy="566.50" r="1.35" fill="#b8123f" fill-opacity="0.85" stroke="#b8123f" stroke-width="0.5"/>
<circle cx="306.20" cy="552.50" r="1.35" fill="#b8123f" fill-opacity="0.85" stroke="#b8123f" stroke-width="0.5"/>
<circle cx="307.30" cy="556.50" r="1.35" fill="#b8123f" fill-opacity="0.85" stroke="#b8123f" stroke-width="0.5"/>
<circle cx="314.40" cy="555.00" r="1.35" fill="#b8123f" fill-opacity="0.85" stroke="#b8123f" stroke-width="0.5"/>
<circle cx="315.80" cy="556.50" r="1.35" fill="#b8123f" fill-opacity="0.85" stroke="#b8123f" stroke-width="0.5"/>
<circle cx="313.10" cy="559.20" r="1.35" fill="#b8123f" fill-opacity="0.85" stroke="#b8123f" stroke-width="0.5"/>
<circle cx="309.60" cy="561.20" r="1.35" fill="#b8123f" fill-opacity="0.85" stroke="#b8123f" stroke-width="0.5"/>
<circle cx="311.90" cy="562.30" r="1.35" fill="#b8123f" fill-opacity="0.85" stroke="#b8123f" stroke-width="0.5"/>
<circle cx="308.70" cy="565.00" r="1.35" fill="#b8123f" fill-opacity="0.85" stroke="#b8123f" stroke-width="0.5"/>
<circle cx="324.00" cy="563.10" r="1.35" fill="#b8123f" fill-opacity="0.85" stroke="#b8123f" stroke-width="0.5"/>
<circle cx="327.30" cy="563.30" r="1.35" fill="#b8123f" fill-opacity="0.85" stroke="#b8123f" stroke-width="0.5"/>
<circle cx="323.50" cy="565.60" r="1.35" fill="#b8123f" fill-opacity="0.85" stroke="#b8123f" stroke-width="0.5"/>
<circle cx="360.00" cy="548.30" r="1.35" fill="#b8123f" fill-opacity="0.85" stroke="#b8123f" stroke-width="0.5"/>
<circle cx="361.20" cy="552.10" r="1.35" fill="#b8123f" fill-opacity="0.85" stroke="#b8123f" stroke-width="0.5"/>
<circle cx="362.50" cy="551.50" r="1.35" fill="#b8123f" fill-opacity="0.85" stroke="#b8123f" stroke-width="0.5"/>
<circle cx="368.30" cy="554.40" r="1.35" fill="#b8123f" fill-opacity="0.85" stroke="#b8123f" stroke-width="0.5"/>
<circle cx="372.70" cy="554.00" r="1.35" fill="#b8123f" fill-opacity="0.85" stroke="#b8123f" stroke-width="0.5"/>
<circle cx="358.10" cy="560.40" r="1.35" fill="#b8123f" fill-opacity="0.85" stroke="#b8123f" stroke-width="0.5"/>
<circle cx="355.80" cy="561.70" r="1.35" fill="#b8123f" fill-opacity="0.85" stroke="#b8123f" stroke-width="0.5"/>
<circle cx="357.30" cy="564.20" r="1.35" fill="#b8123f" fill-opacity="0.85" stroke="#b8123f" stroke-width="0.5"/>
<circle cx="366.30" cy="559.80" r="1.35" fill="#b8123f" fill-opacity="0.85" stroke="#b8123f" stroke-width="0.5"/>
<circle cx="369.20" cy="561.70" r="1.35" fill="#b8123f" fill-opacity="0.85" stroke="#b8123f" stroke-width="0.5"/>
<circle cx="455.30" cy="549.40" r="1.35" fill="#b8123f" fill-opacity="0.85" stroke="#b8123f" stroke-width="0.5"/>
<circle cx="457.90" cy="551.70" r="1.35" fill="#b8123f" fill-opacity="0.85" stroke="#b8123f" stroke-width="0.5"/>
<circle cx="461.80" cy="552.70" r="1.35" fill="#b8123f" fill-opacity="0.85" stroke="#b8123f" stroke-width="0.5"/>
<circle cx="469.30" cy="548.80" r="1.35" fill="#4a6fa8" fill-opacity="0.85" stroke="#4a6fa8" stroke-width="0.5"/>
<circle cx="470.30" cy="552.70" r="1.35" fill="#4a6fa8" fill-opacity="0.85" stroke="#4a6fa8" stroke-width="0.5"/>
<circle cx="408.10" cy="401.30" r="1.35" fill="#b8123f" fill-opacity="0.85" stroke="#b8123f" stroke-width="0.5"/>
<circle cx="416.60" cy="404.50" r="1.35" fill="#b8123f" fill-opacity="0.85" stroke="#b8123f" stroke-width="0.5"/>
<circle cx="410.10" cy="408.50" r="1.35" fill="#b8123f" fill-opacity="0.85" stroke="#b8123f" stroke-width="0.5"/>
<circle cx="412.90" cy="409.30" r="1.35" fill="#b8123f" fill-opacity="0.85" stroke="#b8123f" stroke-width="0.5"/>
<circle cx="408.90" cy="413.00" r="1.35" fill="#b8123f" fill-opacity="0.85" stroke="#b8123f" stroke-width="0.5"/>
<circle cx="411.30" cy="411.40" r="1.35" fill="#b8123f" fill-opacity="0.85" stroke="#b8123f" stroke-width="0.5"/>
<circle cx="413.70" cy="412.20" r="1.35" fill="#b8123f" fill-opacity="0.85" stroke="#b8123f" stroke-width="0.5"/>
<circle cx="414.90" cy="413.80" r="1.35" fill="#b8123f" fill-opacity="0.85" stroke="#b8123f" stroke-width="0.5"/>
<circle cx="417.00" cy="413.40" r="1.35" fill="#b8123f" fill-opacity="0.85" stroke="#b8123f" stroke-width="0.5"/>
<circle cx="413.30" cy="415.80" r="1.35" fill="#b8123f" fill-opacity="0.85" stroke="#b8123f" stroke-width="0.5"/>
<circle cx="414.10" cy="417.40" r="1.35" fill="#b8123f" fill-opacity="0.85" stroke="#b8123f" stroke-width="0.5"/>
<circle cx="416.20" cy="417.00" r="1.35" fill="#b8123f" fill-opacity="0.85" stroke="#b8123f" stroke-width="0.5"/>
<circle cx="418.60" cy="417.80" r="1.35" fill="#b8123f" fill-opacity="0.85" stroke="#b8123f" stroke-width="0.5"/>
<circle cx="420.60" cy="417.40" r="1.35" fill="#b8123f" fill-opacity="0.85" stroke="#b8123f" stroke-width="0.5"/>
<circle cx="422.60" cy="415.80" r="1.35" fill="#b8123f" fill-opacity="0.85" stroke="#b8123f" stroke-width="0.5"/>
<circle cx="424.20" cy="416.60" r="1.35" fill="#b8123f" fill-opacity="0.85" stroke="#b8123f" stroke-width="0.5"/>
<circle cx="425.80" cy="417.40" r="1.35" fill="#b8123f" fill-opacity="0.85" stroke="#b8123f" stroke-width="0.5"/>
<circle cx="421.40" cy="418.60" r="1.35" fill="#b8123f" fill-opacity="0.85" stroke="#b8123f" stroke-width="0.5"/>
<circle cx="417.00" cy="419.80" r="1.35" fill="#b8123f" fill-opacity="0.85" stroke="#b8123f" stroke-width="0.5"/>
<circle cx="416.60" cy="421.90" r="1.35" fill="#b8123f" fill-opacity="0.85" stroke="#b8123f" stroke-width="0.5"/>
<circle cx="408.10" cy="420.70" r="1.35" fill="#b8123f" fill-opacity="0.85" stroke="#b8123f" stroke-width="0.5"/>
<circle cx="407.70" cy="422.30" r="1.35" fill="#b8123f" fill-opacity="0.85" stroke="#b8123f" stroke-width="0.5"/>
<circle cx="409.70" cy="421.90" r="1.35" fill="#b8123f" fill-opacity="0.85" stroke="#b8123f" stroke-width="0.5"/>
<circle cx="410.50" cy="423.50" r="1.35" fill="#b8123f" fill-opacity="0.85" stroke="#b8123f" stroke-width="0.5"/>
<circle cx="419.80" cy="425.10" r="1.35" fill="#b8123f" fill-opacity="0.85" stroke="#b8123f" stroke-width="0.5"/>
<circle cx="421.40" cy="425.50" r="1.35" fill="#b8123f" fill-opacity="0.85" stroke="#b8123f" stroke-width="0.5"/>
<circle cx="412.90" cy="425.90" r="1.35" fill="#b8123f" fill-opacity="0.85" stroke="#b8123f" stroke-width="0.5"/>
<circle cx="411.70" cy="427.10" r="1.35" fill="#b8123f" fill-opacity="0.85" stroke="#b8123f" stroke-width="0.5"/>
<circle cx="419.40" cy="418.20" r="1.35" fill="#b8123f" fill-opacity="0.85" stroke="#b8123f" stroke-width="0.5"/>
<circle cx="412.10" cy="414.20" r="1.35" fill="#b8123f" fill-opacity="0.85" stroke="#b8123f" stroke-width="0.5"/>
<circle cx="411.30" cy="451.30" r="1.35" fill="#b8123f" fill-opacity="0.85" stroke="#b8123f" stroke-width="0.5"/>
<circle cx="412.50" cy="457.40" r="1.35" fill="#b8123f" fill-opacity="0.85" stroke="#b8123f" stroke-width="0.5"/>
<circle cx="414.90" cy="457.00" r="1.35" fill="#b8123f" fill-opacity="0.85" stroke="#b8123f" stroke-width="0.5"/>
<circle cx="406.10" cy="460.20" r="1.35" fill="#b8123f" fill-opacity="0.85" stroke="#b8123f" stroke-width="0.5"/>
<circle cx="412.50" cy="459.40" r="1.35" fill="#b8123f" fill-opacity="0.85" stroke="#b8123f" stroke-width="0.5"/>
<circle cx="414.90" cy="459.80" r="1.35" fill="#b8123f" fill-opacity="0.85" stroke="#b8123f" stroke-width="0.5"/>
<circle cx="417.40" cy="460.20" r="1.35" fill="#b8123f" fill-opacity="0.85" stroke="#b8123f" stroke-width="0.5"/>
<circle cx="406.50" cy="463.40" r="1.35" fill="#b8123f" fill-opacity="0.85" stroke="#b8123f" stroke-width="0.5"/>
<circle cx="412.10" cy="461.80" r="1.35" fill="#b8123f" fill-opacity="0.85" stroke="#b8123f" stroke-width="0.5"/>
<circle cx="412.50" cy="463.40" r="1.35" fill="#b8123f" fill-opacity="0.85" stroke="#b8123f" stroke-width="0.5"/>
<circle cx="418.20" cy="463.40" r="1.35" fill="#b8123f" fill-opacity="0.85" stroke="#b8123f" stroke-width="0.5"/>
<circle cx="419.80" cy="463.80" r="1.35" fill="#b8123f" fill-opacity="0.85" stroke="#b8123f" stroke-width="0.5"/>
<circle cx="425.00" cy="461.40" r="1.35" fill="#b8123f" fill-opacity="0.85" stroke="#b8123f" stroke-width="0.5"/>
<circle cx="429.50" cy="461.40" r="1.35" fill="#b8123f" fill-opacity="0.85" stroke="#b8123f" stroke-width="0.5"/>
<circle cx="425.00" cy="464.20" r="1.35" fill="#b8123f" fill-opacity="0.85" stroke="#b8123f" stroke-width="0.5"/>
<circle cx="404.40" cy="466.30" r="1.35" fill="#b8123f" fill-opacity="0.85" stroke="#b8123f" stroke-width="0.5"/>
<circle cx="409.70" cy="467.50" r="1.35" fill="#b8123f" fill-opacity="0.85" stroke="#b8123f" stroke-width="0.5"/>
<circle cx="413.30" cy="466.30" r="1.35" fill="#b8123f" fill-opacity="0.85" stroke="#b8123f" stroke-width="0.5"/>
<circle cx="421.80" cy="469.10" r="1.35" fill="#b8123f" fill-opacity="0.85" stroke="#b8123f" stroke-width="0.5"/>
<circle cx="422.60" cy="471.90" r="1.35" fill="#b8123f" fill-opacity="0.85" stroke="#b8123f" stroke-width="0.5"/>
<circle cx="416.60" cy="473.10" r="1.35" fill="#b8123f" fill-opacity="0.85" stroke="#b8123f" stroke-width="0.5"/>
<circle cx="404.80" cy="473.50" r="1.35" fill="#b8123f" fill-opacity="0.85" stroke="#b8123f" stroke-width="0.5"/>
<circle cx="405.70" cy="473.90" r="1.35" fill="#b8123f" fill-opacity="0.85" stroke="#b8123f" stroke-width="0.5"/>
<circle cx="404.00" cy="500.50" r="1.35" fill="#b8123f" fill-opacity="0.85" stroke="#b8123f" stroke-width="0.5"/>
<circle cx="407.70" cy="502.20" r="1.35" fill="#b8123f" fill-opacity="0.85" stroke="#b8123f" stroke-width="0.5"/>
<circle cx="414.90" cy="502.60" r="1.35" fill="#b8123f" fill-opacity="0.85" stroke="#b8123f" stroke-width="0.5"/>
<circle cx="408.90" cy="505.80" r="1.35" fill="#b8123f" fill-opacity="0.85" stroke="#b8123f" stroke-width="0.5"/>
<circle cx="404.40" cy="509.80" r="1.35" fill="#b8123f" fill-opacity="0.85" stroke="#b8123f" stroke-width="0.5"/>
<circle cx="406.50" cy="509.40" r="1.35" fill="#b8123f" fill-opacity="0.85" stroke="#b8123f" stroke-width="0.5"/>
<circle cx="410.50" cy="510.20" r="1.35" fill="#b8123f" fill-opacity="0.85" stroke="#b8123f" stroke-width="0.5"/>
<circle cx="412.90" cy="509.40" r="1.35" fill="#b8123f" fill-opacity="0.85" stroke="#b8123f" stroke-width="0.5"/>
<circle cx="415.30" cy="508.20" r="1.35" fill="#b8123f" fill-opacity="0.85" stroke="#b8123f" stroke-width="0.5"/>
<circle cx="417.80" cy="509.80" r="1.35" fill="#b8123f" fill-opacity="0.85" stroke="#b8123f" stroke-width="0.5"/>
<circle cx="420.20" cy="510.20" r="1.35" fill="#b8123f" fill-opacity="0.85" stroke="#b8123f" stroke-width="0.5"/>
<circle cx="405.70" cy="512.70" r="1.35" fill="#b8123f" fill-opacity="0.85" stroke="#b8123f" stroke-width="0.5"/>
<circle cx="408.10" cy="511.80" r="1.35" fill="#b8123f" fill-opacity="0.85" stroke="#b8123f" stroke-width="0.5"/>
<circle cx="412.10" cy="512.70" r="1.35" fill="#b8123f" fill-opacity="0.85" stroke="#b8123f" stroke-width="0.5"/>
<circle cx="416.20" cy="511.80" r="1.35" fill="#b8123f" fill-opacity="0.85" stroke="#b8123f" stroke-width="0.5"/>
<circle cx="419.40" cy="512.70" r="1.35" fill="#b8123f" fill-opacity="0.85" stroke="#b8123f" stroke-width="0.5"/>
<circle cx="409.70" cy="515.10" r="1.35" fill="#b8123f" fill-opacity="0.85" stroke="#b8123f" stroke-width="0.5"/>
<circle cx="413.70" cy="514.30" r="1.35" fill="#b8123f" fill-opacity="0.85" stroke="#b8123f" stroke-width="0.5"/>
<circle cx="417.00" cy="514.70" r="1.35" fill="#b8123f" fill-opacity="0.85" stroke="#b8123f" stroke-width="0.5"/>
<circle cx="414.50" cy="516.70" r="1.35" fill="#b8123f" fill-opacity="0.85" stroke="#b8123f" stroke-width="0.5"/>
<circle cx="404.40" cy="517.50" r="1.35" fill="#b8123f" fill-opacity="0.85" stroke="#b8123f" stroke-width="0.5"/>
<circle cx="404.80" cy="519.10" r="1.35" fill="#b8123f" fill-opacity="0.85" stroke="#b8123f" stroke-width="0.5"/>
<circle cx="415.80" cy="519.10" r="1.35" fill="#b8123f" fill-opacity="0.85" stroke="#b8123f" stroke-width="0.5"/>
<circle cx="404.80" cy="547.80" r="1.35" fill="#b8123f" fill-opacity="0.85" stroke="#b8123f" stroke-width="0.5"/>
<circle cx="406.10" cy="549.00" r="1.35" fill="#b8123f" fill-opacity="0.85" stroke="#b8123f" stroke-width="0.5"/>
<circle cx="407.30" cy="550.20" r="1.35" fill="#b8123f" fill-opacity="0.85" stroke="#b8123f" stroke-width="0.5"/>
<circle cx="411.70" cy="544.90" r="1.35" fill="#b8123f" fill-opacity="0.85" stroke="#b8123f" stroke-width="0.5"/>
<circle cx="413.70" cy="546.90" r="1.35" fill="#b8123f" fill-opacity="0.85" stroke="#b8123f" stroke-width="0.5"/>
<circle cx="408.90" cy="551.40" r="1.35" fill="#b8123f" fill-opacity="0.85" stroke="#b8123f" stroke-width="0.5"/>
<circle cx="411.30" cy="549.40" r="1.35" fill="#b8123f" fill-opacity="0.85" stroke="#b8123f" stroke-width="0.5"/>
<circle cx="412.90" cy="550.60" r="1.35" fill="#b8123f" fill-opacity="0.85" stroke="#b8123f" stroke-width="0.5"/>
<circle cx="417.40" cy="549.40" r="1.35" fill="#b8123f" fill-opacity="0.85" stroke="#b8123f" stroke-width="0.5"/>
<circle cx="417.80" cy="551.40" r="1.35" fill="#b8123f" fill-opacity="0.85" stroke="#b8123f" stroke-width="0.5"/>
<circle cx="409.70" cy="553.40" r="1.35" fill="#b8123f" fill-opacity="0.85" stroke="#b8123f" stroke-width="0.5"/>
<circle cx="412.10" cy="553.00" r="1.35" fill="#b8123f" fill-opacity="0.85" stroke="#b8123f" stroke-width="0.5"/>
<circle cx="414.10" cy="553.80" r="1.35" fill="#b8123f" fill-opacity="0.85" stroke="#b8123f" stroke-width="0.5"/>
<circle cx="410.50" cy="555.40" r="1.35" fill="#b8123f" fill-opacity="0.85" stroke="#b8123f" stroke-width="0.5"/>
<circle cx="412.90" cy="556.20" r="1.35" fill="#b8123f" fill-opacity="0.85" stroke="#b8123f" stroke-width="0.5"/>
<circle cx="415.30" cy="555.40" r="1.35" fill="#b8123f" fill-opacity="0.85" stroke="#b8123f" stroke-width="0.5"/>
<circle cx="420.60" cy="555.80" r="1.35" fill="#b8123f" fill-opacity="0.85" stroke="#b8123f" stroke-width="0.5"/>
<circle cx="421.00" cy="556.60" r="1.35" fill="#b8123f" fill-opacity="0.85" stroke="#b8123f" stroke-width="0.5"/>
<circle cx="410.90" cy="557.80" r="1.35" fill="#b8123f" fill-opacity="0.85" stroke="#b8123f" stroke-width="0.5"/>
<circle cx="414.90" cy="558.70" r="1.35" fill="#b8123f" fill-opacity="0.85" stroke="#b8123f" stroke-width="0.5"/>
<circle cx="410.50" cy="560.30" r="1.35" fill="#b8123f" fill-opacity="0.85" stroke="#b8123f" stroke-width="0.5"/>
<circle cx="417.40" cy="563.10" r="1.35" fill="#b8123f" fill-opacity="0.85" stroke="#b8123f" stroke-width="0.5"/>
<circle cx="409.70" cy="564.70" r="1.35" fill="#b8123f" fill-opacity="0.85" stroke="#b8123f" stroke-width="0.5"/>
<circle cx="429.50" cy="402.50" r="1.35" fill="#4a6fa8" fill-opacity="0.85" stroke="#4a6fa8" stroke-width="0.5"/>
<circle cx="425.80" cy="407.30" r="1.35" fill="#4a6fa8" fill-opacity="0.85" stroke="#4a6fa8" stroke-width="0.5"/>
<circle cx="423.80" cy="408.10" r="1.35" fill="#4a6fa8" fill-opacity="0.85" stroke="#4a6fa8" stroke-width="0.5"/>
<circle cx="421.80" cy="409.30" r="1.35" fill="#4a6fa8" fill-opacity="0.85" stroke="#4a6fa8" stroke-width="0.5"/>
<circle cx="419.80" cy="410.60" r="1.35" fill="#4a6fa8" fill-opacity="0.85" stroke="#4a6fa8" stroke-width="0.5"/>
<circle cx="424.20" cy="410.60" r="1.35" fill="#4a6fa8" fill-opacity="0.85" stroke="#4a6fa8" stroke-width="0.5"/>
<circle cx="427.50" cy="411.40" r="1.35" fill="#4a6fa8" fill-opacity="0.85" stroke="#4a6fa8" stroke-width="0.5"/>
<circle cx="422.60" cy="412.60" r="1.35" fill="#4a6fa8" fill-opacity="0.85" stroke="#4a6fa8" stroke-width="0.5"/>
<circle cx="425.00" cy="413.40" r="1.35" fill="#4a6fa8" fill-opacity="0.85" stroke="#4a6fa8" stroke-width="0.5"/>
<circle cx="426.70" cy="413.00" r="1.35" fill="#4a6fa8" fill-opacity="0.85" stroke="#4a6fa8" stroke-width="0.5"/>
<circle cx="421.00" cy="411.40" r="1.35" fill="#4a6fa8" fill-opacity="0.85" stroke="#4a6fa8" stroke-width="0.5"/>
<circle cx="425.80" cy="414.60" r="1.35" fill="#4a6fa8" fill-opacity="0.85" stroke="#4a6fa8" stroke-width="0.5"/>
<circle cx="419.80" cy="460.20" r="1.35" fill="#4a6fa8" fill-opacity="0.85" stroke="#4a6fa8" stroke-width="0.5"/>
<circle cx="426.70" cy="460.60" r="1.35" fill="#4a6fa8" fill-opacity="0.85" stroke="#4a6fa8" stroke-width="0.5"/>
<circle cx="420.60" cy="498.90" r="1.35" fill="#4a6fa8" fill-opacity="0.85" stroke="#4a6fa8" stroke-width="0.5"/>
<circle cx="423.00" cy="500.90" r="1.35" fill="#4a6fa8" fill-opacity="0.85" stroke="#4a6fa8" stroke-width="0.5"/>
<circle cx="424.20" cy="502.60" r="1.35" fill="#4a6fa8" fill-opacity="0.85" stroke="#4a6fa8" stroke-width="0.5"/>
<circle cx="422.60" cy="503.80" r="1.35" fill="#4a6fa8" fill-opacity="0.85" stroke="#4a6fa8" stroke-width="0.5"/>
<circle cx="419.00" cy="505.40" r="1.35" fill="#4a6fa8" fill-opacity="0.85" stroke="#4a6fa8" stroke-width="0.5"/>
<circle cx="419.00" cy="507.40" r="1.35" fill="#4a6fa8" fill-opacity="0.85" stroke="#4a6fa8" stroke-width="0.5"/>
<circle cx="420.60" cy="542.10" r="1.35" fill="#4a6fa8" fill-opacity="0.85" stroke="#4a6fa8" stroke-width="0.5"/>
<circle cx="421.80" cy="546.50" r="1.35" fill="#4a6fa8" fill-opacity="0.85" stroke="#4a6fa8" stroke-width="0.5"/>
<circle cx="422.60" cy="549.40" r="1.35" fill="#4a6fa8" fill-opacity="0.85" stroke="#4a6fa8" stroke-width="0.5"/>
<circle cx="421.00" cy="551.00" r="1.35" fill="#4a6fa8" fill-opacity="0.85" stroke="#4a6fa8" stroke-width="0.5"/>
<circle cx="424.20" cy="552.60" r="1.35" fill="#4a6fa8" fill-opacity="0.85" stroke="#4a6fa8" stroke-width="0.5"/>
<circle cx="427.50" cy="551.40" r="1.35" fill="#4a6fa8" fill-opacity="0.85" stroke="#4a6fa8" stroke-width="0.5"/>
<text x="7.00" y="342.60" font-size="14.5" font-weight="bold" fill="#000" textLength="10.80" lengthAdjust="spacingAndGlyphs" >G</text>
<text x="68.10" y="359.00" font-size="7.4" font-weight="bold" fill="#111" textLength="18.70" lengthAdjust="spacingAndGlyphs" >Aging</text>
<line x1="90.10" y1="356.70" x2="97.37" y2="356.70" stroke="#000" stroke-width="1.0"/>
<path d="M101.20 356.70L95.60 358.90L97.17 356.70L95.60 354.50Z" fill="#000"/>
<line x1="106.90" y1="349.10" x2="106.90" y2="359.62" stroke="#b0002c" stroke-width="1.5"/>
<path d="M106.90 363.60L104.20 357.80L106.90 359.42L109.60 357.80Z" fill="#b0002c"/>
<text x="114.90" y="359.00" font-size="7.2" font-weight="bold" font-style="italic" fill="#b0002c" textLength="29.80" lengthAdjust="spacingAndGlyphs" >miR-146a</text>
<line x1="129.00" y1="364.00" x2="129.00" y2="371.37" stroke="#000" stroke-width="1.4"/>
<path d="M129.00 375.20L126.30 369.60L129.00 371.17L131.70 369.60Z" fill="#000"/>
<line x1="129.00" y1="391.80" x2="129.00" y2="399.17" stroke="#000" stroke-width="1.4"/>
<path d="M129.00 403.00L126.30 397.40L129.00 398.97L131.70 397.40Z" fill="#000"/>
<line x1="129.00" y1="419.60" x2="129.00" y2="426.77" stroke="#000" stroke-width="1.4"/>
<path d="M129.00 430.60L126.30 425.00L129.00 426.57L131.70 425.00Z" fill="#000"/>
<line x1="113.90" y1="390.60" x2="113.90" y2="379.89" stroke="#7dbb5e" stroke-width="1.5"/>
<path d="M113.90 376.20L116.60 381.60L113.90 380.09L111.20 381.60Z" fill="#7dbb5e"/>
<text x="119.10" y="385.80" font-size="7.4" font-weight="bold" fill="#6ab04c" textLength="21.00" lengthAdjust="spacingAndGlyphs" >TRAF6</text>
<line x1="113.90" y1="418.40" x2="113.90" y2="407.89" stroke="#7dbb5e" stroke-width="1.5"/>
<path d="M113.90 404.20L116.60 409.60L113.90 408.09L111.20 409.60Z" fill="#7dbb5e"/>
<text x="120.00" y="413.60" font-size="7.4" font-weight="bold" fill="#6ab04c" textLength="19.20" lengthAdjust="spacingAndGlyphs" >NF-κB</text>
<line x1="118.80" y1="447.40" x2="118.80" y2="436.89" stroke="#7dbb5e" stroke-width="1.5"/>
<path d="M118.80 433.20L121.50 438.60L118.80 437.09L116.10 438.60Z" fill="#7dbb5e"/>
<text x="124.60" y="442.60" font-size="7.4" font-weight="bold" fill="#6ab04c" textLength="9.40" lengthAdjust="spacingAndGlyphs" >IL6</text>
<line x1="139.60" y1="440.00" x2="147.36" y2="440.00" stroke="#000" stroke-width="1.1"/>
<path d="M150.90 440.00L145.70 442.20L147.16 440.00L145.70 437.80Z" fill="#000"/>
<line x1="156.50" y1="447.40" x2="156.50" y2="436.89" stroke="#7dbb5e" stroke-width="1.5"/>
<path d="M156.50 433.20L159.20 438.60L156.50 437.09L153.80 438.60Z" fill="#7dbb5e"/>
<text x="162.70" y="442.60" font-size="7.4" font-weight="bold" fill="#6ab04c" textLength="12.70" lengthAdjust="spacingAndGlyphs" >TNF</text>
<line x1="130.90" y1="450.00" x2="138.88" y2="463.27" stroke="#000" stroke-width="1.3"/>
<path d="M141.00 466.80L135.94 462.84L138.77 463.10L139.88 460.47Z" fill="#000"/>
<line x1="167.00" y1="450.00" x2="159.02" y2="463.27" stroke="#000" stroke-width="1.3"/>
<path d="M156.90 466.80L158.02 460.47L159.13 463.10L161.96 462.84Z" fill="#000"/>
<defs><linearGradient id="tg" x1="0" y1="0" x2="0" y2="1"><stop offset="0" stop-color="#a0a0a0"/><stop offset="1" stop-color="#5c5c5c"/></linearGradient></defs>
<path d="M119.7 484.4L110.6 500.4H128.9Z" fill="url(#tg)" stroke="#333" stroke-width="0.7"/>
<line x1="83.3" y1="474.0" x2="156.6" y2="495.0" stroke="#333" stroke-width="1.7"/>
<circle cx="90.9" cy="472.5" r="2.2" fill="#4a6fb0" stroke="#1a2440" stroke-width="0.6"/>
<circle cx="96.8" cy="470.0" r="2.2" fill="#4a6fb0" stroke="#1a2440" stroke-width="0.6"/>
<circle cx="98.3" cy="475.1" r="2.2" fill="#4a6fb0" stroke="#1a2440" stroke-width="0.6"/>
<circle cx="145.2" cy="477.4" r="2.2" fill="#c8224e" stroke="#40000e" stroke-width="0.6"/>
<circle cx="150.2" cy="478.2" r="2.2" fill="#c8224e" stroke="#40000e" stroke-width="0.6"/>
<circle cx="145.2" cy="482.0" r="2.2" fill="#c8224e" stroke="#40000e" stroke-width="0.6"/>
<circle cx="154.5" cy="482.8" r="2.2" fill="#c8224e" stroke="#40000e" stroke-width="0.6"/>
<circle cx="148.3" cy="485.4" r="2.2" fill="#c8224e" stroke="#40000e" stroke-width="0.6"/>
<circle cx="142.8" cy="486.9" r="2.2" fill="#c8224e" stroke="#40000e" stroke-width="0.6"/>
<circle cx="149.8" cy="489.7" r="2.2" fill="#c8224e" stroke="#40000e" stroke-width="0.6"/>
<circle cx="153.5" cy="488.2" r="2.2" fill="#c8224e" stroke="#40000e" stroke-width="0.6"/>
<circle cx="151.6" cy="486.4" r="2.2" fill="#c8224e" stroke="#40000e" stroke-width="0.6"/>
<text x="118.30" y="508.90" font-size="6.4" text-anchor="middle" font-weight="bold" fill="#111" textLength="29.20" lengthAdjust="spacingAndGlyphs" >HSC Pool</text>
<line x1="150.60" y1="500.50" x2="150.60" y2="515.97" stroke="#000" stroke-width="1.2"/>
<path d="M150.60 519.80L148.20 514.20L150.60 515.77L153.00 514.20Z" fill="#000"/>
<text x="150.60" y="529.00" font-size="7.0" text-anchor="middle" font-weight="bold" fill="#111" textLength="24.50" lengthAdjust="spacingAndGlyphs" >Myeloid</text>
<text x="150.60" y="537.20" font-size="7.0" text-anchor="middle" font-weight="bold" fill="#111" textLength="35.50" lengthAdjust="spacingAndGlyphs" >Malignancy</text>
<text x="33.20" y="458.80" font-size="6.9" font-weight="bold" fill="#111" textLength="19.10" lengthAdjust="spacingAndGlyphs" >Young</text>
<line x1="33.20" y1="463.30" x2="52.30" y2="463.30" stroke="#222" stroke-width="1.4" />
<text x="78.20" y="470.50" font-size="5.9" text-anchor="end" textLength="29.20" lengthAdjust="spacingAndGlyphs" >Quiescence</text>
<text x="78.20" y="476.70" font-size="5.9" text-anchor="end" textLength="70.90" lengthAdjust="spacingAndGlyphs" >Stem-like marker expression</text>
<text x="78.20" y="482.70" font-size="5.9" text-anchor="end" textLength="65.20" lengthAdjust="spacingAndGlyphs" >Stem-like epigenetic state</text>
<text x="174.00" y="480.20" font-size="6.9" font-weight="bold" fill="#111" textLength="11.00" lengthAdjust="spacingAndGlyphs" >Old</text>
<line x1="174.50" y1="483.70" x2="184.80" y2="483.70" stroke="#222" stroke-width="1.4" />
<text x="161.30" y="491.50" font-size="5.9" textLength="46.80" lengthAdjust="spacingAndGlyphs" >Loss of quiescence</text>
<text x="161.30" y="498.00" font-size="5.9" textLength="41.80" lengthAdjust="spacingAndGlyphs" >Myeloid skewing</text>
<text x="161.30" y="504.50" font-size="5.9" textLength="46.00" lengthAdjust="spacingAndGlyphs" >Maligant potential</text>
<rect x="0" y="0" width="1" height="620" fill="#000"/>
<rect x="0" y="0" width="520" height="1" fill="#000"/>
<rect x="518.7" y="0" width="1.3" height="620" fill="#000"/>
<rect x="0" y="618.9" width="520" height="1.1" fill="#000"/>
</svg>
</body></html>
